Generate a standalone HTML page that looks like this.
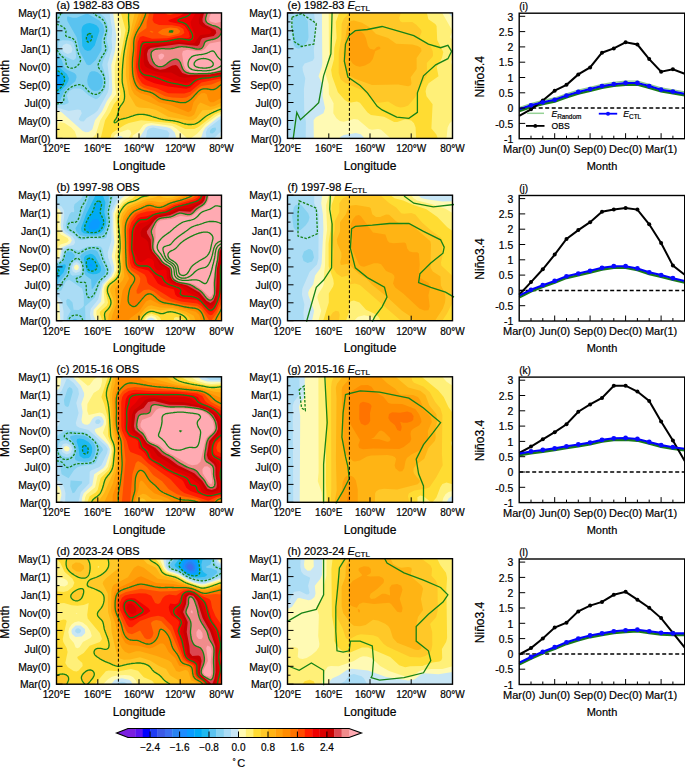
<!DOCTYPE html><html><head><meta charset="utf-8"><style>
html,body{margin:0;padding:0;background:#fff;width:685px;height:768px;overflow:hidden}
body>svg{position:absolute;left:0;top:0}
text{font-family:"Liberation Sans",sans-serif;fill:#000;stroke:#000;stroke-width:0.2px}
</style></head><body>
<svg width="685" height="768" viewBox="0 0 685 768">
<svg x="56.5" y="12.9" width="165" height="125.5" overflow="hidden"><g>
<rect width="165" height="125.5" fill="#1E8CFF"/>
<path fill="#0A9BFF" fill-rule="evenodd" d="M0 0.0 165 0.0 165 125.5 0 125.5Z"/>
<path fill="#00AAF5" fill-rule="evenodd" d="M0 0.0 165 0.0 165 125.5 0 125.5 0 74.8 3.6 71.3 4.6 67.3 3 63.4 0 61.2Z"/>
<path fill="#1EB9F0" fill-rule="evenodd" d="M0 0.0 165 0.0 165 125.5 0 125.5 0 77.9 5.5 73.3 7.7 69.3 8.2 66.3 6.6 62.2 0 57.3ZM33.2 20.6 31.2 21.6 30 24.1 30 27.1 31.2 29.0 33.2 28.8 35.2 25.9 35.2 22.1Z"/>
<path fill="#5AC3F0" fill-rule="evenodd" d="M0 0.0 165 0.0 165 125.5 0 125.5 0 82.2 9.4 72.3 11.8 68.3 12.4 65.3 10.4 61.2 0 52.1ZM33.2 10.2 30.2 10.5 27.2 12.0 25.7 14.1 25 17.1 25.8 33.1 28.2 36.8 31.2 38.1 34.2 37.3 38.2 32.6 42.9 18.1 42.2 15.1 40.2 12.6 37.2 11.0Z"/>
<path fill="#87D2F0" fill-rule="evenodd" d="M0 0.0 165 0.0 165 125.5 0 125.5 0 89.4 3.8 87.3 7.2 79.3 11.1 74.8 18.8 68.3 20.1 64.3 19.7 62.2 17.9 60.2 11.1 57.0 7.6 54.2 5.3 47.2 0 40.5ZM11.1 3.3 10.4 5.0 10.9 8.0 20.1 24.3 23.1 38.4 30.2 51.5 32.2 52.4 34.2 51.9 39.2 47.1 45 37.1 45.2 27.1 47.9 18.1 46.7 12.0 43.3 7.8 31.2 0.9 29.2 1.0 20.1 4.9 16.1 4.8ZM35.2 58.3 33.2 59.7 31.5 63.3 30.7 67.3 31.2 71.3 32.6 74.3 35.2 77.0 38.2 78.2 41.2 77.9 43.7 76.3 45.7 73.3 46.4 69.3 45.8 65.3 44.3 62.1 41.2 59.4 38.2 58.3Z"/>
<path fill="#AADCF5" fill-rule="evenodd" d="M43 0.0 165 0.0 165 125.5 0 125.5 0 92.3 8 91.8 11.6 90.4 12.2 89.4 10.4 82.3 12.6 78.3 17.1 75.6 23.1 75.5 26.2 77.0 32.2 82.5 39.2 86.3 41.2 85.6 43.3 83.7 48.5 76.3 49.5 71.3 49.4 64.3 45.6 52.2 46.8 47.2 51.8 37.1 51.9 34.1 50.1 27.1 51.9 16.1 50.6 10.0 48.3 4.6ZM159 114.7 155.9 115.2 154.1 116.5 153.3 118.5 153.9 120.3 155.9 120.6 158 119.1 159.7 116.5ZM3 28.4 6 27.4 12.1 27.5 15.1 28.3 17.1 30.0 19.2 38.2 19.6 44.2 18.8 46.2 17.1 47.1 15.1 46.7 7 42.6 4.3 40.2 1.9 34.1 2 30.4Z"/>
<path fill="#C8E6F5" fill-rule="evenodd" d="M53 0.0 165 0.0 165 105.2 151.1 115.5 149.3 119.5 150 125.5 111.6 125.5 113 120.5 110.7 117.6 96.6 114.6 92.7 115.5 90.7 117.5 89.3 125.5 0 125.5 0 94.6 12.1 98.2 21.1 96.7 24.1 97.2 25.3 100.4 22.2 106.4 24.1 108.4 27.2 108.7 30.2 105.2 38.1 100.4 41.2 97.5 51.3 79.7 52.3 75.3 52.6 65.3 51 51.2 55.7 35.1 55 26.1 55.7 17.1ZM6.6 32.1 10.1 30.7 14.1 32.0 16 36.1 15.1 39.6 11.1 41.0 7.2 39.2 5.3 35.1ZM165 117.9 165 125.5 157.3 125.5Z"/>
<path fill="#FFFAB4" fill-rule="evenodd" d="M56.6 0.0 165 0.0 165 102.9 161.8 104.4 149 114.5 146.6 118.5 144.4 125.5 120 125.5 118.2 119.5 114.4 115.5 109.7 114.0 95.6 112.3 91.6 113.0 89.3 114.5 82.5 125.5 66.9 125.5 65.4 123.5 63.4 123.0 61.4 123.6 59.6 125.5 0 125.5 0 97.1 5.1 99.4 26.2 118.1 29.2 119.3 32.2 119.2 35.8 116.5 38.5 107.4 45.3 98.8 50.3 88.4 55.1 81.3 55.8 77.3 54.8 52.2 58.5 38.2 59.9 23.1ZM165 122.3 165 125.5 162.2 125.5Z"/>
<path fill="#FFF078" fill-rule="evenodd" d="M60 0.0 165 0.0 165 100.8 160 103.1 149 111.4 140.9 120.6 134.8 125.1 131 125.5 119.7 115.5 115.7 113.1 94.6 110.2 89.5 110.8 86.8 112.4 82.5 118.4 76.3 122.5 76 125.5 72.2 125.5 74.8 120.5 73.8 117.5 71.4 116.6 60.4 120.7 58.1 122.5 56.6 125.5 31 125.5 36.2 124.5 39.2 121.6 43.8 107.4 49.5 98.4 53.3 90.2 59.6 81.3 58.3 70.3 58.2 53.2 64.6 21.1 64.3 17.1ZM0 101.6 1.4 105.4 0 107.6ZM2 110.3 4 109.4 8 110.2 14.7 114.5 18.4 118.5 20.7 125.5 0 125.5 0 116.5Z"/>
<path fill="#FFDC32" fill-rule="evenodd" d="M64.4 0.0 165 0.0 165 98.6 158.5 101.4 141.9 114.2 137.8 116.1 128.8 116.2 118.8 111.4 113.7 110.1 84.5 107.3 72.4 110.1 68.4 111.9 56.3 119.6 54.8 121.5 53.7 125.5 44.1 125.5 48.6 107.4 53.7 99.4 57.4 91.4 62.9 84.3 63.9 81.3 61.7 70.3 61.8 54.2 69.1 17.1Z"/>
<path fill="#FFC828" fill-rule="evenodd" d="M72.2 0.0 165 0.0 165 96.2 151.9 101.9 141.9 109.4 135.8 111.5 128.8 111.1 119.7 108.5 105.7 106.4 90.5 102.1 85.5 101.4 78.5 102.2 63.4 106.8 59.4 109.6 57.7 109.4 60.6 103.4 62.8 95.4 67.2 88.4 68 85.3 67.8 79.3 65.7 68.3 65.9 57.2 67.5 40.2 72.3 17.1Z"/>
<path fill="#FFB414" fill-rule="evenodd" d="M78.2 0.0 165 0.0 165 93.2 154.9 96.9 145.9 97.3 139.8 105.4 136.8 107.1 132.8 107.6 111.7 103.8 99.6 97.1 92.6 95.4 82.5 94.7 79.5 93.3 72.4 81.3 69.3 62.2 69.8 44.2 71.8 29.1Z"/>
<path fill="#FFA00A" fill-rule="evenodd" d="M82.5 0.0 165 0.0 165 89.6 158 93.0 153.9 93.8 143.9 89.7 141.4 92.4 137.8 101.5 134.8 103.6 131.8 103.8 113.7 98.7 107.7 95.4 83.5 85.7 77.7 81.3 75 76.3 72.6 66.3 72.2 45.2 74.4 25.1Z"/>
<path fill="#FF8C00" fill-rule="evenodd" d="M86 0.0 165 0.0 165 84.9 157 89.3 153.9 89.4 152 87.3 150.2 81.3 147.9 80.1 144.9 80.4 141.9 82.9 137 89.4 134.8 97.6 131.8 99.3 114.7 92.4 102.3 89.4 93.6 83.2 83.5 80.0 79.5 77.3 76.4 71.3 74.3 61.2 74.2 46.2 75.5 29.1 77.5 20.9Z"/>
<path fill="#FF7300" fill-rule="evenodd" d="M89.3 0.0 165 0.0 165 71.8 157 76.6 148.9 75.9 144.9 76.5 141.9 78.5 132.8 87.6 126.8 89.8 105.6 86.3 96 80.3 85.5 77.2 81.5 74.8 78.3 69.3 76.2 60.2 76 48.2 77.4 28.1 79.4 21.1 85.5 10.0ZM112.9 19.1 115.7 19.2 116.3 18.1 113.7 17.9Z"/>
<path fill="#FF4B00" fill-rule="evenodd" d="M92.8 0.0 165 0.0 165 67.7 154.9 71.6 144.9 73.2 141.6 75.3 133.8 82.7 129.8 84.5 125.8 85.1 115.7 84.7 108.7 83.4 98.6 78.3 87.5 75.0 83.5 72.7 80 67.3 77.9 58.2 77.7 49.2 79.2 28.1 80.5 23.6 82.5 20.3 90 15.1 90.2 9.0ZM101.8 19.1 101.8 20.1 105.6 22.1 112.7 23.0 121 21.1 122.8 20.1 123.8 18.1 120.7 15.4 113.7 14.5 106.3 16.1ZM92.9 18.1 95.6 19.8 97.2 19.1 94.6 17.8Z"/>
<path fill="#FF1E00" fill-rule="evenodd" d="M97.2 0.0 108.3 0.0 110.7 1.7 113.7 2.2 120.2 0.0 165 0.0 165 65.3 144.9 69.6 133.8 78.9 127.8 80.7 111.7 80.3 100.6 75.7 88.8 72.3 85.5 70.3 81.5 64.0 79.4 54.2 81.2 29.1 83.4 24.1 86.5 23.0 95.6 25.8 110.7 25.4 124.8 22.4 127.9 20.1 126.8 16.1 122.7 13.5 115.7 12.3 102.6 12.0 97.6 10.1 96 7.0Z"/>
<path fill="#F00000" fill-rule="evenodd" d="M165 0.0 165 63.5 142.9 67.2 139.4 69.3 133.8 74.6 129.8 75.8 111.7 73.7 97.8 70.3 89.5 66.8 84.5 62.6 81.9 57.2 81.3 51.2 83.5 32.1 85.5 28.1 107.7 27.7 122.7 25.0 131.8 25.2 133.4 24.1 132.3 19.1 128.3 13.1 124.8 11.3 113.7 9.0 111.8 8.0 112.3 7.0 123.4 3.0 128.2 0.0Z"/>
<path fill="#DC0000" fill-rule="evenodd" d="M165 0.0 165 62.0 141.9 65.1 131.8 69.7 128.8 70.0 118.7 67.9 107.7 63.9 88.5 59.2 85.5 57.2 84.1 54.2 83.8 49.2 85.5 36.1 87.5 32.0 90.5 30.8 109.7 29.4 121.7 27.0 131.8 28.4 135.3 28.1 137.4 26.1 138.2 21.1 134.7 13.1 134 9.0 139.1 0.0Z"/>
<path fill="#C80000" fill-rule="evenodd" d="M165 0.0 165 60.7 153.9 62.5 127.8 64.9 122.7 63.8 114.7 59.7 104.6 59.7 99.6 58.7 91.1 55.2 88.4 53.2 87.2 49.2 87.3 41.2 88 37.1 90.1 34.1 94.6 32.5 111.7 31.0 121.7 29.0 133.8 30.7 138 30.1 143.9 22.0 152.9 21.0 155.1 19.1 153.6 17.1 145.9 13.8 142.8 11.0 142.2 7.0 144.4 0.0Z"/>
<path fill="#DC4650" fill-rule="evenodd" d="M165 0.0 165 59.4 152.9 61.5 131.8 62.1 125.8 60.1 120.9 53.2 119.3 52.2 115.7 52.6 108.6 56.2 103.6 56.8 98 55.2 93.2 51.2 91.2 47.2 90.4 41.2 91.6 37.1 94.1 35.1 122.7 31.1 140.9 33.0 142.9 31.6 144.3 27.1 145.9 25.4 157.3 23.1 159.8 20.1 159.1 17.1 149.2 12.0 146.3 9.0 146 6.0 147.6 0.0Z"/>
<path fill="#F08C8C" fill-rule="evenodd" d="M150.7 0.0 165 0.0 165 18.0 162 14.6 152.9 11.3 149.9 9.0 149.1 6.0ZM165 19.4 165 58.2 151.9 60.6 133.8 60.6 127.8 58.0 123.6 49.2 120.7 46.5 115.7 47.1 107.7 52.7 103.6 53.8 99.4 52.2 95.9 47.2 94.7 40.2 97.6 37.0 102.6 35.9 114.7 35.8 124.8 33.8 143.9 36.0 146.3 34.1 148.9 28.8 160.3 25.1 163.7 22.1Z"/>
<path fill="#FFAAB2" fill-rule="evenodd" d="M154.7 0.0 165 0.0 165 8.9 159 10.1 153.9 8.6 152.8 7.0 152.7 5.0ZM165 28.4 165 56.8 153.9 59.4 141.9 59.8 133.8 59.0 129.1 56.2 127.3 52.2 125.6 41.2 126.4 38.2 130.8 36.9 140.9 38.4 144.9 38.1 148.3 36.1 152.9 30.6ZM104.6 40.7 106.9 41.2 107.9 43.2 105.8 46.2 103.6 46.8 102.3 45.2 101.9 42.2Z"/>
<path fill="none" stroke="#168216" stroke-width="1.3" stroke-dasharray="2.5,1.5" d="M0.0 77.9L1.0 77.4L1.2 77.3L2.0 76.8L2.6 76.3L3.0 76.0L3.7 75.3L4.0 75.0L4.7 74.3L5.0 73.9L5.5 73.3L6.0 72.5L6.2 72.3L6.8 71.3L7.0 70.7L7.3 70.3L7.7 69.3L7.9 68.3L8.0 67.6L8.1 67.3L8.2 66.3L8.1 65.3L8.0 65.2L7.8 64.3L7.3 63.3L7.0 62.9L6.6 62.2L6.0 61.6L5.7 61.2L5.0 60.7L4.5 60.2L4.0 59.8L3.3 59.2L3.0 59.1L2.0 58.4L1.8 58.2L1.0 57.8L0.0 57.3M32.2 20.9L31.9 21.1L31.2 21.6L30.9 22.1L30.3 23.1L30.2 23.5L30.0 24.1L29.9 25.1L29.9 26.1L30.0 27.1L30.2 27.8L30.4 28.1L31.2 29.0L31.8 29.1L32.2 29.2L32.4 29.1L33.2 28.8L34.0 28.1L34.2 27.9L34.7 27.1L35.2 26.1L35.2 25.9L35.4 25.1L35.5 24.1L35.5 23.1L35.2 22.1L35.2 22.0L34.5 21.1L34.2 20.9L33.2 20.6Z"/>
<path fill="none" stroke="#168216" stroke-width="1.3" stroke-dasharray="2.5,1.5" d="M4.4 0.0L4.1 1.0L4.0 1.3L3.8 2.0L3.3 3.0L3.0 3.5L2.7 4.0L2.0 5.0L2.0 5.0L1.0 6.0L1.0 6.0L0.0 6.9M0.0 11.2L1.0 11.5L2.0 11.9L2.3 12.0L3.0 12.3L4.0 12.7L4.7 13.1L5.0 13.2L6.0 13.8L6.4 14.1L7.0 14.5L7.7 15.1L8.0 15.4L8.6 16.1L9.1 16.8L9.2 17.1L9.5 18.1L9.4 19.1L9.3 20.1L9.1 21.1L9.1 22.1L9.1 22.1L9.1 22.1L9.5 23.1L10.1 23.6L11.1 24.1L11.1 24.1L12.1 24.3L13.1 24.5L14.1 24.8L15.0 25.1L15.1 25.1L16.1 25.6L16.9 26.1L17.1 26.3L17.9 27.1L18.1 27.3L18.6 28.1L19.0 29.1L19.1 29.3L19.4 30.1L19.6 31.1L19.8 32.1L20.0 33.1L20.1 33.8L20.2 34.1L20.3 35.1L20.5 36.1L20.7 37.1L21.0 38.2L21.1 38.7L21.3 39.2L21.7 40.2L22.1 41.2L22.1 41.3L22.6 42.2L23.1 43.2L23.1 43.4L23.5 44.2L23.8 45.2L24.0 46.2L24.1 47.2L23.9 48.2L23.6 49.2L23.2 50.2L23.1 50.2L22.5 51.2L22.1 51.6L21.6 52.2L21.1 52.6L20.4 53.2L20.1 53.5L19.1 54.2L19.1 54.2L18.1 54.7L17.1 55.1L16.5 55.2L16.1 55.3L15.1 55.3L14.1 55.3L13.9 55.2L13.1 55.0L12.1 54.6L11.4 54.2L11.1 54.0L10.3 53.2L10.1 52.7L9.9 52.2L9.7 51.2L9.6 50.2L9.6 49.2L9.5 48.2L9.2 47.2L9.1 47.0L8.5 46.2L8.0 45.7L7.6 45.2L7.0 44.8L6.3 44.2L6.0 44.0L5.1 43.2L5.0 43.2L4.0 42.2L4.0 42.2L3.1 41.2L3.0 41.1L2.3 40.2L2.0 39.7L1.7 39.2L1.2 38.2L1.0 37.7L0.7 37.1L0.3 36.1L0.0 35.2M0.0 91.0L1.0 90.9L2.0 90.8L3.0 90.6L4.0 90.4L4.1 90.4L5.0 90.0L6.0 89.4L6.1 89.4L6.9 88.4L7.0 87.9L7.2 87.3L7.4 86.3L7.4 85.3L7.5 84.3L7.6 83.3L7.8 82.3L8.0 81.6L8.1 81.3L8.6 80.3L9.1 79.6L9.2 79.3L10.0 78.3L10.1 78.2L10.9 77.3L11.1 77.1L11.9 76.3L12.1 76.1L13.1 75.3L13.1 75.3L14.1 74.6L14.6 74.3L15.1 74.0L16.1 73.5L16.6 73.3L17.1 73.1L18.1 72.7L19.1 72.4L19.7 72.3L20.1 72.2L21.1 72.0L22.1 71.8L23.1 71.8L24.1 71.9L25.2 72.1L25.5 72.3L26.2 72.6L27.2 73.2L27.2 73.3L28.2 74.1L28.3 74.3L29.2 75.2L29.3 75.3L30.1 76.3L30.2 76.4L31.0 77.3L31.2 77.5L32.0 78.3L32.2 78.5L33.2 79.3L33.2 79.3L34.2 80.0L34.8 80.3L35.2 80.5L36.2 81.0L37.2 81.3L37.4 81.3L38.2 81.5L39.2 81.5L40.2 81.4L40.4 81.3L41.2 81.0L42.3 80.5L42.5 80.3L43.3 79.8L43.9 79.3L44.3 79.0L44.9 78.3L45.3 77.9L45.7 77.3L46.3 76.5L46.4 76.3L46.9 75.3L47.3 74.4L47.3 74.3L47.6 73.3L47.8 72.3L48.0 71.3L48.1 70.3L48.1 69.3L48.1 68.3L48.1 67.3L48.0 66.3L47.8 65.3L47.6 64.3L47.3 63.3L47.3 63.1L47.0 62.2L46.5 61.2L46.3 60.8L46.0 60.2L45.3 59.2L45.3 59.1L44.6 58.2L44.3 57.8L43.8 57.2L43.3 56.4L43.1 56.2L42.4 55.2L42.3 54.9L41.9 54.2L41.6 53.2L41.6 52.2L41.8 51.2L42.1 50.2L42.3 49.9L42.6 49.2L43.0 48.2L43.3 47.7L43.5 47.2L44.1 46.2L44.3 45.8L44.6 45.2L45.2 44.2L45.3 44.1L45.8 43.2L46.3 42.5L46.5 42.2L47.1 41.2L47.3 40.9L47.8 40.2L48.3 39.3L48.4 39.2L48.8 38.2L49.2 37.1L49.3 36.6L49.4 36.1L49.4 35.1L49.3 34.6L49.2 34.1L48.9 33.1L48.6 32.1L48.3 31.2L48.3 31.1L48.0 30.1L47.8 29.1L47.7 28.1L47.7 27.1L47.8 26.1L48.0 25.1L48.3 24.1L48.3 24.1L48.6 23.1L48.9 22.1L49.3 21.1L49.3 21.0L49.6 20.1L49.8 19.1L50.0 18.1L50.0 17.1L50.0 16.1L49.9 15.1L49.7 14.1L49.4 13.1L49.3 12.6L49.1 12.0L48.7 11.0L48.3 10.0L48.3 10.0L47.8 9.0L47.3 8.2L47.2 8.0L46.4 7.0L46.3 6.9L45.4 6.0L45.3 5.9L44.3 5.1L44.1 5.0L43.3 4.5L42.3 4.0L42.3 4.0L41.2 3.5L40.5 3.0L40.2 2.9L39.2 2.2L39.0 2.0L38.2 1.4L37.8 1.0L37.2 0.3L37.0 0.0"/>
<path fill="none" stroke="#168216" stroke-width="1.3" d="M165.0 96.2L164.2 96.4L164.0 96.4L163.0 96.7L162.0 97.1L161.3 97.4L161.0 97.5L160.0 97.9L159.0 98.4L158.9 98.4L158.0 98.8L157.0 99.3L156.8 99.4L155.9 99.8L154.9 100.3L154.8 100.4L153.9 100.8L152.9 101.4L152.8 101.4L151.9 101.9L151.0 102.4L150.9 102.4L149.9 103.1L149.4 103.4L148.9 103.8L148.1 104.4L147.9 104.6L146.9 105.4L146.9 105.4L145.9 106.3L145.7 106.4L144.9 107.1L144.5 107.4L143.9 108.0L143.3 108.4L142.9 108.7L141.9 109.4L141.9 109.4L140.9 110.0L140.0 110.4L139.8 110.5L138.8 110.9L137.8 111.2L136.8 111.4L136.5 111.4L135.8 111.5L134.8 111.6L133.8 111.6L132.8 111.6L131.8 111.6L130.8 111.5L130.7 111.4L129.8 111.3L128.8 111.1L127.8 110.9L126.8 110.6L126.2 110.4L125.8 110.3L124.8 110.0L123.8 109.6L123.2 109.4L122.7 109.3L121.7 109.0L120.7 108.7L119.7 108.5L119.3 108.4L118.7 108.3L117.7 108.1L116.7 108.0L115.7 107.8L114.7 107.7L113.7 107.6L112.7 107.5L112.2 107.4L111.7 107.4L110.7 107.2L109.7 107.1L108.7 106.9L107.7 106.8L106.6 106.6L105.7 106.4L105.6 106.4L104.6 106.2L103.6 105.9L102.6 105.7L101.6 105.4L101.6 105.4L100.6 105.1L99.6 104.8L98.6 104.5L98.2 104.4L97.6 104.2L96.6 103.9L95.6 103.6L95.0 103.4L94.6 103.3L93.6 102.9L92.6 102.6L91.7 102.4L91.6 102.4L90.5 102.1L89.5 101.9L88.5 101.7L87.5 101.6L86.5 101.5L85.5 101.4L84.5 101.4L83.5 101.4L82.5 101.5L81.5 101.6L80.5 101.8L79.5 102.0L78.5 102.2L77.9 102.4L77.5 102.5L76.5 102.9L75.5 103.2L74.9 103.4L74.5 103.6L73.4 103.9L72.4 104.3L72.1 104.4L71.4 104.6L70.4 104.9L69.4 105.2L68.4 105.4L68.4 105.4L67.4 105.6L66.4 105.9L65.4 106.1L64.4 106.4L64.4 106.4L63.4 106.8L62.4 107.2L62.0 107.4L61.4 107.9L60.8 108.4L60.4 108.8L59.6 109.4L59.4 109.6L58.4 109.9L57.7 109.4L57.7 108.4L58.2 107.4L58.4 107.3L59.0 106.4L59.4 106.0L59.7 105.4L60.2 104.4L60.4 104.1L60.6 103.4L60.9 102.4L61.2 101.4L61.4 100.7L61.5 100.4L61.7 99.4L61.9 98.4L62.2 97.4L62.4 96.7L62.5 96.4L62.8 95.4L63.3 94.4L63.4 94.2L63.8 93.4L64.4 92.5L64.5 92.4L65.3 91.4L65.4 91.2L66.0 90.4L66.4 89.8L66.7 89.4L67.2 88.4L67.4 87.9L67.6 87.3L67.8 86.3L68.0 85.3L68.0 84.3L68.1 83.3L68.0 82.3L68.0 81.3L67.9 80.3L67.8 79.3L67.6 78.3L67.5 77.3L67.4 77.0L67.3 76.3L67.0 75.3L66.8 74.3L66.5 73.3L66.4 72.8L66.3 72.3L66.1 71.3L65.9 70.3L65.8 69.3L65.7 68.3L65.7 67.3L65.6 66.3L65.7 65.3L65.7 64.3L65.7 63.3L65.7 62.2L65.7 61.2L65.8 60.2L65.8 59.2L65.8 58.2L65.9 57.2L65.9 56.2L66.0 55.2L66.1 54.2L66.1 53.2L66.2 52.2L66.3 51.2L66.4 50.3L66.4 50.2L66.5 49.2L66.6 48.2L66.7 47.2L66.8 46.2L66.9 45.2L67.0 44.2L67.1 43.2L67.2 42.2L67.4 41.2L67.4 40.8L67.5 40.2L67.7 39.2L67.8 38.2L68.0 37.1L68.2 36.1L68.4 35.2L68.4 35.1L68.6 34.1L68.8 33.1L69.0 32.1L69.2 31.1L69.4 30.1L69.4 29.9L69.6 29.1L69.7 28.1L70.0 27.1L70.2 26.1L70.4 25.1L70.4 25.1L70.7 24.1L70.9 23.1L71.2 22.1L71.4 21.3L71.5 21.1L71.7 20.1L72.0 19.1L72.2 18.1L72.3 17.1L72.4 16.1L72.4 15.5L72.5 15.1L72.5 14.1L72.5 13.1L72.4 12.4L72.4 12.0L72.3 11.0L72.3 10.0L72.2 9.0L72.1 8.0L72.1 7.0L72.0 6.0L72.0 5.0L72.0 4.0L72.1 3.0L72.1 2.0L72.1 1.0L72.2 0.0"/>
<path fill="none" stroke="#168216" stroke-width="1.3" d="M165.0 71.8L164.0 72.2L163.9 72.3L163.0 72.9L162.5 73.3L162.0 73.8L161.3 74.3L161.0 74.6L160.1 75.3L160.0 75.4L159.0 76.0L158.2 76.3L158.0 76.4L157.0 76.6L155.9 76.7L154.9 76.7L153.9 76.6L152.9 76.4L152.4 76.3L151.9 76.2L150.9 76.1L149.9 76.0L148.9 75.9L147.9 75.9L146.9 76.0L145.9 76.2L145.6 76.3L144.9 76.5L143.9 77.0L143.4 77.3L142.9 77.7L142.1 78.3L141.9 78.5L141.0 79.3L140.9 79.5L140.1 80.3L139.8 80.6L139.2 81.3L138.8 81.7L138.3 82.3L137.8 82.9L137.4 83.3L136.8 84.0L136.5 84.3L135.8 85.0L135.5 85.3L134.8 86.0L134.4 86.3L133.8 86.8L133.1 87.3L132.8 87.6L131.8 88.2L131.6 88.4L130.8 88.8L129.8 89.2L129.4 89.4L128.8 89.6L127.8 89.8L126.8 89.8L125.8 89.8L124.8 89.8L123.8 89.7L122.7 89.5L122.0 89.4L121.7 89.3L120.7 89.1L119.7 88.9L118.7 88.7L117.7 88.5L116.9 88.4L116.7 88.3L115.7 88.1L114.7 88.0L113.7 87.8L112.7 87.7L111.7 87.5L110.7 87.4L110.6 87.3L109.7 87.2L108.7 87.0L107.7 86.8L106.6 86.6L105.9 86.3L105.6 86.3L104.6 85.9L103.6 85.4L103.5 85.3L102.6 84.8L101.9 84.3L101.6 84.1L100.6 83.4L100.5 83.3L99.6 82.6L99.2 82.3L98.6 81.9L97.8 81.3L97.6 81.2L96.6 80.6L96.0 80.3L95.6 80.1L94.6 79.7L93.6 79.3L93.5 79.3L92.6 79.0L91.6 78.8L90.5 78.5L89.6 78.3L89.5 78.3L88.5 78.1L87.5 77.8L86.5 77.6L85.8 77.3L85.5 77.2L84.5 76.8L83.5 76.3L83.5 76.3L82.5 75.7L82.0 75.3L81.5 74.8L81.0 74.3L80.5 73.6L80.2 73.3L79.6 72.3L79.5 72.0L79.1 71.3L78.7 70.3L78.5 69.8L78.3 69.3L77.9 68.3L77.6 67.3L77.5 66.8L77.3 66.3L77.1 65.3L76.8 64.3L76.6 63.3L76.5 62.3L76.5 62.2L76.3 61.2L76.2 60.2L76.1 59.2L76.1 58.2L76.0 57.2L76.0 56.2L76.0 55.2L75.9 54.2L75.9 53.2L75.9 52.2L75.9 51.2L75.9 50.2L75.9 49.2L76.0 48.2L76.0 47.2L76.1 46.2L76.1 45.2L76.2 44.2L76.4 43.2L76.5 42.3L76.5 42.2L76.6 41.2L76.7 40.2L76.9 39.2L77.0 38.2L77.1 37.1L77.1 36.1L77.2 35.1L77.2 34.1L77.2 33.1L77.2 32.1L77.2 31.1L77.2 30.1L77.3 29.1L77.4 28.1L77.5 27.2L77.5 27.1L77.7 26.1L77.9 25.1L78.2 24.1L78.5 23.3L78.6 23.1L78.9 22.1L79.4 21.1L79.5 20.8L79.8 20.1L80.3 19.1L80.5 18.8L80.9 18.1L81.4 17.1L81.5 17.0L82.0 16.1L82.5 15.3L82.7 15.1L83.3 14.1L83.5 13.7L83.9 13.1L84.5 12.0L84.5 12.0L85.0 11.0L85.5 10.0L85.5 10.0L86.0 9.0L86.4 8.0L86.5 7.8L86.9 7.0L87.3 6.0L87.5 5.4L87.7 5.0L88.1 4.0L88.5 3.0L88.5 2.8L88.8 2.0L89.1 1.0L89.3 0.0M113.7 17.9L113.2 18.1L112.9 19.1L113.7 19.3L114.7 19.3L115.7 19.2L116.0 19.1L116.3 18.1L115.7 17.9L114.7 17.8L113.7 17.9"/>
<path fill="none" stroke="#168216" stroke-width="1.3" d="M165.0 62.8L164.0 62.9L163.0 63.0L162.0 63.2L161.7 63.3L161.0 63.4L160.0 63.6L159.0 63.8L158.0 64.0L157.0 64.2L156.4 64.3L155.9 64.3L154.9 64.5L153.9 64.7L152.9 64.8L151.9 64.9L150.9 64.9L149.9 65.0L148.9 65.1L147.9 65.2L146.9 65.2L146.6 65.3L145.9 65.3L144.9 65.5L143.9 65.7L142.9 65.9L141.9 66.2L141.6 66.3L140.9 66.6L139.8 67.0L139.3 67.3L138.8 67.6L137.8 68.3L137.8 68.3L136.8 69.1L136.7 69.3L135.8 70.1L135.6 70.3L134.8 71.1L134.6 71.3L133.8 71.9L133.1 72.3L132.8 72.5L131.8 72.8L130.8 73.0L129.8 73.1L128.8 73.0L127.8 72.8L126.8 72.6L125.8 72.3L125.8 72.3L124.8 72.0L123.8 71.7L122.7 71.5L121.8 71.3L121.7 71.3L120.7 71.1L119.7 70.9L118.7 70.7L117.7 70.6L116.7 70.4L116.3 70.3L115.7 70.2L114.7 70.0L113.7 69.7L112.7 69.5L112.0 69.3L111.7 69.2L110.7 68.9L109.7 68.5L108.9 68.3L108.7 68.2L107.7 67.8L106.6 67.4L106.4 67.3L105.6 67.0L104.6 66.6L104.0 66.3L103.6 66.1L102.6 65.8L101.6 65.4L101.3 65.3L100.6 65.0L99.6 64.7L98.6 64.3L98.5 64.3L97.6 64.0L96.6 63.7L95.6 63.4L95.1 63.3L94.6 63.1L93.6 62.9L92.6 62.7L91.6 62.6L90.5 62.5L89.5 62.3L89.3 62.2L88.5 62.1L87.5 61.7L86.6 61.2L86.5 61.2L85.5 60.4L85.3 60.2L84.5 59.3L84.4 59.2L83.8 58.2L83.5 57.6L83.4 57.2L83.0 56.2L82.7 55.2L82.6 54.2L82.5 53.7L82.5 53.2L82.4 52.2L82.4 51.2L82.4 50.2L82.5 49.4L82.5 49.2L82.6 48.2L82.8 47.2L82.9 46.2L83.0 45.2L83.2 44.2L83.3 43.2L83.4 42.2L83.5 41.6L83.6 41.2L83.7 40.2L83.8 39.2L83.9 38.2L84.1 37.1L84.2 36.1L84.3 35.1L84.5 34.2L84.5 34.1L84.8 33.1L85.2 32.1L85.5 31.4L85.7 31.1L86.5 30.3L86.7 30.1L87.5 29.7L88.5 29.5L89.5 29.4L90.5 29.4L91.6 29.4L92.6 29.4L93.6 29.4L94.6 29.4L95.6 29.4L96.6 29.3L97.6 29.3L98.6 29.2L99.6 29.2L100.6 29.1L100.6 29.1L101.6 29.1L102.6 29.0L103.6 28.9L104.6 28.9L105.6 28.8L106.6 28.7L107.7 28.6L108.7 28.5L109.7 28.4L110.7 28.3L111.7 28.1L111.8 28.1L112.7 28.0L113.7 27.8L114.7 27.5L115.7 27.3L116.5 27.1L116.7 27.1L117.7 26.8L118.7 26.6L119.7 26.4L120.7 26.2L121.4 26.1L121.7 26.1L122.7 26.0L123.8 25.9L124.8 25.9L125.8 26.0L126.3 26.1L126.8 26.2L127.8 26.4L128.8 26.6L129.8 26.8L130.8 27.0L131.7 27.1L131.8 27.1L132.8 27.1L133.0 27.1L133.8 27.0L134.8 26.4L135.2 26.1L135.8 25.2L135.9 25.1L136.1 24.1L136.2 23.1L136.0 22.1L135.8 21.4L135.7 21.1L135.3 20.1L134.8 19.2L134.7 19.1L134.2 18.1L133.8 17.5L133.6 17.1L133.1 16.1L132.8 15.6L132.5 15.1L131.9 14.1L131.8 13.8L131.3 13.1L130.8 12.5L130.4 12.0L129.8 11.5L129.2 11.0L128.8 10.8L127.8 10.2L127.2 10.0L126.8 9.8L125.8 9.5L124.8 9.2L124.0 9.0L123.8 8.9L122.7 8.5L121.7 8.1L121.6 8.0L121.6 7.0L121.7 6.9L122.7 6.3L123.2 6.0L123.8 5.8L124.8 5.5L125.8 5.1L126.1 5.0L126.8 4.8L127.8 4.5L128.8 4.2L129.2 4.0L129.8 3.8L130.8 3.3L131.3 3.0L131.8 2.6L132.6 2.0L132.8 1.8L133.5 1.0L133.8 0.4L134.1 0.0"/>
<path fill="none" stroke="#168216" stroke-width="1.3" d="M165.0 18.0L164.7 17.1L164.0 16.2L163.9 16.1L163.0 15.3L162.7 15.1L162.0 14.6L161.0 14.1L160.9 14.1L160.0 13.7L159.0 13.3L158.2 13.1L158.0 13.0L157.0 12.7L155.9 12.4L154.9 12.1L154.8 12.0L153.9 11.7L152.9 11.3L152.4 11.0L151.9 10.8L150.9 10.1L150.8 10.0L149.9 9.1L149.9 9.0L149.4 8.0L149.1 7.0L149.1 6.0L149.2 5.0L149.5 4.0L149.8 3.0L149.9 2.5L150.1 2.0L150.4 1.0L150.7 0.0M165.0 58.2L164.6 58.2L164.0 58.3L163.0 58.6L162.0 58.8L161.0 59.0L160.2 59.2L160.0 59.3L159.0 59.5L158.0 59.8L157.0 60.0L155.9 60.1L155.2 60.2L154.9 60.3L153.9 60.4L152.9 60.5L151.9 60.6L150.9 60.7L149.9 60.7L148.9 60.7L147.9 60.8L146.9 60.8L145.9 60.8L144.9 60.8L143.9 60.8L142.9 60.8L141.9 60.8L140.9 60.9L139.8 60.9L138.8 60.9L137.8 60.9L136.8 60.8L135.8 60.8L134.8 60.7L133.8 60.6L132.8 60.4L132.2 60.2L131.8 60.1L130.8 59.8L129.8 59.4L129.5 59.2L128.8 58.8L128.0 58.2L127.8 58.0L127.1 57.2L126.8 56.8L126.4 56.2L125.9 55.2L125.8 55.0L125.4 54.2L125.1 53.2L124.8 52.2L124.8 52.2L124.4 51.2L124.0 50.2L123.8 49.5L123.6 49.2L123.0 48.2L122.7 47.9L121.9 47.2L121.7 47.0L120.7 46.5L119.7 46.3L118.7 46.3L117.7 46.4L116.7 46.7L115.7 47.1L115.5 47.2L114.7 47.6L113.7 48.2L113.7 48.2L112.7 48.9L112.4 49.2L111.7 49.7L111.1 50.2L110.7 50.6L109.9 51.2L109.7 51.4L108.7 52.1L108.5 52.2L107.7 52.7L106.7 53.2L106.6 53.2L105.6 53.5L104.6 53.7L103.6 53.8L102.6 53.7L101.6 53.4L101.0 53.2L100.6 53.0L99.6 52.4L99.4 52.2L98.6 51.5L98.3 51.2L97.6 50.4L97.5 50.2L96.8 49.2L96.6 48.7L96.3 48.2L95.9 47.2L95.6 46.3L95.5 46.2L95.2 45.2L94.9 44.2L94.7 43.2L94.6 42.3L94.5 42.2L94.5 41.2L94.6 40.8L94.7 40.2L95.0 39.2L95.6 38.4L95.8 38.2L96.6 37.5L97.2 37.1L97.6 37.0L98.6 36.6L99.6 36.3L100.5 36.1L100.6 36.1L101.6 36.0L102.6 35.9L103.6 35.9L104.6 35.8L105.6 35.8L106.6 35.8L107.7 35.8L108.7 35.9L109.7 35.9L110.7 35.9L111.7 35.9L112.7 35.9L113.7 35.9L114.7 35.8L115.7 35.6L116.7 35.4L117.7 35.2L117.8 35.1L118.7 34.9L119.7 34.6L120.7 34.4L121.7 34.1L121.8 34.1L122.7 34.0L123.8 33.9L124.8 33.8L125.8 33.8L126.8 33.9L127.8 33.9L128.8 34.0L129.8 34.1L130.0 34.1L130.8 34.2L131.8 34.4L132.8 34.5L133.8 34.7L134.8 34.9L135.8 35.1L135.9 35.1L136.8 35.4L137.8 35.6L138.8 35.9L139.8 36.1L140.3 36.1L140.9 36.2L141.9 36.3L142.9 36.2L143.4 36.1L143.9 36.0L144.9 35.6L145.5 35.1L145.9 34.7L146.3 34.1L146.9 33.1L146.9 33.1L147.3 32.1L147.6 31.1L147.9 30.4L148.0 30.1L148.6 29.1L148.9 28.8L149.8 28.1L149.9 28.1L150.9 27.7L151.9 27.4L152.9 27.2L153.5 27.1L153.9 27.0L154.9 26.8L155.9 26.6L157.0 26.4L157.9 26.1L158.0 26.1L159.0 25.7L160.0 25.3L160.3 25.1L161.0 24.7L161.8 24.1L162.0 23.9L162.9 23.1L163.0 23.0L163.7 22.1L164.0 21.6L164.4 21.1L164.8 20.1L165.0 19.4"/>
<path fill="none" stroke="#168216" stroke-width="1.3" d="M165.0 52.5L164.2 53.2L164.0 53.3L163.0 54.0L162.6 54.2L162.0 54.6L161.0 55.1L160.8 55.2L160.0 55.6L159.0 56.0L158.5 56.2L158.0 56.4L157.0 56.8L155.9 57.0L155.2 57.2L154.9 57.3L153.9 57.5L152.9 57.6L151.9 57.7L150.9 57.8L149.9 57.9L148.9 57.9L147.9 57.9L146.9 57.9L145.9 57.9L144.9 57.8L143.9 57.8L142.9 57.8L141.9 57.7L140.9 57.6L139.8 57.5L138.8 57.4L138.0 57.2L137.8 57.2L136.8 57.0L135.8 56.7L134.8 56.3L134.8 56.2L133.8 55.7L133.2 55.2L132.8 54.8L132.3 54.2L131.8 53.2L131.8 53.1L131.6 52.2L131.5 51.2L131.6 50.2L131.8 49.2L131.8 49.1L132.1 48.2L132.5 47.2L132.8 46.7L133.1 46.2L133.8 45.3L133.9 45.2L134.8 44.3L134.9 44.2L135.8 43.5L136.5 43.2L136.8 43.0L137.8 42.7L138.8 42.4L139.8 42.2L140.3 42.2L140.9 42.1L141.9 41.9L142.9 41.8L143.9 41.7L144.9 41.6L145.9 41.4L146.9 41.2L147.0 41.2L147.9 41.0L148.9 40.7L149.9 40.4L150.6 40.2L150.9 40.0L151.9 39.6L152.8 39.2L152.9 39.1L153.9 38.6L154.9 38.2L155.1 38.2L155.9 38.0L156.5 38.2L157.0 38.3L158.0 39.0L158.1 39.2L158.8 40.2L159.0 40.4L159.4 41.2L160.0 42.2L160.0 42.2L160.6 43.2L161.0 43.6L161.4 44.2L162.0 44.8L162.3 45.2L163.0 45.9L163.3 46.2L164.0 46.8L164.5 47.2L165.0 47.7"/>
<path fill="none" stroke="#168216" stroke-width="1.3" d="M142.9 46.2L143.9 45.9L144.9 45.8L145.9 45.7L146.9 45.6L147.9 45.7L148.9 45.7L149.9 45.9L150.9 46.1L151.1 46.2L151.9 46.5L152.9 46.9L153.5 47.2L153.9 47.4L154.9 48.2L155.0 48.2L155.9 49.2L156.0 49.2L156.6 50.2L156.8 51.2L156.6 52.2L155.9 53.1L155.9 53.2L154.9 53.8L154.2 54.2L153.9 54.3L152.9 54.6L151.9 54.8L150.9 55.0L149.9 55.1L148.9 55.2L147.9 55.2L146.9 55.2L145.9 55.1L144.9 55.0L143.9 54.9L142.9 54.8L141.9 54.6L140.9 54.3L140.5 54.2L139.8 53.9L138.8 53.4L138.6 53.2L137.8 52.3L137.8 52.2L137.6 51.2L137.7 50.2L137.8 50.0L138.3 49.2L138.8 48.5L139.1 48.2L139.8 47.6L140.5 47.2L140.9 47.0L141.9 46.5L142.8 46.2Z"/>
</g></svg>
<line x1="118.4" y1="12.9" x2="118.4" y2="138.4" stroke="#000" stroke-width="1" stroke-dasharray="3,2"/>
<rect x="56.5" y="12.9" width="165" height="125.5" fill="none" stroke="#000" stroke-width="1.4"/>
<line x1="56.5" y1="138.4" x2="62.5" y2="138.4" stroke="#000" stroke-width="1"/>
<line x1="56.5" y1="129.4" x2="59.5" y2="129.4" stroke="#000" stroke-width="1"/>
<line x1="56.5" y1="120.5" x2="62.5" y2="120.5" stroke="#000" stroke-width="1"/>
<line x1="56.5" y1="111.5" x2="59.5" y2="111.5" stroke="#000" stroke-width="1"/>
<line x1="56.5" y1="102.5" x2="62.5" y2="102.5" stroke="#000" stroke-width="1"/>
<line x1="56.5" y1="93.6" x2="59.5" y2="93.6" stroke="#000" stroke-width="1"/>
<line x1="56.5" y1="84.6" x2="62.5" y2="84.6" stroke="#000" stroke-width="1"/>
<line x1="56.5" y1="75.7" x2="59.5" y2="75.7" stroke="#000" stroke-width="1"/>
<line x1="56.5" y1="66.7" x2="62.5" y2="66.7" stroke="#000" stroke-width="1"/>
<line x1="56.5" y1="57.7" x2="59.5" y2="57.7" stroke="#000" stroke-width="1"/>
<line x1="56.5" y1="48.8" x2="62.5" y2="48.8" stroke="#000" stroke-width="1"/>
<line x1="56.5" y1="39.8" x2="59.5" y2="39.8" stroke="#000" stroke-width="1"/>
<line x1="56.5" y1="30.8" x2="62.5" y2="30.8" stroke="#000" stroke-width="1"/>
<line x1="56.5" y1="21.9" x2="59.5" y2="21.9" stroke="#000" stroke-width="1"/>
<line x1="56.5" y1="12.9" x2="62.5" y2="12.9" stroke="#000" stroke-width="1"/>
<line x1="97.8" y1="138.4" x2="97.8" y2="133.4" stroke="#000" stroke-width="1"/>
<line x1="139.0" y1="138.4" x2="139.0" y2="133.4" stroke="#000" stroke-width="1"/>
<line x1="180.2" y1="138.4" x2="180.2" y2="133.4" stroke="#000" stroke-width="1"/>
<svg x="56.5" y="195.2" width="165" height="125.5" overflow="hidden"><g>
<rect width="165" height="125.5" fill="#0A9BFF"/>
<path fill="#00AAF5" fill-rule="evenodd" d="M0 0.0 165 0.0 165 125.5 0 125.5ZM41.2 23.8 37.2 23.9 34.2 26.7 32 31.1 33 34.1 38.2 34.9 42.3 32.3 43.6 27.1ZM33.2 68.9 33.5 71.3 35.8 71.3 35.2 68.9Z"/>
<path fill="#1EB9F0" fill-rule="evenodd" d="M0 0.0 165 0.0 165 125.5 0 125.5 0 79.4 2.5 75.3 0 74.2ZM43.3 6.2 41.2 6.0 39.1 8.0 36.4 16.1 32.2 22.1 28.9 29.1 28.2 34.1 31.2 36.8 36.2 37.5 41.2 36.6 44.3 34.5 46.3 31.1 47.2 26.1 43.8 18.1 45 9.0ZM31.2 63.6 29.8 67.3 31.2 73.8 34.2 75.8 38.2 75.3 40.4 72.3 39.1 67.3 35.2 63.5 33.2 63.0Z"/>
<path fill="#5AC3F0" fill-rule="evenodd" d="M0 0.0 39 0.0 29.6 19.1 24.5 33.1 24.9 36.1 27.2 38.1 35.2 39.4 40.2 39.0 44.3 37.6 47.3 34.4 49.3 29.7 49.7 25.1 47.8 17.1 48.9 7.0 46.3 0.0 165 0.0 165 125.5 0 125.5 0 85.0 7 77.3 9.3 71.3 9.1 69.6 8 69.0 0 71.3ZM29.2 60.2 27.6 62.2 27.4 64.3 30.2 76.4 32.2 78.1 36.2 79.1 40.2 78.9 43.3 77.4 44.5 75.3 44.2 71.3 38.7 61.2 36.4 59.2 34.2 58.6Z"/>
<path fill="#87D2F0" fill-rule="evenodd" d="M0 0.0 33.1 0.0 23.3 26.1 18.9 33.1 19.8 36.1 23.1 39.9 29.2 41.2 43.3 40.6 46.3 39.5 48.4 37.1 51.7 28.1 50.6 17.1 52.3 7.0 52.3 0.0 165 0.0 165 125.5 22.5 125.5 19.1 123.5 17.1 123.8 15 125.5 0 125.5 0 90.6 10 78.3 12.7 68.3 17.9 62.2 18.5 60.2 15.1 56.5 11.1 56.1 9.4 58.2 8.2 63.3 6.5 66.3 0 69.7ZM35.2 54.4 29.2 56.1 24.8 59.2 23.5 61.2 26.7 69.3 28.2 78.5 29.2 80.3 34.6 84.3 35.2 93.5 36.2 93.6 41.5 85.3 48.1 79.3 49.3 75.3 41.2 56.6 39.2 55.0Z"/>
<path fill="#AADCF5" fill-rule="evenodd" d="M0 0.0 26.5 0.0 24.3 4.0 18 9.0 17.3 12.0 17.8 16.1 17.1 17.0 15.1 16.9 13.1 18.8 10.1 26.3 9.1 31.1 10.9 35.1 17.1 38.9 22.1 44.1 25.2 44.8 34.2 43.3 47.3 43.9 49.9 42.2 53.3 30.1 53 16.1 57 0.0 165 0.0 165 125.5 29 125.5 28.6 111.4 38.3 102.4 44 87.3 52.1 78.3 52.4 73.3 47.7 62.2 45.7 53.2 44.3 51.6 41.2 50.8 31.2 51.4 22.1 55.6 14.8 53.2 10.1 53.7 7.8 56.2 5.7 64.3 3 66.9 0 68.2ZM21.1 64.7 23.1 65.9 25.2 69.1 25.5 76.3 23.1 79.5 16.1 80.6 14.3 79.3 13.6 77.3 14 70.3 17.1 66.0ZM13.1 84.9 25.6 93.4 27.2 99.4 27.4 110.4 25.9 112.4 22.1 114.8 17.1 114.6 16 107.4 13.1 104.4 11.1 103.6 9.7 105.4 10.1 109.4 14.3 115.5 11.1 121.4 10 125.5 0 125.5 0 96.9 4.7 95.4 9.1 86.8 11.1 85.1Z"/>
<path fill="#C8E6F5" fill-rule="evenodd" d="M62.2 0.0 165 0.0 165 125.5 34.5 125.5 33.4 118.5 34.3 113.5 41.6 104.4 45.7 88.4 53.5 80.3 55.1 76.3 55.1 72.3 51.6 62.2 51.2 57.2 54.9 45.2 55.1 16.1ZM0 9.2 5 11.3 7.4 15.1 7.8 20.1 6.5 30.1 7 34.1 9.1 36.7 15.9 41.2 17.9 44.2 18.6 47.2 17.1 49.8 10.1 51.6 7.2 53.2 6 55.2 4.5 63.3 2.9 65.3 0 66.9ZM20.1 66.9 23.1 68.7 24.3 73.3 23 76.3 19.1 77.7 16.1 76.0 15.3 72.3 17.1 68.4ZM0 101.1 3 102.6 5.3 106.4 7.1 116.5 6.9 125.5 0 125.5Z"/>
<path fill="#FFFAB4" fill-rule="evenodd" d="M65.4 2.9 69.2 0.0 165 0.0 165 125.5 99 125.5 97.4 123.5 94.6 122.4 91.6 123.2 89.7 125.5 39.3 125.5 36.8 119.5 37.2 114.5 44.6 106.4 45.5 94.4 47 89.4 54.9 81.3 57.3 76.3 57.6 71.3 55.2 61.2 57.9 47.2 56.9 36.1 56.8 18.1 59.8 10.0ZM0 12.8 3 14.4 5 18.1 4.1 30.1 4.9 35.1 7 37.8 13.9 42.2 15.3 45.2 13.7 48.2 5 52.4 3.3 62.2 0 65.5ZM20.1 69.3 21.8 70.3 22.4 72.3 21.6 74.3 20.1 75.0 18.2 74.3 17.4 72.3 18.2 70.3ZM0 104.9 1.6 106.4 2.7 109.4 3.9 125.5 0 125.5Z"/>
<path fill="#FFF078" fill-rule="evenodd" d="M66.4 5.7 74.6 0.0 165 0.0 165 125.5 101.7 125.5 98.6 121.6 94.6 120.3 90.5 121.7 87.8 125.5 42.9 125.5 39.9 119.5 39.9 115.5 48.1 107.4 47.1 96.4 47.9 91.4 50.3 87.4 57 81.3 59.6 75.3 59.9 71.3 58.4 61.2 60.2 47.2 58.6 19.1 61.2 12.0ZM0 15.9 2 18.0 2.6 20.1 1.5 30.1 2.2 36.1 4.4 39.2 11.1 42.7 12.3 45.2 10.6 47.2 4 49.4 2.1 51.2 2.2 60.2 0 63.8Z"/>
<path fill="#FFDC32" fill-rule="evenodd" d="M67.4 7.9 76.3 3.0 79.3 0.0 165 0.0 165 125.5 126.9 125.5 123.8 122.5 119.7 121.7 117.7 122.5 117.1 125.5 105 125.5 103.5 122.5 101.2 120.5 94.6 118.3 89.5 120.4 86.1 125.5 45.9 125.5 43.3 118.5 43.4 116.5 50.3 110.5 51.6 107.4 49.1 97.4 49.3 92.4 51.3 88.6 59.2 81.3 61.6 75.3 60.8 62.2 62 48.2 60.2 21.1 62 15.1Z"/>
<path fill="#FFC828" fill-rule="evenodd" d="M69.4 9.3 85.5 1.7 92.8 0.0 165 0.0 165 125.5 130.5 125.5 129 122.5 126.8 120.5 118.7 117.3 112.7 116.6 104.6 118.4 94.6 116.2 91.6 117.0 88.5 119.2 84.4 125.5 48.7 125.5 48.1 118.5 53.3 111.5 54.5 107.4 51.2 97.4 51.3 92.4 53.1 89.4 60.9 82.3 63.3 76.3 62.8 62.2 63.6 49.2 61.9 23.1 64 16.1Z"/>
<path fill="#FFB414" fill-rule="evenodd" d="M71.3 11.0 88.5 4.2 99 2.0 102.5 0.0 106.6 2.4 110.7 2.9 116.7 2.1 121.3 0.0 165 0.0 165 125.5 134.1 125.5 133 122.5 130.1 119.5 120.5 115.5 113.7 114.1 103.6 115.1 94.6 113.6 91.6 114.5 87.5 117.7 84.4 121.5 82.5 125.5 51.6 125.5 52.2 119.5 56.3 111.6 57.2 107.4 56.6 103.4 53.7 96.4 53.6 93.4 55.3 90.4 63.1 83.3 65.2 78.3 65 49.2 63.7 25.1 65.7 18.1Z"/>
<path fill="#FFA00A" fill-rule="evenodd" d="M165 0.0 165 125.5 139.2 125.5 137.2 120.5 129.9 116.5 116.7 112.7 103.6 112.2 94.6 110.0 91.6 110.8 88.5 113.4 81.9 121.5 79.6 125.5 54.6 125.5 55.6 120.5 60.1 108.4 58.4 93.6 66 85.3 67.9 81.3 66.2 64.3 65.5 28.1 67 21.1 71.1 15.1 75 12.0 90.5 6.0 95.6 5.7 104.6 7.2 119.8 3.0 126.3 0.0Z"/>
<path fill="#FF8C00" fill-rule="evenodd" d="M165 0.0 165 119.1 161.7 125.5 144.4 125.5 142.7 119.5 139.3 116.5 117.7 111.1 103.6 109.4 93.6 104.4 89.5 106.4 82.5 116.5 73.4 123.3 72.2 125.5 58.5 125.5 63 113.5 66.1 95.4 72.7 83.3 69.4 75.3 68.3 70.3 67.1 32.1 68.4 24.1 72.9 17.1 76.6 14.1 90.5 8.2 94.6 7.9 101.3 10.0 104.6 10.0 131.6 0.0Z"/>
<path fill="#FF7300" fill-rule="evenodd" d="M76.5 17.0 91.6 10.3 101.6 12.2 105.6 11.8 113.7 8.0 130 3.0 136.3 0.0 165 0.0 165 113.7 158.9 125.5 147.9 125.5 145.6 118.5 141.9 114.3 106.6 107.3 102.7 105.4 96.6 100.1 93.6 98.7 89.5 99.8 78.5 111.2 75.5 110.9 72.6 108.4 71.6 104.4 72.6 96.4 73.9 92.4 77.5 86.3 78.2 83.3 76.7 80.3 71.8 75.3 70.1 71.3 68.8 33.1 70.5 25.1Z"/>
<path fill="#FF4B00" fill-rule="evenodd" d="M78.8 18.1 91.6 12.9 101.6 14.1 106.6 13.3 115.7 8.9 135.8 2.8 139.8 0.0 165 0.0 165 107.6 160.5 117.5 154.9 125.3 152.9 125.5 145.6 114.5 140.9 111.0 126.8 109.3 110.5 105.4 104.7 102.4 97.4 96.4 92.6 94.4 87.5 94.9 82.5 98.6 80.3 98.4 80 95.4 83.4 87.3 83.8 83.3 82.2 80.3 74.8 75.3 72.4 72.3 71.5 68.3 70.3 36.1 71.1 30.1 74.4 23.1Z"/>
<path fill="#FF1E00" fill-rule="evenodd" d="M80.5 19.9 83.9 18.1 90.5 16.4 107.7 14.7 117.2 10.0 137.8 4.0 140.9 2.2 142.3 0.0 165 0.0 165 102.0 160 114.4 155.9 119.5 153.9 120.1 151.9 119.1 144.9 110.8 140.9 108.3 124.3 106.4 114.9 103.4 92.4 89.4 90.9 87.3 89.9 82.3 88 79.3 75.3 72.3 73.6 68.3 72.3 55.2 72.3 35.1 74.8 27.1Z"/>
<path fill="#F00000" fill-rule="evenodd" d="M81.5 23.1 84.5 21.7 90.5 21.0 97.6 18.2 108.7 16.1 119.2 11.0 138.8 5.6 142.8 3.0 144.4 0.0 165 0.0 164.8 92.4 163.8 99.4 159 112.3 155.9 116.0 153.9 116.5 151.9 115.6 143.9 107.1 139.8 104.6 125.8 103.4 120.7 101.6 118.7 99.4 117.5 94.4 105.6 90.9 101.4 88.4 95.7 79.3 91.9 75.3 80.9 72.3 77.8 70.3 76.4 67.3 74.2 54.2 74.4 37.1 76.5 29.9Z"/>
<path fill="#DC0000" fill-rule="evenodd" d="M165 0.0 165 66.5 163 73.6 162.6 96.4 161.4 102.4 159 108.6 156.3 112.4 153.9 113.4 150.9 111.8 140.9 101.5 131.2 97.4 125.5 92.4 113.1 87.3 110.3 83.3 110 75.3 107.7 74.0 102.6 75.4 99.6 74.3 97.7 71.3 97.3 66.3 95.6 64.0 91.6 62.9 85.5 66.9 83.5 66.8 81.5 65.4 76.9 54.2 77.7 39.2 78.7 34.1 81.5 29.5 83.5 28.1 90.5 26.5 98.6 20.0 110.7 17.1 119.7 12.6 140.9 6.7 144.4 4.0 146.1 0.0Z"/>
<path fill="#C80000" fill-rule="evenodd" d="M165 0.0 165 54.9 161.7 73.3 161 97.4 158 107.1 155.9 109.7 153.9 110.5 149.9 108.2 140.9 98.4 129 91.4 118.7 88.2 114.7 85.7 112.8 82.3 112.7 76.2 111.7 73.5 103.6 69.5 99.7 63.3 94.7 58.2 92.9 54.2 91.6 46.8 89.5 44.4 84.7 41.2 83.9 37.1 86.1 33.1 92.6 28.9 97.5 23.1 100.6 21.0 112.7 18.2 121.7 13.9 132.8 12.7 144 7.0 146.5 4.0 147.7 0.0Z"/>
<path fill="#DC4650" fill-rule="evenodd" d="M165 0.0 165 53.0 163 56.2 162.6 63.3 160.5 73.3 159.4 99.4 157 105.5 153.9 107.7 149.9 105.5 143 97.4 130.8 90.2 119.7 87.2 115.7 84.4 114.2 81.3 113.2 73.3 105.6 68.3 95.9 56.2 94.8 53.2 94.2 44.2 90.6 38.2 90.3 36.1 98.2 25.1 101.6 22.3 113.7 19.8 122.7 15.7 133.8 16.5 139 12.0 145.9 7.8 147.9 5.0 149.2 0.0Z"/>
<path fill="#F08C8C" fill-rule="evenodd" d="M165 0.0 165 51.8 163 53.6 162 56.0 159.4 72.3 158 87.3 157.9 99.4 155.9 103.7 152.9 104.9 149.9 102.7 144.7 96.4 136.8 91.1 132.8 89.2 120.7 86.5 116.7 83.7 115.5 81.3 113.9 72.3 106.5 67.3 97.1 55.2 96.3 51.2 96.6 43.2 94.8 36.1 99 27.1 102.6 23.7 113.7 21.8 122.7 18.0 130.8 19.4 134.2 19.1 147.9 8.3 149.8 5.0 150.9 0.0Z"/>
<path fill="#FFAAB2" fill-rule="evenodd" d="M165 0.0 165 50.7 162 53.2 161 56.0 156.6 85.3 156.3 98.4 154.9 101.3 152.9 101.8 145.3 94.4 137.7 89.4 133.8 87.9 122.7 86.2 117.8 83.3 116.3 80.3 115 72.3 107 66.3 98.2 54.2 97.8 50.2 99.1 42.2 98.8 34.1 100.7 28.1 103.6 25.2 114.7 23.8 123.8 20.7 130.8 21.5 134.8 21.0 149.8 9.0 151.8 5.0 152.7 0.0Z"/>
<path fill="none" stroke="#168216" stroke-width="1.3" stroke-dasharray="2.5,1.5" d="M0.0 79.4L0.1 79.3L1.0 78.4L1.1 78.3L1.8 77.3L2.0 77.0L2.4 76.3L2.5 75.3L2.0 74.7L1.2 74.3L1.0 74.3L0.0 74.2M42.3 5.9L41.3 6.0L41.2 6.0L40.2 6.6L39.8 7.0L39.2 7.7L39.1 8.0L38.5 9.0L38.2 9.8L38.2 10.0L37.9 11.0L37.7 12.0L37.4 13.1L37.2 13.9L37.2 14.1L36.9 15.1L36.4 16.1L36.2 16.3L35.8 17.1L35.2 17.8L35.0 18.1L34.3 19.1L34.2 19.1L33.5 20.1L33.2 20.5L32.8 21.1L32.2 22.1L32.2 22.1L31.7 23.1L31.2 24.0L31.2 24.1L30.7 25.1L30.2 26.1L30.2 26.2L29.8 27.1L29.3 28.1L29.2 28.5L28.9 29.1L28.5 30.1L28.3 31.1L28.2 31.6L28.1 32.1L28.0 33.1L28.2 34.1L28.2 34.1L28.6 35.1L29.2 35.7L29.7 36.1L30.2 36.4L31.2 36.8L32.2 37.1L32.2 37.1L33.2 37.3L34.2 37.4L35.2 37.5L36.2 37.5L37.2 37.5L38.2 37.4L39.2 37.2L39.5 37.1L40.2 37.0L41.2 36.6L42.2 36.1L42.3 36.1L43.3 35.4L43.6 35.1L44.3 34.5L44.5 34.1L45.3 33.1L45.3 33.1L45.8 32.1L46.3 31.2L46.3 31.1L46.7 30.1L47.0 29.1L47.2 28.1L47.3 27.1L47.2 26.1L47.0 25.1L46.7 24.1L46.3 23.1L46.3 23.0L45.8 22.1L45.3 21.1L45.3 21.0L44.7 20.1L44.3 19.1L44.3 19.1L43.8 18.1L43.7 17.1L43.7 16.1L43.8 15.1L44.1 14.1L44.3 13.6L44.4 13.1L44.7 12.0L44.9 11.0L45.0 10.0L45.0 9.0L44.7 8.0L44.3 7.2L44.2 7.0L43.3 6.2L42.7 6.0L42.3 5.9M32.2 63.1L31.9 63.3L31.2 63.6L30.6 64.3L30.2 65.1L30.1 65.3L29.9 66.3L29.8 67.3L29.8 68.3L29.9 69.3L30.0 70.3L30.2 71.2L30.2 71.3L30.5 72.3L30.9 73.3L31.2 73.8L31.6 74.3L32.2 74.9L32.9 75.3L33.2 75.5L34.2 75.8L35.2 75.9L36.2 75.9L37.2 75.7L38.2 75.3L38.2 75.3L39.2 74.5L39.5 74.3L40.1 73.3L40.2 73.0L40.4 72.3L40.5 71.3L40.4 70.3L40.2 69.9L40.1 69.3L39.6 68.3L39.2 67.5L39.1 67.3L38.4 66.3L38.2 66.0L37.5 65.3L37.2 64.9L36.4 64.3L36.2 64.1L35.2 63.5L34.5 63.3L34.2 63.2L33.2 63.0Z"/>
<path fill="none" stroke="#168216" stroke-width="1.3" stroke-dasharray="2.5,1.5" d="M30.3 0.0L30.2 0.9L30.2 1.0L29.9 2.0L29.7 3.0L29.4 4.0L29.2 4.5L29.0 5.0L28.5 6.0L28.2 6.7L28.0 7.0L27.4 8.0L27.2 8.4L26.7 9.0L26.2 9.9L26.1 10.0L25.5 11.0L25.2 11.8L25.0 12.0L24.7 13.1L24.4 14.1L24.1 15.0L24.1 15.1L23.9 16.1L23.7 17.1L23.5 18.1L23.3 19.1L23.1 19.9L23.1 20.1L22.8 21.1L22.5 22.1L22.2 23.1L22.1 23.2L21.7 24.1L21.2 25.1L21.1 25.2L20.4 26.1L20.1 26.4L19.1 27.0L18.7 27.1L18.1 27.3L17.1 27.3L16.1 27.2L15.5 27.1L15.1 27.1L14.5 27.1L14.1 27.1L13.1 27.5L12.5 28.1L12.1 28.5L11.7 29.1L11.3 30.1L11.2 31.1L11.3 32.1L11.7 33.1L12.1 33.6L12.6 34.1L13.1 34.5L14.0 35.1L14.1 35.2L15.1 35.7L15.8 36.1L16.1 36.3L17.1 36.9L17.4 37.1L18.1 37.7L18.6 38.2L19.1 38.7L19.6 39.2L20.1 39.8L20.5 40.2L21.1 40.8L21.5 41.2L22.1 41.7L23.0 42.2L23.1 42.2L24.1 42.6L25.2 42.7L26.2 42.7L27.2 42.7L28.2 42.6L29.2 42.5L30.2 42.4L31.2 42.3L32.2 42.2L33.2 42.2L33.8 42.2L34.2 42.2L35.2 42.1L36.2 42.1L37.2 42.1L38.2 42.1L39.2 42.1L40.2 42.1L41.2 42.1L42.3 42.0L43.3 42.0L44.3 41.9L45.3 41.7L46.3 41.4L46.8 41.2L47.3 40.9L48.2 40.2L48.3 40.1L49.0 39.2L49.3 38.7L49.6 38.2L50.0 37.1L50.3 36.4L50.4 36.1L50.8 35.1L51.1 34.1L51.3 33.6L51.5 33.1L51.8 32.1L52.1 31.1L52.3 30.3L52.4 30.1L52.6 29.1L52.7 28.1L52.8 27.1L52.8 26.1L52.7 25.1L52.6 24.1L52.5 23.1L52.3 22.1L52.3 22.0L52.2 21.1L52.0 20.1L51.9 19.1L51.8 18.1L51.8 17.1L51.8 16.1L52.0 15.1L52.2 14.1L52.3 13.3L52.4 13.1L52.6 12.0L52.9 11.0L53.2 10.0L53.3 9.4L53.4 9.0L53.7 8.0L53.9 7.0L54.0 6.0L54.2 5.0L54.3 4.1L54.3 4.0L54.5 3.0L54.6 2.0L54.6 1.0L54.7 0.0M0.0 94.0L1.0 93.5L1.2 93.4L2.0 92.8L2.4 92.4L3.0 91.7L3.2 91.4L3.9 90.4L4.0 90.2L4.5 89.4L5.0 88.6L5.2 88.4L5.8 87.3L6.0 86.9L6.4 86.3L7.0 85.4L7.1 85.3L7.8 84.3L8.0 84.0L8.6 83.3L9.1 82.8L9.5 82.3L10.1 81.7L10.4 81.3L11.1 80.4L11.1 80.3L11.6 79.3L11.9 78.3L12.0 77.3L12.1 77.1L12.2 76.3L12.2 75.3L12.3 74.3L12.4 73.3L12.6 72.3L12.8 71.3L13.0 70.3L13.1 70.2L13.4 69.3L13.9 68.3L14.1 67.9L14.5 67.3L15.1 66.5L15.3 66.3L16.1 65.5L16.4 65.3L17.1 64.7L17.8 64.3L18.1 64.0L19.1 63.5L20.0 63.3L20.1 63.2L21.1 63.2L21.2 63.3L22.1 63.6L23.0 64.3L23.1 64.4L23.9 65.3L24.1 65.5L24.6 66.3L25.2 67.2L25.2 67.3L25.6 68.3L26.0 69.3L26.2 70.0L26.2 70.3L26.4 71.3L26.6 72.3L26.6 73.3L26.7 74.3L26.7 75.3L26.6 76.3L26.5 77.3L26.4 78.3L26.2 79.1L26.1 79.3L25.5 80.3L25.2 80.8L24.5 81.3L24.1 81.6L23.1 82.0L22.1 82.3L22.1 82.3L21.1 82.7L20.1 83.2L20.0 83.3L19.4 84.3L19.6 85.3L20.1 85.9L20.6 86.3L21.1 86.7L22.1 87.0L23.1 87.2L24.1 87.2L25.2 87.2L26.2 87.1L27.2 87.0L28.2 87.1L28.7 87.3L29.2 87.8L29.4 88.4L29.6 89.4L29.7 90.4L29.7 91.4L29.8 92.4L29.8 93.4L29.8 94.4L29.8 95.4L29.9 96.4L30.0 97.4L30.1 98.4L30.2 98.8L30.3 99.4L30.6 100.4L31.1 101.4L31.2 101.6L32.2 102.4L32.3 102.4L33.2 102.5L33.5 102.4L34.2 102.2L35.2 101.6L35.5 101.4L36.2 100.7L36.5 100.4L37.2 99.5L37.3 99.4L37.9 98.4L38.2 97.8L38.4 97.4L38.9 96.4L39.2 95.8L39.4 95.4L39.8 94.4L40.2 93.4L40.2 93.3L40.6 92.4L40.9 91.4L41.2 90.6L41.3 90.4L41.7 89.4L42.1 88.4L42.3 88.0L42.5 87.3L43.1 86.3L43.3 86.1L43.8 85.3L44.3 84.8L44.7 84.3L45.3 83.7L45.7 83.3L46.3 82.9L46.9 82.3L47.3 82.0L48.2 81.3L48.3 81.2L49.3 80.3L49.3 80.3L50.1 79.3L50.3 78.9L50.6 78.3L51.0 77.3L51.1 76.3L51.1 75.3L51.0 74.3L50.7 73.3L50.4 72.3L50.3 72.1L50.0 71.3L49.5 70.3L49.3 69.9L49.0 69.3L48.5 68.3L48.3 67.8L48.0 67.3L47.5 66.3L47.3 65.8L47.0 65.3L46.5 64.3L46.3 63.6L46.1 63.3L45.7 62.2L45.4 61.2L45.3 60.8L45.1 60.2L44.8 59.2L44.6 58.2L44.3 57.2L44.3 57.1L44.0 56.2L43.5 55.2L43.3 54.9L42.7 54.2L42.3 53.8L41.2 53.2L41.2 53.2L40.2 52.9L39.2 52.7L38.2 52.6L37.2 52.5L36.2 52.5L35.2 52.6L34.2 52.7L33.2 52.8L32.2 53.0L31.6 53.2L31.2 53.3L30.2 53.7L29.2 54.2L29.2 54.2L28.2 54.8L27.5 55.2L27.2 55.4L26.2 56.1L25.9 56.2L25.2 56.7L24.2 57.2L24.1 57.3L23.1 57.8L22.1 58.1L21.1 58.1L20.1 57.8L19.2 57.2L19.1 57.2L18.1 56.5L17.8 56.2L17.1 55.8L16.2 55.2L16.1 55.2L15.1 54.7L14.1 54.4L13.1 54.3L12.1 54.3L11.1 54.5L10.1 55.0L9.8 55.2L9.1 56.1L9.0 56.2L8.5 57.2L8.3 58.2L8.0 59.2L8.0 59.2L7.9 60.2L7.7 61.2L7.5 62.2L7.2 63.3L7.0 63.5L6.7 64.3L6.0 65.3L6.0 65.3L5.1 66.3L5.0 66.4L4.0 67.2L3.9 67.3L3.0 67.8L2.0 68.3L2.0 68.3L1.0 68.7L0.0 68.9M26.2 125.5L26.2 125.4L26.0 124.5L25.7 123.5L25.3 122.5L25.2 122.2L24.7 121.5L24.1 121.0L23.3 120.5L23.1 120.4L22.1 120.1L21.1 120.0L20.1 119.9L19.1 119.9L18.1 120.0L17.1 120.2L16.2 120.5L16.1 120.5L15.1 121.0L14.4 121.5L14.1 121.8L13.4 122.5L13.1 123.0L12.8 123.5L12.3 124.5L12.1 125.1L12.0 125.5"/>
<path fill="none" stroke="#168216" stroke-width="1.3" d="M113.6 0.0L113.7 0.0L113.7 0.0M48.7 125.5L48.6 124.5L48.5 123.5L48.3 122.5L48.3 122.3L48.2 121.5L48.0 120.5L48.0 119.5L48.1 118.5L48.3 117.7L48.4 117.5L49.0 116.5L49.3 116.2L50.0 115.5L50.3 115.2L51.0 114.5L51.3 114.2L51.9 113.5L52.3 113.0L52.7 112.4L53.3 111.5L53.3 111.4L53.8 110.4L54.2 109.4L54.3 108.7L54.4 108.4L54.5 107.4L54.4 106.4L54.3 105.9L54.3 105.4L54.0 104.4L53.6 103.4L53.3 102.7L53.2 102.4L52.8 101.4L52.3 100.5L52.3 100.4L51.9 99.4L51.5 98.4L51.3 97.8L51.2 97.4L51.0 96.4L50.9 95.4L50.9 94.4L51.0 93.4L51.3 92.4L51.3 92.2L51.7 91.4L52.2 90.4L52.3 90.2L53.1 89.4L53.3 89.1L54.2 88.4L54.3 88.2L55.3 87.5L55.5 87.3L56.3 86.7L56.9 86.3L57.3 86.0L58.1 85.3L58.4 85.1L59.2 84.3L59.4 84.2L60.1 83.3L60.4 83.0L60.9 82.3L61.4 81.6L61.5 81.3L62.1 80.3L62.4 79.6L62.5 79.3L62.9 78.3L63.1 77.3L63.3 76.3L63.4 75.9L63.5 75.3L63.6 74.3L63.6 73.3L63.6 72.3L63.6 71.3L63.5 70.3L63.4 69.3L63.4 68.7L63.3 68.3L63.2 67.3L63.1 66.3L63.0 65.3L62.9 64.3L62.8 63.3L62.8 62.2L62.8 61.2L62.9 60.2L63.0 59.2L63.1 58.2L63.2 57.2L63.3 56.2L63.4 55.8L63.4 55.2L63.5 54.2L63.6 53.2L63.6 52.2L63.6 51.2L63.6 50.2L63.6 49.2L63.6 48.2L63.5 47.2L63.5 46.2L63.4 45.2L63.4 44.2L63.4 44.1L63.3 43.2L63.3 42.2L63.2 41.2L63.1 40.2L63.0 39.2L62.9 38.2L62.8 37.1L62.7 36.1L62.6 35.1L62.5 34.1L62.4 33.1L62.4 33.0L62.3 32.1L62.2 31.1L62.1 30.1L62.0 29.1L61.9 28.1L61.9 27.1L61.9 26.1L61.9 25.1L61.9 24.1L61.9 23.1L62.0 22.1L62.2 21.1L62.4 20.1L62.4 20.0L62.6 19.1L63.0 18.1L63.4 17.2L63.5 17.1L64.0 16.1L64.4 15.4L64.6 15.1L65.2 14.1L65.4 13.8L66.0 13.1L66.4 12.5L66.7 12.0L67.4 11.2L67.6 11.0L68.4 10.2L68.5 10.0L69.4 9.3L69.7 9.0L70.4 8.6L71.3 8.0L71.4 8.0L72.4 7.5L73.4 7.1L73.7 7.0L74.5 6.8L75.5 6.4L76.5 6.1L76.8 6.0L77.5 5.8L78.5 5.4L79.4 5.0L79.5 5.0L80.5 4.5L81.4 4.0L81.5 3.9L82.5 3.3L83.0 3.0L83.5 2.7L84.5 2.1L84.8 2.0L85.5 1.7L86.5 1.4L87.5 1.1L88.3 1.0L88.5 1.0L89.5 0.8L90.5 0.6L91.6 0.4L92.6 0.1L92.8 0.0M130.5 125.5L130.2 124.5L129.8 123.7L129.7 123.5L129.0 122.5L128.8 122.3L128.0 121.5L127.8 121.3L126.8 120.5L126.7 120.5L125.8 120.0L124.8 119.5L124.8 119.4L123.8 119.0L122.7 118.6L122.3 118.5L121.7 118.3L120.7 117.9L119.7 117.6L119.2 117.5L118.7 117.3L117.7 117.1L116.7 116.9L115.7 116.7L114.7 116.6L113.7 116.5L112.7 116.6L111.7 116.8L110.7 117.0L109.7 117.3L109.3 117.5L108.7 117.7L107.7 118.1L106.6 118.3L105.6 118.4L104.6 118.4L103.6 118.3L102.6 118.0L101.6 117.7L100.9 117.5L100.6 117.4L99.6 117.1L98.6 116.8L97.6 116.5L97.3 116.5L96.6 116.3L95.6 116.2L94.6 116.2L93.6 116.3L93.1 116.5L92.6 116.6L91.6 117.0L90.8 117.5L90.5 117.6L89.5 118.3L89.3 118.5L88.5 119.2L88.2 119.5L87.5 120.2L87.2 120.5L86.5 121.4L86.4 121.5L85.8 122.5L85.5 122.9L85.2 123.5L84.8 124.5L84.5 125.3L84.4 125.5"/>
<path fill="none" stroke="#168216" stroke-width="1.3" d="M165.0 113.7L164.6 114.5L164.0 115.5L164.0 115.5L163.5 116.5L163.0 117.3L162.9 117.5L162.4 118.5L162.0 119.1L161.8 119.5L161.2 120.5L161.0 120.9L160.7 121.5L160.1 122.5L160.0 122.9L159.7 123.5L159.2 124.5L159.0 125.3L158.9 125.5M147.9 125.5L147.9 125.3L147.7 124.5L147.5 123.5L147.2 122.5L146.9 121.6L146.9 121.5L146.5 120.5L146.1 119.5L145.9 119.1L145.6 118.5L145.0 117.5L144.9 117.3L144.3 116.5L143.9 116.0L143.4 115.5L142.9 115.0L142.1 114.5L141.9 114.3L140.9 113.8L139.8 113.5L139.8 113.5L138.8 113.2L137.8 113.0L136.8 112.9L135.8 112.8L134.8 112.7L133.8 112.6L132.8 112.5L132.6 112.4L131.8 112.3L130.8 112.2L129.8 112.0L128.8 111.8L127.8 111.6L127.2 111.4L126.8 111.4L125.8 111.1L124.8 110.9L123.8 110.7L122.7 110.5L122.7 110.4L121.7 110.2L120.7 110.0L119.7 109.8L118.7 109.6L118.0 109.4L117.7 109.4L116.7 109.2L115.7 109.0L114.7 108.8L113.7 108.7L112.7 108.5L112.2 108.4L111.7 108.3L110.7 108.2L109.7 108.0L108.7 107.8L107.7 107.6L107.2 107.4L106.6 107.3L105.6 106.9L104.6 106.5L104.4 106.4L103.6 106.0L102.7 105.4L102.6 105.4L101.6 104.6L101.4 104.4L100.6 103.8L100.2 103.4L99.6 102.8L99.2 102.4L98.6 101.9L98.1 101.4L97.6 101.0L96.9 100.4L96.6 100.1L95.6 99.5L95.4 99.4L94.6 99.0L93.6 98.7L92.6 98.6L91.6 98.8L90.5 99.1L90.1 99.4L89.5 99.8L88.8 100.4L88.5 100.6L87.8 101.4L87.5 101.7L86.9 102.4L86.5 102.8L86.0 103.4L85.5 104.0L85.2 104.4L84.5 105.2L84.3 105.4L83.5 106.4L83.5 106.4L82.6 107.4L82.5 107.6L81.7 108.4L81.5 108.7L80.8 109.4L80.5 109.8L79.7 110.4L79.5 110.7L78.5 111.2L77.5 111.4L76.5 111.3L75.5 110.9L74.6 110.4L74.5 110.3L73.4 109.5L73.4 109.4L72.6 108.4L72.4 108.1L72.1 107.4L71.8 106.4L71.7 105.4L71.6 104.4L71.7 103.4L71.7 102.4L71.8 101.4L71.9 100.4L72.1 99.4L72.2 98.4L72.4 97.4L72.4 97.1L72.6 96.4L72.8 95.4L73.1 94.4L73.4 93.4L73.4 93.3L73.9 92.4L74.4 91.4L74.5 91.2L74.9 90.4L75.5 89.6L75.6 89.4L76.3 88.4L76.5 88.1L77.0 87.3L77.5 86.5L77.5 86.3L78.0 85.3L78.2 84.3L78.2 83.3L78.0 82.3L77.5 81.3L77.5 81.3L76.7 80.3L76.5 80.1L75.6 79.3L75.5 79.2L74.5 78.3L74.5 78.3L73.4 77.3L73.4 77.3L72.5 76.3L72.4 76.2L71.8 75.3L71.4 74.8L71.2 74.3L70.7 73.3L70.4 72.5L70.4 72.3L70.1 71.3L69.9 70.3L69.8 69.3L69.7 68.3L69.6 67.3L69.6 66.3L69.5 65.3L69.5 64.3L69.5 63.3L69.4 62.2L69.4 61.6L69.4 61.2L69.4 60.2L69.3 59.2L69.3 58.2L69.2 57.2L69.2 56.2L69.2 55.2L69.2 54.2L69.1 53.2L69.1 52.2L69.1 51.2L69.1 50.2L69.1 49.2L69.1 48.2L69.1 47.2L69.1 46.2L69.0 45.2L69.0 44.2L69.0 43.2L68.9 42.2L68.9 41.2L68.8 40.2L68.8 39.2L68.8 38.2L68.7 37.1L68.7 36.1L68.7 35.1L68.7 34.1L68.8 33.1L68.8 32.1L68.9 31.1L69.0 30.1L69.2 29.1L69.4 28.1L69.4 28.1L69.7 27.1L70.1 26.1L70.4 25.2L70.5 25.1L71.0 24.1L71.4 23.3L71.6 23.1L72.2 22.1L72.4 21.7L72.9 21.1L73.4 20.3L73.6 20.1L74.4 19.1L74.5 19.0L75.3 18.1L75.5 17.9L76.4 17.1L76.5 17.0L77.5 16.2L77.7 16.1L78.5 15.6L79.5 15.1L79.6 15.1L80.5 14.7L81.5 14.3L82.0 14.1L82.5 13.9L83.5 13.5L84.5 13.1L84.5 13.1L85.5 12.6L86.5 12.2L86.8 12.0L87.5 11.7L88.5 11.3L89.1 11.0L89.5 10.9L90.5 10.5L91.6 10.3L92.6 10.2L93.6 10.2L94.6 10.4L95.6 10.6L96.6 10.9L96.9 11.0L97.6 11.3L98.6 11.6L99.6 11.9L100.3 12.0L100.6 12.1L101.6 12.2L102.6 12.3L103.6 12.2L104.6 12.1L104.7 12.0L105.6 11.8L106.6 11.4L107.6 11.0L107.7 11.0L108.7 10.5L109.5 10.0L109.7 10.0L110.7 9.4L111.4 9.0L111.7 8.9L112.7 8.4L113.6 8.0L113.7 8.0L114.7 7.6L115.7 7.3L116.7 7.0L116.7 7.0L117.7 6.8L118.7 6.5L119.7 6.2L120.5 6.0L120.7 6.0L121.7 5.7L122.7 5.4L123.8 5.1L124.0 5.0L124.8 4.8L125.8 4.5L126.8 4.1L127.1 4.0L127.8 3.8L128.8 3.4L129.8 3.1L130.0 3.0L130.8 2.7L131.8 2.3L132.6 2.0L132.8 1.9L133.8 1.5L134.8 1.0L134.8 1.0L135.8 0.3L136.3 0.0"/>
<path fill="none" stroke="#168216" stroke-width="1.3" d="M165.0 68.9L164.8 69.3L164.5 70.3L164.2 71.3L164.0 72.0L163.9 72.3L163.8 73.3L163.7 74.3L163.7 75.3L163.7 76.3L163.7 77.3L163.8 78.3L163.8 79.3L163.9 80.3L163.9 81.3L163.9 82.3L163.9 83.3L163.9 84.3L163.9 85.3L163.9 86.3L163.9 87.3L163.8 88.4L163.8 89.4L163.8 90.4L163.7 91.4L163.7 92.4L163.7 93.4L163.6 94.4L163.5 95.4L163.4 96.4L163.3 97.4L163.1 98.4L163.0 99.1L162.9 99.4L162.7 100.4L162.5 101.4L162.2 102.4L162.0 103.0L161.9 103.4L161.5 104.4L161.2 105.4L161.0 105.9L160.8 106.4L160.4 107.4L160.0 108.3L159.9 108.4L159.5 109.4L159.0 110.4L159.0 110.5L158.4 111.4L158.0 112.2L157.8 112.4L157.0 113.5L157.0 113.5L155.9 114.4L155.8 114.5L154.9 114.9L153.9 115.0L152.9 114.7L152.6 114.5L151.9 114.1L151.2 113.5L150.9 113.2L150.1 112.4L149.9 112.3L149.2 111.4L148.9 111.2L148.3 110.4L147.9 110.0L147.4 109.4L146.9 108.9L146.5 108.4L145.9 107.7L145.6 107.4L144.9 106.6L144.7 106.4L143.9 105.6L143.7 105.4L142.9 104.7L142.5 104.4L141.9 103.9L141.1 103.4L140.9 103.3L139.8 102.7L139.1 102.4L138.8 102.3L137.8 101.9L136.8 101.7L135.8 101.5L135.4 101.4L134.8 101.3L133.8 101.2L132.8 101.1L131.8 101.1L130.8 101.0L129.8 101.0L128.8 100.9L127.8 100.8L126.8 100.6L125.8 100.4L125.8 100.4L124.8 99.8L124.2 99.4L123.8 98.5L123.7 98.4L123.7 98.3L123.9 97.4L124.2 96.4L124.4 95.4L124.0 94.4L123.8 94.1L123.1 93.4L122.7 93.1L121.7 92.5L121.4 92.4L120.7 92.1L119.7 91.8L118.7 91.4L118.6 91.4L117.7 91.1L116.7 90.8L115.7 90.5L115.4 90.4L114.7 90.1L113.7 89.8L112.7 89.4L112.7 89.3L111.7 88.9L110.7 88.4L110.7 88.3L109.7 87.6L109.3 87.3L108.7 86.8L108.2 86.3L107.7 85.5L107.5 85.3L106.9 84.3L106.6 83.6L106.5 83.3L106.0 82.3L105.6 81.6L105.3 81.3L104.6 81.0L103.6 80.8L102.6 80.5L102.3 80.3L101.6 80.0L100.6 79.4L100.5 79.3L99.6 78.7L99.1 78.3L98.6 77.9L98.0 77.3L97.6 76.9L97.0 76.3L96.6 75.9L96.1 75.3L95.6 74.7L95.2 74.3L94.6 73.5L94.4 73.3L93.6 72.4L93.5 72.3L92.6 71.5L92.0 71.3L91.6 71.1L90.5 70.8L89.5 70.8L88.5 70.8L87.5 70.8L86.5 70.8L85.5 70.8L84.5 70.8L83.5 70.6L82.5 70.4L82.0 70.3L81.5 70.1L80.5 69.5L80.2 69.3L79.5 68.6L79.3 68.3L78.7 67.3L78.5 66.7L78.4 66.3L78.1 65.3L77.9 64.3L77.7 63.3L77.5 62.4L77.4 62.2L77.2 61.2L76.9 60.2L76.6 59.2L76.5 58.9L76.3 58.2L76.0 57.2L75.8 56.2L75.6 55.2L75.5 54.6L75.4 54.2L75.3 53.2L75.3 52.2L75.2 51.2L75.3 50.2L75.3 49.2L75.4 48.2L75.4 47.2L75.5 46.9L75.5 46.2L75.6 45.2L75.6 44.2L75.7 43.2L75.7 42.2L75.7 41.2L75.8 40.2L75.8 39.2L75.9 38.2L76.0 37.1L76.1 36.1L76.3 35.1L76.5 34.5L76.6 34.1L76.9 33.1L77.3 32.1L77.5 31.8L77.8 31.1L78.3 30.1L78.5 29.8L78.9 29.1L79.5 28.3L79.6 28.1L80.4 27.1L80.5 27.0L81.4 26.1L81.5 26.0L82.5 25.3L82.8 25.1L83.5 24.8L84.5 24.5L85.5 24.5L86.5 24.5L87.5 24.5L88.5 24.4L89.5 24.3L90.1 24.1L90.5 23.9L91.6 23.4L92.0 23.1L92.6 22.7L93.3 22.1L93.6 21.9L94.5 21.1L94.6 21.1L95.6 20.4L96.0 20.1L96.6 19.8L97.6 19.3L98.3 19.1L98.6 19.0L99.6 18.7L100.6 18.4L101.6 18.2L102.3 18.1L102.6 18.0L103.6 17.8L104.6 17.7L105.6 17.5L106.6 17.3L107.7 17.1L107.9 17.1L108.7 16.9L109.7 16.6L110.7 16.2L111.1 16.1L111.7 15.8L112.7 15.3L113.1 15.1L113.7 14.7L114.7 14.1L114.8 14.1L115.7 13.5L116.6 13.1L116.7 13.0L117.7 12.5L118.7 12.1L118.8 12.0L119.7 11.7L120.7 11.4L121.7 11.1L122.0 11.0L122.7 10.9L123.8 10.6L124.8 10.4L125.8 10.2L126.4 10.0L126.8 10.0L127.8 9.7L128.8 9.5L129.8 9.2L130.2 9.0L130.8 8.9L131.8 8.6L132.8 8.3L133.6 8.0L133.8 8.0L134.8 7.7L135.8 7.4L136.8 7.1L137.2 7.0L137.8 6.8L138.8 6.5L139.8 6.2L140.2 6.0L140.9 5.7L141.9 5.1L142.0 5.0L142.9 4.4L143.2 4.0L143.9 3.2L144.0 3.0L144.6 2.0L144.9 1.3L145.0 1.0L145.2 0.0"/>
<path fill="none" stroke="#168216" stroke-width="1.3" d="M165.0 51.8L164.3 52.2L164.0 52.4L163.2 53.2L163.0 53.6L162.6 54.2L162.2 55.2L162.0 56.0L161.9 56.2L161.8 57.2L161.7 58.2L161.6 59.2L161.6 60.2L161.5 61.2L161.4 62.2L161.3 63.3L161.2 64.3L161.0 65.1L161.0 65.3L160.7 66.3L160.5 67.3L160.2 68.3L160.0 69.3L160.0 69.5L159.8 70.3L159.6 71.3L159.4 72.3L159.3 73.3L159.2 74.3L159.1 75.3L159.0 76.3L159.0 76.5L158.9 77.3L158.8 78.3L158.7 79.3L158.7 80.3L158.6 81.3L158.5 82.3L158.4 83.3L158.3 84.3L158.2 85.3L158.1 86.3L158.0 87.3L158.0 88.4L158.0 89.4L158.0 90.4L158.1 91.4L158.1 92.4L158.2 93.4L158.2 94.4L158.3 95.4L158.2 96.4L158.2 97.4L158.1 98.4L158.0 99.1L157.9 99.4L157.6 100.4L157.2 101.4L157.0 102.1L156.8 102.4L156.1 103.4L155.9 103.7L155.1 104.4L154.9 104.6L153.9 105.0L152.9 104.9L151.9 104.4L151.9 104.4L150.9 103.7L150.6 103.4L149.9 102.7L149.7 102.4L148.9 101.4L148.9 101.4L148.1 100.4L147.9 100.1L147.4 99.4L146.9 98.7L146.6 98.4L145.9 97.6L145.7 97.4L144.9 96.5L144.7 96.4L143.9 95.7L143.5 95.4L142.9 95.0L142.0 94.4L141.9 94.3L140.9 93.6L140.4 93.4L139.8 93.0L138.8 92.4L138.8 92.4L137.8 91.7L137.3 91.4L136.8 91.1L135.8 90.5L135.5 90.4L134.8 90.0L133.8 89.5L133.3 89.4L132.8 89.2L131.8 88.9L130.8 88.6L129.8 88.4L129.4 88.4L128.8 88.3L127.8 88.1L126.8 87.9L125.8 87.8L124.8 87.6L123.8 87.4L123.6 87.3L122.7 87.1L121.7 86.9L120.7 86.5L120.4 86.3L119.7 86.0L118.7 85.5L118.5 85.3L117.7 84.7L117.3 84.3L116.7 83.7L116.5 83.3L115.9 82.3L115.7 81.9L115.5 81.3L115.3 80.3L115.2 79.3L115.1 78.3L115.1 77.3L115.1 76.3L115.0 75.3L114.8 74.3L114.7 73.9L114.5 73.3L113.9 72.3L113.7 72.0L113.0 71.3L112.7 71.1L111.7 70.4L111.5 70.3L110.7 69.9L109.7 69.3L109.5 69.3L108.7 68.8L107.8 68.3L107.7 68.2L106.6 67.4L106.5 67.3L105.6 66.4L105.5 66.3L104.8 65.3L104.6 65.1L104.1 64.3L103.6 63.5L103.4 63.3L102.8 62.2L102.6 62.1L102.0 61.2L101.6 60.9L101.0 60.2L100.6 59.8L100.1 59.2L99.6 58.7L99.1 58.2L98.6 57.6L98.3 57.2L97.6 56.2L97.6 56.1L97.1 55.2L96.7 54.2L96.6 53.6L96.5 53.2L96.3 52.2L96.3 51.2L96.3 50.2L96.4 49.2L96.4 48.2L96.5 47.2L96.6 46.8L96.6 46.2L96.7 45.2L96.7 44.2L96.6 43.2L96.6 43.1L96.4 42.2L96.1 41.2L95.8 40.2L95.6 39.6L95.4 39.2L95.1 38.2L94.9 37.1L94.8 36.1L95.0 35.1L95.3 34.1L95.6 33.6L95.8 33.1L96.3 32.1L96.6 31.5L96.8 31.1L97.3 30.1L97.6 29.6L97.8 29.1L98.4 28.1L98.6 27.7L99.0 27.1L99.6 26.2L99.7 26.1L100.6 25.1L100.6 25.1L101.6 24.3L101.9 24.1L102.6 23.7L103.6 23.2L104.1 23.1L104.6 22.9L105.6 22.7L106.6 22.6L107.7 22.5L108.7 22.4L109.7 22.3L110.7 22.2L111.7 22.1L111.9 22.1L112.7 22.0L113.7 21.8L114.7 21.5L115.7 21.1L115.8 21.1L116.7 20.7L117.7 20.2L117.9 20.1L118.7 19.7L119.7 19.1L119.9 19.1L120.7 18.7L121.7 18.3L122.6 18.1L122.7 18.0L123.8 17.9L124.8 18.0L125.4 18.1L125.8 18.1L126.8 18.4L127.8 18.7L128.8 19.0L129.1 19.1L129.8 19.2L130.8 19.4L131.8 19.5L132.8 19.4L133.8 19.2L134.2 19.1L134.8 18.8L135.8 18.2L136.0 18.1L136.8 17.3L137.1 17.1L137.8 16.2L137.9 16.1L138.8 15.1L138.8 15.1L139.8 14.1L139.8 14.0L140.9 13.2L141.1 13.1L141.9 12.5L142.6 12.0L142.9 11.9L143.9 11.3L144.3 11.0L144.9 10.7L145.9 10.1L145.9 10.0L146.9 9.3L147.2 9.0L147.9 8.3L148.1 8.0L148.8 7.0L148.9 6.9L149.3 6.0L149.8 5.0L149.9 4.6L150.1 4.0L150.4 3.0L150.6 2.0L150.7 1.0L150.9 0.0"/>
<path fill="none" stroke="#168216" stroke-width="1.3" d="M165.0 48.6L164.0 49.0L163.5 49.2L163.0 49.5L162.1 50.2L162.0 50.3L161.1 51.2L161.0 51.4L160.4 52.2L160.0 53.1L159.9 53.2L159.5 54.2L159.3 55.2L159.1 56.2L159.0 56.7L158.9 57.2L158.7 58.2L158.6 59.2L158.5 60.2L158.3 61.2L158.2 62.2L158.0 63.3L158.0 63.3L157.7 64.3L157.5 65.3L157.3 66.3L157.0 67.3L157.0 67.5L156.8 68.3L156.5 69.3L156.2 70.3L156.0 71.3L155.9 71.5L155.8 72.3L155.5 73.3L155.3 74.3L155.0 75.3L154.9 75.6L154.7 76.3L154.4 77.3L154.1 78.3L153.9 79.0L153.8 79.3L153.4 80.3L153.0 81.3L152.9 81.6L152.6 82.3L152.1 83.3L151.9 84.0L151.7 84.3L151.3 85.3L150.9 86.3L150.9 86.3L150.3 87.3L149.9 87.8L148.9 88.4L148.9 88.4L148.9 88.4L147.9 88.3L146.9 87.9L146.0 87.3L145.9 87.3L144.9 86.7L144.4 86.3L143.9 86.0L142.9 85.5L142.4 85.3L141.9 85.1L140.9 84.9L139.8 84.7L138.8 84.7L137.8 84.6L136.8 84.7L135.8 84.7L134.8 84.8L133.8 84.9L132.8 85.0L131.8 85.1L130.8 85.1L129.8 85.2L128.8 85.2L127.8 85.2L126.8 85.2L125.8 85.1L124.8 84.9L123.8 84.7L122.7 84.4L122.6 84.3L121.7 84.0L120.7 83.4L120.7 83.3L119.7 82.5L119.5 82.3L118.8 81.3L118.7 81.2L118.3 80.3L118.0 79.3L117.9 78.3L117.8 77.3L117.7 76.5L117.7 76.3L117.6 75.3L117.5 74.3L117.3 73.3L116.9 72.3L116.7 71.8L116.4 71.3L115.7 70.4L115.6 70.3L114.7 69.5L114.4 69.3L113.7 68.8L112.9 68.3L112.7 68.2L111.7 67.6L111.2 67.3L110.7 66.9L109.7 66.3L109.7 66.2L108.7 65.3L108.6 65.3L107.7 64.3L107.7 64.2L107.0 63.3L106.6 62.6L106.4 62.2L105.8 61.2L105.6 60.9L105.2 60.2L104.6 59.3L104.6 59.2L103.9 58.2L103.6 57.9L103.1 57.2L102.6 56.6L102.3 56.2L101.7 55.2L101.6 55.1L101.2 54.2L100.8 53.2L100.7 52.2L100.7 51.2L100.9 50.2L101.1 49.2L101.5 48.2L101.6 47.9L102.0 47.2L102.6 46.2L102.6 46.1L103.3 45.2L103.6 44.8L104.1 44.2L104.6 43.6L105.0 43.2L105.6 42.5L106.0 42.2L106.6 41.6L107.2 41.2L107.7 40.7L108.4 40.2L108.7 40.0L109.7 39.3L109.9 39.2L110.7 38.6L111.3 38.2L111.7 37.9L112.7 37.2L112.8 37.1L113.7 36.5L114.1 36.1L114.7 35.6L115.3 35.1L115.7 34.7L116.3 34.1L116.7 33.8L117.4 33.1L117.7 32.9L118.6 32.1L118.7 32.1L119.7 31.3L119.9 31.1L120.7 30.5L121.3 30.1L121.7 29.8L122.7 29.1L122.7 29.1L123.8 28.4L124.2 28.1L124.8 27.8L125.8 27.2L126.0 27.1L126.8 26.8L127.8 26.5L128.8 26.2L129.1 26.1L129.8 25.9L130.8 25.7L131.8 25.5L132.8 25.3L133.8 25.1L133.8 25.1L134.8 24.8L135.8 24.5L136.8 24.1L136.9 24.1L137.8 23.7L138.8 23.1L138.8 23.1L139.8 22.3L140.1 22.1L140.9 21.4L141.1 21.1L141.9 20.3L142.0 20.1L142.9 19.1L142.9 19.1L143.9 18.1L143.9 18.1L144.9 17.3L145.2 17.1L145.9 16.7L146.9 16.2L147.2 16.1L147.9 15.8L148.9 15.5L149.9 15.1L150.2 15.1L150.9 14.8L151.9 14.5L152.9 14.2L153.2 14.1L153.9 13.7L154.9 13.2L155.1 13.1L155.9 12.5L156.6 12.0L157.0 11.8L158.0 11.2L158.2 11.0L159.0 10.7L160.0 10.6L161.0 10.7L162.0 10.9L162.8 11.0L163.0 11.1L164.0 11.3L165.0 11.4"/>
<path fill="none" stroke="#168216" stroke-width="1.3" d="M165.0 45.7L164.0 45.9L163.4 46.2L163.0 46.3L162.0 46.8L161.4 47.2L161.0 47.5L160.1 48.2L160.0 48.3L159.2 49.2L159.0 49.6L158.6 50.2L158.1 51.2L158.0 51.5L157.7 52.2L157.3 53.2L157.1 54.2L157.0 54.8L156.8 55.2L156.6 56.2L156.4 57.2L156.2 58.2L156.0 59.2L155.9 59.4L155.7 60.2L155.4 61.2L155.1 62.2L154.9 62.9L154.8 63.3L154.4 64.3L154.0 65.3L153.9 65.6L153.6 66.3L153.1 67.3L152.9 67.7L152.6 68.3L152.0 69.3L151.9 69.4L151.3 70.3L150.9 70.7L150.2 71.3L149.9 71.6L148.9 72.1L148.5 72.3L147.9 72.5L146.9 72.7L145.9 72.9L144.9 73.1L144.3 73.3L143.9 73.4L142.9 73.8L141.9 74.2L141.7 74.3L140.9 74.8L140.1 75.3L139.8 75.5L138.8 76.3L138.8 76.3L137.8 77.2L137.8 77.3L136.8 78.3L136.8 78.3L135.8 79.2L135.7 79.3L134.8 80.1L134.6 80.3L133.8 80.8L133.1 81.3L132.8 81.5L131.8 81.9L130.8 82.3L130.8 82.3L129.8 82.6L128.8 82.8L127.8 82.9L126.8 83.0L125.8 82.9L124.8 82.8L123.8 82.5L123.4 82.3L122.7 82.0L121.8 81.3L121.7 81.3L120.9 80.3L120.7 80.0L120.4 79.3L120.1 78.3L119.9 77.3L119.8 76.3L119.7 75.8L119.7 75.3L119.6 74.3L119.4 73.3L119.2 72.3L118.8 71.3L118.7 71.1L118.2 70.3L117.7 69.6L117.4 69.3L116.7 68.6L116.3 68.3L115.7 67.9L114.8 67.3L114.7 67.2L113.7 66.6L113.2 66.3L112.7 66.0L111.7 65.3L111.7 65.2L110.7 64.4L110.6 64.3L109.7 63.3L109.7 63.2L109.1 62.2L108.7 61.4L108.6 61.2L108.2 60.2L107.8 59.2L107.7 58.6L107.5 58.2L107.2 57.2L106.9 56.2L106.6 55.2L106.6 55.2L106.5 54.2L106.5 53.2L106.6 52.7L106.9 52.2L107.7 51.6L108.3 51.2L108.7 51.1L109.7 50.8L110.7 50.5L111.7 50.3L111.9 50.2L112.7 49.9L113.7 49.4L113.9 49.2L114.7 48.5L115.0 48.2L115.7 47.4L115.9 47.2L116.7 46.2L116.8 46.2L117.6 45.2L117.7 45.1L118.6 44.2L118.7 44.1L119.7 43.2L119.7 43.2L120.7 42.3L120.9 42.2L121.7 41.5L122.2 41.2L122.7 40.8L123.6 40.2L123.8 40.1L124.8 39.3L125.0 39.2L125.8 38.6L126.5 38.2L126.8 37.9L127.8 37.3L127.9 37.1L128.8 36.5L129.4 36.1L129.8 35.8L130.7 35.1L130.8 35.1L131.8 34.3L132.0 34.1L132.8 33.5L133.3 33.1L133.8 32.8L134.8 32.2L134.9 32.1L135.8 31.6L136.8 31.2L137.0 31.1L137.8 30.8L138.8 30.5L139.8 30.1L139.9 30.1L140.9 29.8L141.9 29.6L142.9 29.3L143.4 29.1L143.9 29.0L144.9 28.6L145.9 28.3L146.3 28.1L146.9 27.9L147.9 27.5L148.9 27.2L149.2 27.1L149.9 26.9L150.9 26.6L151.9 26.5L152.9 26.3L153.9 26.3L154.9 26.2L155.9 26.3L157.0 26.3L158.0 26.4L159.0 26.5L160.0 26.7L161.0 27.0L161.5 27.1L162.0 27.3L163.0 27.6L164.0 28.1L164.1 28.1L165.0 28.6"/>
<path fill="none" stroke="#168216" stroke-width="1.3" d="M145.9 37.1L146.9 37.0L147.9 36.9L148.9 36.9L149.9 36.9L150.9 37.0L151.4 37.1L151.9 37.3L152.9 37.7L153.6 38.2L153.9 38.4L154.8 39.2L154.9 39.3L155.6 40.2L155.9 40.8L156.2 41.2L156.4 42.2L156.5 43.2L156.3 44.2L156.1 45.2L155.9 45.6L155.8 46.2L155.5 47.2L155.3 48.2L155.0 49.2L154.9 49.7L154.8 50.2L154.6 51.2L154.4 52.2L154.2 53.2L154.0 54.2L153.9 54.3L153.7 55.2L153.3 56.2L152.9 57.2L152.9 57.2L152.4 58.2L151.9 59.1L151.8 59.2L151.0 60.2L150.9 60.4L150.1 61.2L149.9 61.4L148.9 62.2L148.8 62.2L147.9 62.8L147.1 63.3L146.9 63.3L145.9 63.9L145.1 64.3L144.9 64.4L143.9 65.0L143.4 65.3L142.9 65.6L141.9 66.3L141.9 66.3L140.9 66.9L140.3 67.3L139.8 67.6L138.8 68.3L138.8 68.3L137.8 69.0L137.4 69.3L136.8 69.8L136.2 70.3L135.8 70.7L135.3 71.3L134.8 71.8L134.5 72.3L133.9 73.3L133.8 73.4L133.3 74.3L132.8 75.3L132.8 75.3L132.3 76.3L131.8 77.0L131.6 77.3L130.8 78.3L130.8 78.3L129.8 79.2L129.6 79.3L128.8 79.7L127.8 80.1L126.8 80.3L125.8 80.2L124.8 80.0L123.8 79.4L123.7 79.3L122.9 78.3L122.7 78.0L122.5 77.3L122.2 76.3L122.0 75.3L121.9 74.3L121.8 73.3L121.7 73.1L121.6 72.3L121.4 71.3L121.0 70.3L120.7 69.7L120.5 69.3L119.7 68.3L119.7 68.3L118.7 67.3L118.7 67.3L117.7 66.6L117.3 66.3L116.7 65.9L115.7 65.3L115.6 65.3L114.7 64.7L114.0 64.3L113.7 64.0L112.8 63.3L112.7 63.1L112.1 62.2L111.7 61.4L111.6 61.2L111.4 60.2L111.4 59.2L111.7 58.3L111.7 58.2L112.4 57.2L112.7 57.0L113.7 56.2L113.7 56.2L114.7 55.7L115.7 55.2L115.7 55.2L116.7 54.8L117.7 54.2L117.7 54.2L118.7 53.5L119.2 53.2L119.7 52.7L120.2 52.2L120.7 51.7L121.2 51.2L121.7 50.5L122.0 50.2L122.7 49.4L122.9 49.2L123.8 48.3L123.9 48.2L124.8 47.4L125.0 47.2L125.8 46.6L126.3 46.2L126.8 45.8L127.7 45.2L127.8 45.1L128.8 44.5L129.3 44.2L129.8 43.9L130.8 43.3L131.0 43.2L131.8 42.7L132.8 42.2L132.8 42.2L133.8 41.6L134.8 41.2L134.8 41.1L135.8 40.6L136.8 40.2L136.8 40.2L137.8 39.7L138.8 39.3L139.1 39.2L139.8 38.9L140.9 38.5L141.8 38.2L141.9 38.1L142.9 37.8L143.9 37.6L144.9 37.3L145.8 37.1Z"/>
</g></svg>
<line x1="118.4" y1="195.2" x2="118.4" y2="320.7" stroke="#000" stroke-width="1" stroke-dasharray="3,2"/>
<rect x="56.5" y="195.2" width="165" height="125.5" fill="none" stroke="#000" stroke-width="1.4"/>
<line x1="56.5" y1="320.7" x2="62.5" y2="320.7" stroke="#000" stroke-width="1"/>
<line x1="56.5" y1="311.7" x2="59.5" y2="311.7" stroke="#000" stroke-width="1"/>
<line x1="56.5" y1="302.8" x2="62.5" y2="302.8" stroke="#000" stroke-width="1"/>
<line x1="56.5" y1="293.8" x2="59.5" y2="293.8" stroke="#000" stroke-width="1"/>
<line x1="56.5" y1="284.8" x2="62.5" y2="284.8" stroke="#000" stroke-width="1"/>
<line x1="56.5" y1="275.9" x2="59.5" y2="275.9" stroke="#000" stroke-width="1"/>
<line x1="56.5" y1="266.9" x2="62.5" y2="266.9" stroke="#000" stroke-width="1"/>
<line x1="56.5" y1="257.9" x2="59.5" y2="257.9" stroke="#000" stroke-width="1"/>
<line x1="56.5" y1="249.0" x2="62.5" y2="249.0" stroke="#000" stroke-width="1"/>
<line x1="56.5" y1="240.0" x2="59.5" y2="240.0" stroke="#000" stroke-width="1"/>
<line x1="56.5" y1="231.1" x2="62.5" y2="231.1" stroke="#000" stroke-width="1"/>
<line x1="56.5" y1="222.1" x2="59.5" y2="222.1" stroke="#000" stroke-width="1"/>
<line x1="56.5" y1="213.1" x2="62.5" y2="213.1" stroke="#000" stroke-width="1"/>
<line x1="56.5" y1="204.2" x2="59.5" y2="204.2" stroke="#000" stroke-width="1"/>
<line x1="56.5" y1="195.2" x2="62.5" y2="195.2" stroke="#000" stroke-width="1"/>
<line x1="97.8" y1="320.7" x2="97.8" y2="315.7" stroke="#000" stroke-width="1"/>
<line x1="139.0" y1="320.7" x2="139.0" y2="315.7" stroke="#000" stroke-width="1"/>
<line x1="180.2" y1="320.7" x2="180.2" y2="315.7" stroke="#000" stroke-width="1"/>
<svg x="56.5" y="376.8" width="165" height="125.5" overflow="hidden"><g>
<rect width="165" height="125.5" fill="#00AAF5"/>
<path fill="#1EB9F0" fill-rule="evenodd" d="M0 0.0 165 0.0 165 125.5 0 125.5ZM27.2 68.8 26 71.3 26.5 75.3 28.2 77.1 30.2 77.0 31.8 74.3 31.4 71.3 29.2 69.0Z"/>
<path fill="#5AC3F0" fill-rule="evenodd" d="M0 0.0 165 0.0 165 125.5 0 125.5ZM20.7 62.2 20 64.3 21.9 70.3 23.1 79.3 27.2 81.8 32.2 81.1 34.2 79.2 35.6 75.3 35.7 71.3 34.6 68.3 32 65.3 27.2 62.4 23.1 61.7Z"/>
<path fill="#87D2F0" fill-rule="evenodd" d="M0 0.0 165 0.0 165 125.5 0 125.5ZM14 59.2 13.5 61.2 18.1 67.3 19.7 71.3 19.7 75.3 18.3 81.3 19 83.3 22.1 84.5 28.2 85.1 32.2 84.7 35.2 83.3 37.9 79.3 39.2 73.3 38.8 69.3 36.6 65.3 31.2 60.5 27.2 58.6 19.1 58.2Z"/>
<path fill="#AADCF5" fill-rule="evenodd" d="M0 0.0 154.7 0.0 165 1.3 165 125.5 0 125.5 0 87.1 2.4 88.4 3.9 90.4 5.1 97.4 12.1 101.4 17.4 93.4 20.8 90.4 25.2 88.9 36.2 87.7 39.2 86.3 42.8 78.3 46.5 73.3 45.9 71.3 38.9 63.3 29.2 55.7 10.1 53.1 0 59.2ZM13.1 10.1 11.1 12.0 7.4 23.1 8 27.9 9.1 29.4 11.1 30.2 12.3 29.1 16.2 15.1 15.7 12.0ZM25.7 104.4 14.1 103.8 13.7 109.4 16.1 116.5 18.1 115.8 21.4 110.4 25.5 106.4ZM4 64.5 7 63.5 10.1 63.8 13.1 65.2 16.1 68.0 17.8 73.3 16.9 76.3 15.1 78.7 12.1 80.1 9.1 80.3 6 79.1 4 77.2 2.4 74.3 1.7 70.3 2.2 67.3Z"/>
<path fill="#C8E6F5" fill-rule="evenodd" d="M0 0.0 147.4 0.0 153.9 3.1 165 3.3 165 125.5 21.9 125.5 24.3 115.5 32.9 106.4 33.2 94.9 34.9 93.4 42.5 90.4 44.9 88.4 50.6 76.3 51.3 72.3 49.3 68.9 32.2 53.2 23.1 51.0 20.1 49.2 19.3 46.2 22.1 36.1 19.8 26.1 22.5 17.1 21.7 12.0 17.1 6.1 12.1 2.3 10.1 2.2 5 14.1 0 19.0ZM38.8 44.2 38.8 46.2 40.2 47.2 42.3 47.1 44.2 45.2 43.5 43.2 42.3 42.5 40.2 42.8ZM0 41.3 3 43.0 3.8 45.2 2.3 48.2 0 50.5ZM6.4 67.3 10.1 66.4 14.1 68.6 15.7 72.3 13.9 76.3 10.1 77.6 5.8 75.3 4.4 71.3ZM0 103.1 4.4 105.4 7.6 110.4 9 116.5 8.6 125.5 0 125.5Z"/>
<path fill="#FFFAB4" fill-rule="evenodd" d="M4.8 0.0 3.9 9.0 2.3 12.0 0 13.9 0 0.0ZM16.2 0.0 141.3 0.0 145.4 3.0 150.9 4.8 165 4.9 165 125.5 25.1 125.5 25.7 120.5 27.2 116.5 35.8 108.4 37.7 97.4 46.7 91.4 49.1 88.4 53.1 76.3 53.4 72.3 51.3 67.6 40.2 57.2 38.2 54.2 38.7 52.2 44.3 50.1 46.6 48.2 47.5 44.2 45.3 40.2 42.3 39.1 38.2 40.0 35.7 42.2 33.2 46.6 31.2 47.9 28.2 47.8 25.8 46.2 25 43.2 26.1 35.1 24.8 27.1 27.6 19.1 27.6 16.1 24.3 9.0ZM8 69.8 10.1 69.1 12.4 70.3 13.2 72.3 12.1 74.3 10.1 74.8 8 73.8 7.2 71.3ZM0 107.6 3 110.3 4.7 114.5 4.9 118.5 3.4 125.5 0 125.5Z"/>
<path fill="#FFF078" fill-rule="evenodd" d="M0 0.0 1 5.0 0 8.9ZM20.6 0.0 41.2 0.0 37.2 2.6 33.2 8.1 31.2 9.0ZM45.3 0.0 134.1 0.0 140.5 4.0 148.9 6.5 154.9 7.2 165 6.5 165 125.5 27.9 125.5 28.7 120.5 30.1 117.5 38.6 110.4 41.2 98.6 48.6 93.4 51.3 90.1 55 75.3 54.3 69.0 46.3 56.2 49.6 47.2 49.5 43.2 48.3 39.1 46.3 36.8 43.3 35.8 32.2 38.2 30.7 34.1 30.9 27.1 37.1 16.1 42.3 12.9 44.3 10.0 45.5 5.0Z"/>
<path fill="#FFDC32" fill-rule="evenodd" d="M51.5 0.0 123.8 0.0 131.8 4.0 147.7 8.0 154.9 9.0 165 8.1 165 125.5 30.9 125.5 33.2 119.5 39.2 115.6 41.2 113.3 44.1 101.4 52.3 93.2 54.9 86.3 56.5 71.3 51.6 59.2 51.1 40.2 47.7 27.1 44.9 20.1Z"/>
<path fill="#FFC828" fill-rule="evenodd" d="M54.3 0.0 116.8 0.0 122.3 4.0 133.4 7.0 153.9 10.6 165 9.9 165 125.5 35.1 125.5 36.9 122.5 42 118.5 44.3 115.5 48.3 103.4 54.6 94.4 56.7 88.4 58 71.3 54.3 59.2 52.4 33.1 49.9 18.1 50.6 12.0Z"/>
<path fill="#FFB414" fill-rule="evenodd" d="M56.6 0.0 109.3 0.0 115 4.0 124.8 7.3 154.9 12.5 165 12.3 165 125.5 90.2 125.5 88.1 122.5 85.5 121.5 82.5 122.9 81.1 125.5 41.2 125.5 47.6 116.5 57 95.4 58.6 89.4 59.4 70.3 56 56.2 53 18.1Z"/>
<path fill="#FFA00A" fill-rule="evenodd" d="M58.9 0.0 92.8 0.0 97.2 2.0 119.2 8.0 144.9 11.8 158 15.0 165 15.6 165 124.5 163.4 125.5 109.7 125.5 104.6 123.0 95.6 122.3 89.5 117.8 86.5 117.0 83.5 118.1 81.5 120.0 79.1 125.5 47.8 125.5 56.5 106.4 60.8 89.4 60.9 69.3 56.8 49.2 55.6 21.1 56 15.1 58.7 6.0Z"/>
<path fill="#FF8C00" fill-rule="evenodd" d="M61.9 0.0 82.5 0.0 85.8 3.0 92.6 5.5 144.9 13.1 165 21.1 165 122.9 161.1 125.5 117.4 125.5 110.9 121.5 97.8 116.5 92.1 111.4 86.5 104.7 84.5 103.6 83 105.4 81.8 113.5 77.4 125.5 56.1 125.5 56.2 118.5 60.4 106.4 63 89.4 62.6 66.3 59.4 54.8 58.2 47.2 57.7 23.1 58.5 16.1 62.4 7.0Z"/>
<path fill="#FF7300" fill-rule="evenodd" d="M67.4 8.8 71.4 6.5 76.5 6.3 98.6 9.8 142.9 14.1 151.2 17.1 159.4 24.1 165 26.9 165 121.6 161 123.2 158.9 125.5 141.2 125.5 135.8 123.8 121.7 122.2 104.6 114.5 93.6 104.2 87.5 95.2 84.5 93.5 81.5 95.1 79.5 99.4 78.4 113.5 75.7 125.5 61.9 125.5 61.8 117.5 64.9 97.4 65.6 85.3 64.6 65.3 61 54.2 60 48.2 59.8 23.1 61.4 15.9Z"/>
<path fill="#FF4B00" fill-rule="evenodd" d="M66.4 14.1 71.4 11.1 78.5 10.2 141.9 15.3 147.9 17.5 154.6 25.1 165 30.6 165 67.8 164.3 70.3 165 71.7 165 120.3 160 122.0 156.5 125.5 146.8 125.5 140.9 122.3 126.5 119.5 120.6 117.5 112.3 112.4 105.6 104.4 96.6 98.2 90.5 90.4 84.5 85.6 81.5 84.3 79.3 86.3 75.9 97.4 73.6 125.5 65.4 125.5 69 83.3 67 64.3 62.2 50.2 61.9 28.1 62.9 19.1Z"/>
<path fill="#FF1E00" fill-rule="evenodd" d="M67.5 17.1 72.4 14.0 78.5 13.0 95.6 14.5 120.7 14.8 140.9 16.8 145.9 19.1 148.6 24.1 150.8 26.1 165 34.0 165 62.8 161.2 66.3 159.8 71.3 161 74.7 165 76.6 165 118.9 160 120.2 151.9 123.9 127.8 116.1 123.8 113.5 113.9 102.4 91.6 86.5 84.5 79.2 74 75.3 72.4 72.5 70.3 64.3 65.6 54.2 64.8 50.2 64.7 25.1 65.7 20.1Z"/>
<path fill="#F00000" fill-rule="evenodd" d="M71.4 18.6 75.5 16.5 80.5 16.0 121.7 16.7 136.8 18.4 141.4 20.1 143.5 24.1 145.6 26.1 157 31.5 165 38.2 165 59.6 158.9 65.3 157.3 69.3 156.9 73.3 157.4 76.3 158.8 78.3 165 80.7 165 117.5 153.9 120.2 150.9 120.2 133.8 114.1 129.8 111.0 126.7 104.4 124.7 102.4 108.7 93.5 91.7 82.3 88.1 76.3 82.3 71.3 81.5 64.1 79.5 62.4 72.4 60.0 68.8 54.2 68.1 50.2 68.2 32.1 69.3 22.1Z"/>
<path fill="#DC0000" fill-rule="evenodd" d="M82.5 21.4 86.5 19.8 93.6 19.1 128.3 20.1 133.8 21.8 142 27.1 153.9 31.7 160.9 37.1 165 44.8 165 56.3 156.4 65.3 154.9 70.0 154.5 76.3 155.9 80.1 161.7 84.3 163.2 87.3 162.6 98.4 165 107.6 165 115.2 153.9 117.7 146.9 115.9 144.7 113.5 142.3 107.4 132 99.4 114.7 92.5 96.6 81.7 94.7 79.3 93 74.3 87.1 69.3 83.5 62.2 73.6 56.2 71.7 51.2 72.5 34.1 74.5 30.2 79 26.1Z"/>
<path fill="#C80000" fill-rule="evenodd" d="M77.5 33.1 83.5 28.7 88.5 23.1 92.6 21.6 97.6 21.4 103.6 22.2 113.7 25.2 125.8 25.2 132.8 26.5 148.9 31.0 157.5 36.1 161.5 42.2 163.5 48.2 163.9 52.2 162 56.2 154.3 65.3 152.3 77.3 153.7 81.3 158.6 85.3 160.6 88.4 160.8 99.4 162.9 110.4 161.5 113.5 155.9 115.4 149.9 114.2 147.9 112.3 144.2 105.4 134.8 97.4 117.7 90.0 109.7 84.1 101.2 79.3 96.6 72.8 88.7 67.3 84.3 60.2 77.5 55.8 75.5 53.5 74.7 50.2 75.4 38.2Z"/>
<path fill="#DC4650" fill-rule="evenodd" d="M91.6 25.2 97.6 24.1 112.7 28.0 127.8 28.2 141.9 30.4 150.9 33.4 157 38.2 160.6 45.2 161.6 52.2 159.7 56.2 152.7 64.3 150.3 78.3 151.5 82.3 157.4 87.3 158.9 90.4 159 98.4 160.5 107.4 160.1 110.4 159 112.0 154.9 113.3 150.9 111.9 145.9 104.3 137.8 96.4 121.4 88.4 112.7 81.9 105.6 78.0 98.9 71.3 90.5 66.5 85.5 59.0 78.5 53.2 77.4 49.2 78.9 37.1 81.5 34.2 87.1 31.1Z"/>
<path fill="#F08C8C" fill-rule="evenodd" d="M82.5 38.9 84.5 37.5 92.4 36.1 93.8 34.1 95.1 29.1 98.6 27.9 112.7 30.1 126.8 30.1 141.9 31.8 148.9 34.0 153.9 37.4 158 43.2 159.8 51.2 158.3 55.2 152.4 61.2 150.7 64.3 148.1 80.3 149.5 84.3 154.9 88.1 156.6 90.4 158.5 106.4 157 110.2 154.9 110.9 151.9 109.8 146.9 102.4 139 93.4 130.8 90.3 123.8 86.5 107.7 76.1 101.5 70.3 91.6 65.1 86.6 57.2 80.6 51.2 80.5 45.8Z"/>
<path fill="#FFAAB2" fill-rule="evenodd" d="M85.5 43.2 94.6 39.8 99.6 33.1 102.6 31.5 125.8 31.7 138.8 32.8 145.9 34.3 152 38.2 156.5 44.2 157.8 51.2 156.7 54.2 150.7 60.2 149 63.3 143.9 85.0 140.9 87.6 135.8 88.4 131.8 87.3 109.7 74.6 102.6 68.3 93.4 64.3 91.6 62.2 88.5 55.6 84.1 50.2 83.9 47.2ZM147.9 89.8 150.9 89.5 153.9 91.6 155.9 104.4 154.9 107.5 152.6 106.4 146.1 96.4 145.9 92.4Z"/>
<path fill="none" stroke="#168216" stroke-width="1.3" stroke-dasharray="2.5,1.5" d="M27.2 68.8L26.6 69.3L26.2 70.1L26.1 70.3L26.0 71.3L26.0 72.3L26.0 73.3L26.2 74.2L26.2 74.3L26.5 75.3L27.1 76.3L27.2 76.4L28.2 77.1L29.2 77.3L30.2 77.0L30.9 76.3L31.2 76.0L31.5 75.3L31.8 74.3L31.9 73.3L31.7 72.3L31.4 71.3L31.2 70.8L30.8 70.3L30.2 69.6L29.6 69.3L29.2 69.0L28.2 68.7Z"/>
<path fill="none" stroke="#168216" stroke-width="1.3" stroke-dasharray="2.5,1.5" d="M0.0 84.2L1.0 84.2L2.0 84.3L2.2 84.3L3.0 84.4L4.0 84.7L5.0 85.2L5.2 85.3L6.0 86.0L6.4 86.3L7.0 87.1L7.2 87.3L8.0 88.4L8.0 88.4L8.9 89.4L9.1 89.5L10.0 90.4L10.1 90.4L11.1 90.7L12.1 90.7L13.1 90.4L13.1 90.4L14.1 89.9L15.0 89.4L15.1 89.3L16.1 88.7L16.8 88.4L17.1 88.2L18.1 87.8L19.1 87.4L19.5 87.3L20.1 87.2L21.1 87.0L22.1 86.9L23.1 86.9L24.1 86.8L25.2 86.8L26.2 86.8L27.2 86.7L28.2 86.7L29.2 86.6L30.2 86.6L31.2 86.5L32.2 86.4L32.4 86.3L33.2 86.2L34.2 86.0L35.2 85.7L35.9 85.3L36.2 85.2L37.2 84.5L37.4 84.3L38.2 83.3L38.2 83.3L38.8 82.3L39.2 81.3L39.2 81.1L39.5 80.3L39.8 79.3L40.1 78.3L40.2 78.0L40.5 77.3L40.8 76.3L41.1 75.3L41.2 74.5L41.3 74.3L41.5 73.3L41.6 72.3L41.5 71.3L41.3 70.3L41.2 70.3L40.9 69.3L40.5 68.3L40.2 67.8L40.0 67.3L39.4 66.3L39.2 66.1L38.7 65.3L38.2 64.7L37.8 64.3L37.2 63.6L36.8 63.3L36.2 62.7L35.7 62.2L35.2 61.8L34.5 61.2L34.2 61.0L33.3 60.2L33.2 60.1L32.2 59.3L32.1 59.2L31.2 58.6L30.6 58.2L30.2 58.0L29.2 57.5L28.5 57.2L28.2 57.1L27.2 56.9L26.2 56.7L25.2 56.6L24.1 56.6L23.1 56.6L22.1 56.5L21.1 56.5L20.1 56.5L19.1 56.5L18.1 56.4L17.1 56.3L16.1 56.3L15.7 56.2L15.1 56.2L14.1 56.1L13.1 56.1L12.1 56.2L11.7 56.2L11.1 56.3L10.1 56.7L9.2 57.2L9.1 57.4L8.2 58.2L8.0 58.7L7.8 59.2L7.9 60.2L8.0 60.3L9.0 61.2L9.1 61.3L10.1 61.8L10.6 62.2L11.1 62.4L12.1 63.0L12.3 63.3L13.1 63.7L13.8 64.3L14.1 64.5L15.0 65.3L15.1 65.3L16.0 66.3L16.1 66.4L16.8 67.3L17.1 67.7L17.5 68.3L18.0 69.3L18.1 69.6L18.4 70.3L18.6 71.3L18.8 72.3L18.8 73.3L18.7 74.3L18.5 75.3L18.2 76.3L18.1 76.7L17.9 77.3L17.3 78.3L17.1 78.7L16.6 79.3L16.1 80.0L15.7 80.3L15.1 80.9L14.3 81.3L14.1 81.5L13.1 82.0L12.1 82.3L11.8 82.3L11.1 82.5L10.1 82.7L9.1 82.7L8.0 82.6L7.0 82.4L6.9 82.3L6.0 82.0L5.2 81.3L5.0 81.2L4.2 80.3L4.0 80.1L3.4 79.3L3.0 78.8L2.7 78.3L2.2 77.3L2.0 77.0L1.7 76.3L1.3 75.3L1.0 74.6L0.9 74.3L0.6 73.3L0.3 72.3L0.1 71.3L0.0 70.4"/>
<path fill="none" stroke="#168216" stroke-width="1.3" d="M116.8 0.0L117.6 1.0L117.7 1.1L118.7 1.9L118.8 2.0L119.7 2.6L120.3 3.0L120.7 3.2L121.7 3.7L122.3 4.0L122.7 4.2L123.8 4.6L124.8 4.9L125.1 5.0L125.8 5.2L126.8 5.5L127.8 5.8L128.8 6.0L128.8 6.0L129.8 6.2L130.8 6.5L131.8 6.7L132.8 6.9L133.4 7.0L133.8 7.1L134.8 7.3L135.8 7.5L136.8 7.7L137.8 7.9L138.8 8.0L138.8 8.0L139.8 8.2L140.9 8.4L141.9 8.5L142.9 8.7L143.9 8.9L144.8 9.0L144.9 9.1L145.9 9.2L146.9 9.4L147.9 9.6L148.9 9.8L149.9 10.0L150.1 10.0L150.9 10.2L151.9 10.3L152.9 10.5L153.9 10.6L154.9 10.7L155.9 10.7L157.0 10.7L158.0 10.7L159.0 10.6L160.0 10.5L161.0 10.4L162.0 10.3L163.0 10.1L163.9 10.0L164.0 10.0L165.0 9.9M35.1 125.5L35.2 125.1L35.5 124.5L36.0 123.5L36.2 123.2L36.9 122.5L37.2 122.1L38.0 121.5L38.2 121.3L39.2 120.6L39.4 120.5L40.2 119.9L40.9 119.5L41.2 119.2L42.0 118.5L42.3 118.2L42.9 117.5L43.3 117.1L43.7 116.5L44.3 115.5L44.3 115.5L44.8 114.5L45.2 113.5L45.3 113.4L45.6 112.4L46.0 111.4L46.3 110.5L46.3 110.4L46.6 109.4L46.9 108.4L47.2 107.4L47.3 106.9L47.4 106.4L47.7 105.4L48.0 104.4L48.3 103.6L48.3 103.4L48.8 102.4L49.3 101.6L49.4 101.4L50.1 100.4L50.3 100.2L50.9 99.4L51.3 98.9L51.7 98.4L52.3 97.7L52.6 97.4L53.3 96.4L53.3 96.4L54.0 95.4L54.3 94.9L54.6 94.4L55.1 93.4L55.3 92.9L55.6 92.4L55.9 91.4L56.2 90.4L56.3 89.9L56.5 89.4L56.7 88.4L56.8 87.3L56.9 86.3L57.0 85.3L57.1 84.3L57.2 83.3L57.3 82.3L57.3 81.4L57.4 81.3L57.5 80.3L57.6 79.3L57.7 78.3L57.8 77.3L57.9 76.3L58.0 75.3L58.1 74.3L58.1 73.3L58.1 72.3L58.0 71.3L57.9 70.3L57.7 69.3L57.5 68.3L57.3 67.8L57.2 67.3L56.9 66.3L56.4 65.3L56.3 65.0L56.0 64.3L55.5 63.3L55.3 62.8L55.1 62.2L54.8 61.2L54.5 60.2L54.3 59.5L54.3 59.2L54.1 58.2L54.0 57.2L54.0 56.2L53.9 55.2L53.9 54.2L53.8 53.2L53.8 52.2L53.7 51.2L53.6 50.2L53.5 49.2L53.5 48.2L53.4 47.2L53.3 46.2L53.3 46.1L53.3 45.2L53.2 44.2L53.2 43.2L53.1 42.2L53.0 41.2L53.0 40.2L52.9 39.2L52.9 38.2L52.8 37.1L52.7 36.1L52.6 35.1L52.5 34.1L52.4 33.1L52.3 32.1L52.3 32.1L52.2 31.1L52.1 30.1L51.9 29.1L51.8 28.1L51.6 27.1L51.4 26.1L51.3 25.6L51.2 25.1L51.0 24.1L50.7 23.1L50.5 22.1L50.3 21.2L50.3 21.1L50.1 20.1L49.9 19.1L49.9 18.1L49.9 17.1L49.9 16.1L50.0 15.1L50.2 14.1L50.3 13.6L50.4 13.1L50.6 12.0L50.9 11.0L51.2 10.0L51.3 9.7L51.5 9.0L51.9 8.0L52.3 7.0L52.3 6.9L52.7 6.0L53.0 5.0L53.3 4.2L53.4 4.0L53.7 3.0L53.9 2.0L54.1 1.0L54.3 0.0"/>
<path fill="none" stroke="#168216" stroke-width="1.3" d="M165.0 121.6L164.0 121.8L163.0 122.2L162.2 122.5L162.0 122.6L161.0 123.2L160.6 123.5L160.0 124.1L159.6 124.5L159.0 125.4L158.9 125.5M61.9 125.5L61.8 124.5L61.8 123.5L61.7 122.5L61.7 121.5L61.7 120.5L61.7 119.5L61.7 118.5L61.8 117.5L61.9 116.5L62.0 115.5L62.2 114.5L62.4 113.6L62.4 113.5L62.6 112.4L62.8 111.4L63.0 110.4L63.2 109.4L63.4 108.6L63.4 108.4L63.6 107.4L63.7 106.4L63.9 105.4L64.0 104.4L64.1 103.4L64.3 102.4L64.4 101.4L64.4 101.3L64.5 100.4L64.6 99.4L64.7 98.4L64.9 97.4L65.0 96.4L65.1 95.4L65.2 94.4L65.3 93.4L65.4 92.4L65.4 92.0L65.4 91.4L65.5 90.4L65.5 89.4L65.6 88.4L65.6 87.3L65.6 86.3L65.6 85.3L65.5 84.3L65.5 83.3L65.4 82.3L65.4 81.8L65.4 81.3L65.3 80.3L65.3 79.3L65.2 78.3L65.1 77.3L65.1 76.3L65.0 75.3L65.0 74.3L65.0 73.3L64.9 72.3L64.9 71.3L64.9 70.3L64.9 69.3L64.9 68.3L64.8 67.3L64.7 66.3L64.6 65.3L64.5 64.3L64.4 63.9L64.2 63.3L64.0 62.2L63.6 61.2L63.4 60.6L63.2 60.2L62.8 59.2L62.4 58.2L62.4 58.2L62.0 57.2L61.6 56.2L61.4 55.4L61.3 55.2L61.0 54.2L60.8 53.2L60.6 52.2L60.4 51.2L60.4 50.9L60.3 50.2L60.1 49.2L60.0 48.2L60.0 47.2L59.9 46.2L59.9 45.2L59.8 44.2L59.8 43.2L59.8 42.2L59.8 41.2L59.8 40.2L59.8 39.2L59.9 38.2L59.9 37.1L59.9 36.1L59.9 35.1L59.9 34.1L59.9 33.1L59.9 32.1L59.8 31.1L59.8 30.1L59.8 29.1L59.8 28.1L59.8 27.1L59.7 26.1L59.7 25.1L59.8 24.1L59.8 23.1L59.8 22.1L59.9 21.1L60.1 20.1L60.2 19.1L60.4 18.6L60.5 18.1L60.9 17.1L61.3 16.1L61.4 15.9L61.8 15.1L62.4 14.2L62.5 14.1L63.3 13.1L63.4 12.9L64.1 12.0L64.4 11.7L65.1 11.0L65.4 10.7L66.1 10.0L66.4 9.7L67.2 9.0L67.4 8.8L68.4 8.0L68.4 8.0L69.4 7.3L70.1 7.0L70.4 6.9L71.4 6.5L72.4 6.3L73.4 6.2L74.5 6.2L75.5 6.2L76.5 6.3L77.5 6.4L78.5 6.5L79.5 6.6L80.5 6.8L81.5 7.0L81.8 7.0L82.5 7.1L83.5 7.3L84.5 7.5L85.5 7.7L86.5 7.9L87.3 8.0L87.5 8.1L88.5 8.2L89.5 8.4L90.5 8.6L91.6 8.8L92.6 8.9L93.3 9.0L93.6 9.1L94.6 9.2L95.6 9.4L96.6 9.5L97.6 9.6L98.6 9.8L99.6 9.9L100.6 10.0L101.1 10.0L101.6 10.1L102.6 10.2L103.6 10.2L104.6 10.3L105.6 10.4L106.6 10.4L107.7 10.5L108.7 10.5L109.7 10.6L110.7 10.7L111.7 10.8L112.7 10.8L113.7 10.9L114.7 11.0L114.9 11.0L115.7 11.1L116.7 11.2L117.7 11.3L118.7 11.5L119.7 11.6L120.7 11.7L121.7 11.8L122.7 11.9L123.8 12.0L123.9 12.0L124.8 12.1L125.8 12.3L126.8 12.4L127.8 12.5L128.8 12.6L129.8 12.7L130.8 12.8L131.8 12.9L132.8 13.0L133.0 13.1L133.8 13.1L134.8 13.2L135.8 13.3L136.8 13.4L137.8 13.5L138.8 13.5L139.8 13.6L140.9 13.8L141.9 13.9L142.9 14.0L142.9 14.1L143.9 14.2L144.9 14.5L145.9 14.7L146.9 15.1L146.9 15.1L147.9 15.4L148.9 15.9L149.4 16.1L149.9 16.4L150.9 16.9L151.2 17.1L151.9 17.6L152.7 18.1L152.9 18.3L153.9 19.1L153.9 19.2L154.9 20.1L154.9 20.1L155.9 21.1L155.9 21.1L156.9 22.1L157.0 22.1L158.0 23.0L158.1 23.1L159.0 23.8L159.4 24.1L160.0 24.5L161.0 25.1L161.0 25.1L162.0 25.6L162.9 26.1L163.0 26.1L164.0 26.5L165.0 26.9M141.2 125.5L140.9 125.3L139.8 124.9L138.8 124.5L138.8 124.5L137.8 124.2L136.8 124.0L135.8 123.8L134.8 123.7L133.8 123.5L133.3 123.5L132.8 123.5L131.8 123.4L130.8 123.3L129.8 123.3L128.8 123.3L127.8 123.2L126.8 123.2L125.8 123.1L124.8 122.9L123.8 122.7L122.8 122.5L122.7 122.5L121.7 122.2L120.7 121.8L119.9 121.5L119.7 121.4L118.7 121.0L117.7 120.6L117.5 120.5L116.7 120.1L115.7 119.7L115.2 119.5L114.7 119.3L113.7 118.8L112.9 118.5L112.7 118.4L111.7 118.0L110.7 117.6L110.4 117.5L109.7 117.1L108.7 116.7L108.1 116.5L107.7 116.2L106.6 115.7L106.2 115.5L105.6 115.1L104.6 114.5L104.6 114.5L103.6 113.7L103.3 113.5L102.6 112.8L102.3 112.4L101.6 111.7L101.4 111.4L100.6 110.6L100.4 110.4L99.6 109.5L99.5 109.4L98.6 108.6L98.5 108.4L97.6 107.7L97.3 107.4L96.6 106.9L96.1 106.4L95.6 106.0L94.9 105.4L94.6 105.2L93.8 104.4L93.6 104.2L92.9 103.4L92.6 103.0L92.1 102.4L91.6 101.6L91.4 101.4L90.8 100.4L90.5 99.9L90.2 99.4L89.7 98.4L89.5 98.1L89.1 97.4L88.5 96.5L88.5 96.4L87.7 95.4L87.5 95.2L86.6 94.4L86.5 94.3L85.5 93.7L84.5 93.5L83.5 93.6L82.5 94.1L82.2 94.4L81.5 95.1L81.3 95.4L80.7 96.4L80.5 96.7L80.2 97.4L79.8 98.4L79.5 99.4L79.5 99.4L79.2 100.4L79.0 101.4L78.9 102.4L78.8 103.4L78.7 104.4L78.6 105.4L78.6 106.4L78.5 107.4L78.5 108.4L78.5 109.4L78.5 110.4L78.5 111.4L78.5 112.1L78.5 112.4L78.4 113.5L78.2 114.5L78.0 115.5L77.7 116.5L77.5 117.4L77.4 117.5L77.1 118.5L76.8 119.5L76.5 120.5L76.5 120.8L76.3 121.5L76.1 122.5L75.9 123.5L75.8 124.5L75.7 125.5"/>
<path fill="none" stroke="#168216" stroke-width="1.3" d="M165.0 58.0L164.7 58.2L164.0 58.7L163.4 59.2L163.0 59.5L162.2 60.2L162.0 60.4L161.0 61.2L161.0 61.3L160.0 62.2L159.9 62.2L159.0 63.3L159.0 63.3L158.2 64.3L158.0 64.7L157.6 65.3L157.1 66.3L157.0 66.6L156.7 67.3L156.4 68.3L156.1 69.3L155.9 70.3L155.9 70.3L155.8 71.3L155.7 72.3L155.6 73.3L155.6 74.3L155.6 75.3L155.8 76.3L155.9 77.1L156.0 77.3L156.5 78.3L157.0 79.0L157.3 79.3L158.0 79.9L158.5 80.3L159.0 80.6L160.0 81.1L160.3 81.3L161.0 81.7L162.0 82.2L162.3 82.3L163.0 82.7L163.9 83.3L164.0 83.5L164.8 84.3L165.0 84.7M165.0 89.6L164.9 90.4L164.6 91.4L164.4 92.4L164.2 93.4L164.0 94.3L164.0 94.4L163.8 95.4L163.7 96.4L163.7 97.4L163.7 98.4L163.7 99.4L163.9 100.4L164.0 101.0L164.1 101.4L164.4 102.4L164.7 103.4L165.0 104.3M165.0 116.5L164.0 116.7L163.0 116.9L162.0 117.1L161.0 117.4L160.6 117.5L160.0 117.6L159.0 117.9L158.0 118.1L157.0 118.4L156.4 118.5L155.9 118.6L154.9 118.8L153.9 118.9L152.9 118.9L151.9 118.9L150.9 118.8L149.9 118.6L149.5 118.5L148.9 118.3L147.9 118.0L146.9 117.7L146.4 117.5L145.9 117.2L144.9 116.8L144.2 116.5L143.9 116.2L142.9 115.6L142.7 115.5L141.9 114.6L141.6 114.5L140.9 113.5L140.9 113.3L140.4 112.4L140.2 111.4L139.9 110.4L139.8 110.3L139.2 109.4L138.8 109.1L137.8 108.7L136.8 108.5L135.8 108.4L135.8 108.4L134.8 108.2L134.0 107.4L133.8 107.3L133.3 106.4L132.9 105.4L132.8 105.3L132.4 104.4L131.9 103.4L131.8 103.3L131.1 102.4L130.8 102.1L130.1 101.4L129.8 101.2L128.8 100.6L128.5 100.4L127.8 100.1L126.8 99.7L126.0 99.4L125.8 99.3L124.8 99.0L123.8 98.6L123.2 98.4L122.7 98.2L121.7 97.8L120.8 97.4L120.7 97.4L119.7 96.9L118.7 96.5L118.6 96.4L117.7 96.0L116.7 95.5L116.4 95.4L115.7 95.1L114.7 94.6L114.2 94.4L113.7 94.1L112.7 93.6L112.2 93.4L111.7 93.1L110.7 92.5L110.5 92.4L109.7 91.9L108.9 91.4L108.7 91.2L107.7 90.5L107.5 90.4L106.6 89.7L106.2 89.4L105.6 89.0L104.7 88.4L104.6 88.3L103.6 87.6L103.1 87.3L102.6 87.1L101.6 86.5L101.3 86.3L100.6 86.0L99.6 85.5L99.2 85.3L98.6 85.0L97.6 84.5L97.2 84.3L96.6 84.0L95.6 83.4L95.5 83.3L94.6 82.6L94.2 82.3L93.6 81.7L93.3 81.3L92.6 80.3L92.6 80.2L92.2 79.3L91.8 78.3L91.6 77.4L91.5 77.3L91.1 76.3L90.6 75.3L90.5 75.2L89.9 74.3L89.5 74.0L88.8 73.3L88.5 73.1L87.5 72.3L87.5 72.3L86.5 71.5L86.3 71.3L85.5 70.3L85.5 70.3L85.0 69.3L84.6 68.3L84.5 67.9L84.3 67.3L84.1 66.3L83.8 65.3L83.5 64.6L83.4 64.3L82.8 63.3L82.5 62.8L82.0 62.2L81.5 61.8L80.6 61.2L80.5 61.2L79.5 60.8L78.5 60.4L77.9 60.2L77.5 60.1L76.5 59.8L75.5 59.5L74.9 59.2L74.5 59.0L73.4 58.4L73.3 58.2L72.4 57.5L72.2 57.2L71.5 56.2L71.4 56.1L71.0 55.2L70.5 54.2L70.4 53.8L70.2 53.2L70.1 52.2L70.0 51.2L70.0 50.2L70.0 49.2L70.1 48.2L70.2 47.2L70.3 46.2L70.4 45.2L70.4 44.2L70.4 43.2L70.4 42.2L70.3 41.2L70.3 40.2L70.2 39.2L70.1 38.2L70.1 37.1L70.1 36.1L70.2 35.1L70.3 34.1L70.4 33.1L70.4 33.0L70.6 32.1L70.8 31.1L71.1 30.1L71.4 29.1L71.4 29.1L71.8 28.1L72.1 27.1L72.4 26.1L72.4 25.7L72.5 25.1L72.7 24.1L72.8 23.1L73.1 22.1L73.4 21.3L73.6 21.1L74.4 20.1L74.5 20.0L75.5 19.3L75.8 19.1L76.5 18.8L77.5 18.5L78.5 18.3L79.5 18.1L79.8 18.1L80.5 18.0L81.5 18.0L82.5 17.9L83.5 17.9L84.5 17.9L85.5 17.9L86.5 17.9L87.5 17.9L88.5 17.9L89.5 17.9L90.5 17.9L91.6 17.9L92.6 17.9L93.6 17.9L94.6 17.9L95.6 17.9L96.6 17.9L97.6 17.9L98.6 17.9L99.6 17.9L100.6 17.9L101.6 17.9L102.6 17.9L103.6 17.9L104.6 17.9L105.6 17.9L106.6 18.0L107.7 18.0L108.7 18.0L109.7 18.0L110.7 18.0L111.7 18.0L112.7 18.0L113.7 17.9L114.7 17.9L115.7 17.9L116.7 17.9L117.7 17.9L118.7 17.8L119.7 17.8L120.7 17.8L121.7 17.9L122.7 17.9L123.7 17.9L124.8 18.0L125.6 18.1L125.8 18.1L126.8 18.2L127.8 18.3L128.8 18.5L129.8 18.6L130.8 18.8L131.8 18.9L132.6 19.1L132.8 19.1L133.8 19.4L134.8 19.6L135.8 19.9L136.5 20.1L136.8 20.2L137.8 20.8L138.3 21.1L138.8 21.7L139.2 22.1L139.8 23.1L139.8 23.1L140.5 24.1L140.9 24.5L141.4 25.1L141.9 25.4L142.8 26.1L142.9 26.1L143.9 26.6L144.9 27.1L144.9 27.1L145.9 27.5L146.9 27.9L147.4 28.1L147.9 28.3L148.9 28.6L149.9 29.0L150.1 29.1L150.9 29.4L151.9 29.9L152.5 30.1L152.9 30.3L153.9 30.8L154.5 31.1L154.9 31.3L155.9 31.9L156.3 32.1L157.0 32.5L157.8 33.1L158.0 33.2L159.0 34.0L159.2 34.1L160.0 34.8L160.4 35.1L161.0 35.7L161.4 36.1L162.0 36.8L162.3 37.1L163.0 38.0L163.1 38.2L163.8 39.2L164.0 39.5L164.4 40.2L165.0 41.2L165.0 41.2"/>
<path fill="none" stroke="#168216" stroke-width="1.3" d="M97.6 27.9L98.6 27.9L99.6 27.9L100.6 28.0L101.4 28.1L101.6 28.1L102.6 28.3L103.6 28.5L104.6 28.7L105.6 28.9L106.6 29.1L106.6 29.1L107.7 29.3L108.7 29.5L109.7 29.7L110.7 29.8L111.7 30.0L112.7 30.1L113.2 30.1L113.7 30.2L114.7 30.2L115.7 30.2L116.7 30.2L117.7 30.2L118.7 30.1L119.1 30.1L119.7 30.1L120.7 30.1L121.7 30.0L122.7 30.0L123.8 30.0L124.8 30.0L125.8 30.0L126.8 30.1L127.7 30.1L127.8 30.1L128.8 30.2L129.8 30.3L130.8 30.4L131.8 30.5L132.8 30.6L133.8 30.7L134.8 30.8L135.8 31.0L136.8 31.1L137.2 31.1L137.8 31.2L138.8 31.3L139.8 31.5L140.9 31.6L141.9 31.8L142.9 32.0L143.5 32.1L143.9 32.2L144.9 32.5L145.9 32.8L146.9 33.1L146.9 33.1L147.9 33.5L148.9 34.0L149.2 34.1L149.9 34.5L150.9 35.1L151.0 35.1L151.9 35.8L152.5 36.1L152.9 36.5L153.6 37.1L153.9 37.4L154.7 38.2L154.9 38.4L155.6 39.2L155.9 39.6L156.3 40.2L157.0 41.1L157.0 41.2L157.5 42.2L158.0 43.0L158.0 43.2L158.5 44.2L158.8 45.2L159.0 45.6L159.1 46.2L159.4 47.2L159.6 48.2L159.7 49.2L159.8 50.2L159.8 51.2L159.6 52.2L159.3 53.2L159.0 54.1L158.9 54.2L158.3 55.2L158.0 55.6L157.5 56.2L157.0 56.8L156.5 57.2L155.9 57.8L155.5 58.2L154.9 58.7L154.4 59.2L153.9 59.7L153.3 60.2L152.9 60.7L152.4 61.2L151.9 62.0L151.7 62.2L151.2 63.3L150.9 63.8L150.7 64.3L150.4 65.3L150.1 66.3L149.9 67.3L149.9 67.3L149.7 68.3L149.6 69.3L149.4 70.3L149.3 71.3L149.1 72.3L148.9 73.3L148.9 73.4L148.7 74.3L148.6 75.3L148.4 76.3L148.3 77.3L148.2 78.3L148.1 79.3L148.1 80.3L148.2 81.3L148.4 82.3L148.8 83.3L148.9 83.5L149.5 84.3L149.9 84.8L150.6 85.3L150.9 85.5L151.9 86.2L152.3 86.3L152.9 86.7L153.9 87.3L154.0 87.3L154.9 88.1L155.3 88.4L155.9 89.1L156.1 89.4L156.6 90.4L156.9 91.4L157.0 91.9L157.0 92.4L157.1 93.4L157.1 94.4L157.1 95.4L157.0 96.4L157.0 97.4L157.1 98.4L157.2 99.4L157.4 100.4L157.6 101.4L157.9 102.4L158.0 102.8L158.1 103.4L158.3 104.4L158.4 105.4L158.5 106.4L158.4 107.4L158.2 108.4L158.0 109.0L157.7 109.4L157.0 110.2L156.6 110.4L155.9 110.8L154.9 110.9L153.9 110.9L152.9 110.5L152.9 110.4L151.9 109.8L151.6 109.4L150.9 108.7L150.7 108.4L150.1 107.4L149.9 107.1L149.5 106.4L149.0 105.4L148.9 105.3L148.4 104.4L147.9 103.7L147.7 103.4L146.9 102.4L146.9 102.4L146.1 101.4L145.9 101.2L145.1 100.4L144.9 100.1L144.2 99.4L143.9 99.0L143.3 98.4L142.9 97.8L142.6 97.4L141.9 96.4L141.9 96.4L141.1 95.4L140.9 95.0L140.3 94.4L139.8 94.0L139.0 93.4L138.8 93.3L137.8 92.8L136.8 92.4L136.8 92.4L135.8 92.0L134.8 91.7L133.8 91.4L133.7 91.4L132.8 91.1L131.8 90.7L131.0 90.4L130.8 90.3L129.8 89.8L128.8 89.4L128.8 89.3L127.8 88.8L127.0 88.4L126.8 88.2L125.8 87.6L125.2 87.3L124.8 87.1L123.8 86.5L123.5 86.3L122.7 85.9L121.9 85.3L121.7 85.2L120.7 84.5L120.5 84.3L119.7 83.8L119.2 83.3L118.7 83.0L117.9 82.3L117.7 82.2L116.7 81.4L116.7 81.3L115.7 80.6L115.2 80.3L114.7 80.0L113.7 79.4L113.5 79.3L112.7 78.9L111.7 78.4L111.6 78.3L110.7 77.9L109.7 77.3L109.6 77.3L108.7 76.7L108.0 76.3L107.7 76.1L106.6 75.3L106.6 75.3L105.6 74.4L105.5 74.3L104.6 73.3L104.6 73.3L103.7 72.3L103.6 72.2L102.7 71.3L102.6 71.2L101.6 70.4L101.5 70.3L100.6 69.7L99.8 69.3L99.6 69.2L98.6 68.7L97.6 68.3L97.6 68.3L96.6 67.9L95.6 67.5L95.1 67.3L94.6 67.0L93.6 66.5L93.1 66.3L92.6 65.9L91.8 65.3L91.6 65.1L90.8 64.3L90.5 63.9L90.1 63.3L89.5 62.3L89.5 62.2L89.0 61.2L88.5 60.3L88.5 60.2L88.0 59.2L87.5 58.5L87.3 58.2L86.6 57.2L86.5 57.2L85.6 56.2L85.5 56.2L84.5 55.3L84.3 55.2L83.5 54.6L83.0 54.2L82.5 53.8L81.9 53.2L81.5 52.7L81.1 52.2L80.6 51.2L80.5 50.7L80.4 50.2L80.3 49.2L80.2 48.2L80.3 47.2L80.4 46.2L80.5 45.8L80.6 45.2L80.7 44.2L80.9 43.2L81.1 42.2L81.4 41.2L81.5 40.7L81.7 40.2L82.3 39.2L82.5 38.9L83.3 38.2L83.5 38.0L84.5 37.5L85.5 37.3L86.5 37.2L87.2 37.1L87.5 37.1L88.5 37.1L89.5 37.0L90.5 36.9L91.6 36.6L92.4 36.1L92.6 36.1L93.4 35.1L93.6 34.7L93.8 34.1L94.0 33.1L94.2 32.1L94.3 31.1L94.6 30.2L94.6 30.1L95.1 29.1L95.6 28.7L96.6 28.1L96.7 28.1Z"/>
<path fill="none" stroke="#168216" stroke-width="1.3" d="M114.7 36.1L115.7 36.0L116.7 35.9L117.7 35.7L118.7 35.6L119.7 35.5L120.7 35.4L121.7 35.4L122.7 35.3L123.8 35.3L124.8 35.3L125.8 35.4L126.8 35.4L127.8 35.5L128.8 35.6L129.8 35.8L130.8 35.9L131.8 36.0L132.8 36.1L133.2 36.1L133.8 36.2L134.8 36.3L135.8 36.4L136.8 36.5L137.8 36.7L138.8 36.8L139.8 37.0L140.7 37.1L140.9 37.2L141.9 37.6L142.8 38.2L142.9 38.2L143.7 39.2L143.9 39.7L144.0 40.2L143.9 40.7L143.7 41.2L143.0 42.2L142.9 42.3L142.1 43.2L141.9 43.4L141.3 44.2L140.9 45.2L140.9 45.3L140.7 46.2L140.8 47.2L140.9 47.4L141.1 48.2L141.4 49.2L141.8 50.2L141.9 50.2L142.4 51.2L142.9 52.0L143.0 52.2L143.6 53.2L143.9 54.1L143.9 54.2L144.1 55.2L144.1 56.2L144.0 57.2L143.9 58.2L143.9 58.2L143.7 59.2L143.6 60.2L143.4 61.2L143.2 62.2L143.0 63.3L142.9 64.3L142.9 64.3L142.6 65.3L142.4 66.3L142.0 67.3L141.9 67.8L141.6 68.3L141.0 69.3L140.9 69.5L140.0 70.3L139.8 70.4L138.8 70.8L137.8 70.9L136.8 70.8L135.8 70.7L134.8 70.6L133.8 70.5L132.8 70.6L131.8 70.8L130.8 71.0L129.8 71.3L129.8 71.3L128.8 71.6L127.8 72.0L127.0 72.3L126.8 72.4L125.8 72.7L124.8 73.0L123.8 73.2L123.2 73.3L122.7 73.3L121.7 73.4L120.7 73.3L120.4 73.3L119.7 73.2L118.7 73.1L117.7 72.9L116.7 72.6L115.7 72.3L115.7 72.3L114.7 71.8L113.7 71.3L113.6 71.3L112.7 70.6L112.4 70.3L111.7 69.6L111.4 69.3L110.7 68.4L110.6 68.3L109.9 67.3L109.7 66.9L109.2 66.3L108.7 65.5L108.4 65.3L107.7 64.3L107.6 64.3L106.6 63.3L106.6 63.3L105.6 62.4L105.5 62.2L104.6 61.5L104.2 61.2L103.6 60.7L102.9 60.2L102.6 59.8L102.1 59.2L102.0 58.2L102.2 57.2L102.6 56.3L102.6 56.2L103.0 55.2L103.4 54.2L103.6 53.4L103.7 53.2L103.9 52.2L104.2 51.2L104.5 50.2L104.6 49.7L104.8 49.2L105.0 48.2L105.2 47.2L105.4 46.2L105.5 45.2L105.6 44.2L105.5 43.2L105.5 42.2L105.6 41.2L105.6 40.7L105.7 40.2L106.2 39.2L106.6 38.5L107.0 38.2L107.7 37.7L108.7 37.2L108.8 37.1L109.7 36.9L110.7 36.7L111.7 36.6L112.7 36.4L113.7 36.3L114.5 36.1Z"/>
<path fill="none" stroke="#168216" stroke-width="1.3" d="M123.8 54.0L124.5 54.2L123.8 54.7L123.4 54.2Z"/>
</g></svg>
<line x1="118.4" y1="376.8" x2="118.4" y2="502.3" stroke="#000" stroke-width="1" stroke-dasharray="3,2"/>
<rect x="56.5" y="376.8" width="165" height="125.5" fill="none" stroke="#000" stroke-width="1.4"/>
<line x1="56.5" y1="502.3" x2="62.5" y2="502.3" stroke="#000" stroke-width="1"/>
<line x1="56.5" y1="493.3" x2="59.5" y2="493.3" stroke="#000" stroke-width="1"/>
<line x1="56.5" y1="484.4" x2="62.5" y2="484.4" stroke="#000" stroke-width="1"/>
<line x1="56.5" y1="475.4" x2="59.5" y2="475.4" stroke="#000" stroke-width="1"/>
<line x1="56.5" y1="466.4" x2="62.5" y2="466.4" stroke="#000" stroke-width="1"/>
<line x1="56.5" y1="457.5" x2="59.5" y2="457.5" stroke="#000" stroke-width="1"/>
<line x1="56.5" y1="448.5" x2="62.5" y2="448.5" stroke="#000" stroke-width="1"/>
<line x1="56.5" y1="439.6" x2="59.5" y2="439.6" stroke="#000" stroke-width="1"/>
<line x1="56.5" y1="430.6" x2="62.5" y2="430.6" stroke="#000" stroke-width="1"/>
<line x1="56.5" y1="421.6" x2="59.5" y2="421.6" stroke="#000" stroke-width="1"/>
<line x1="56.5" y1="412.7" x2="62.5" y2="412.7" stroke="#000" stroke-width="1"/>
<line x1="56.5" y1="403.7" x2="59.5" y2="403.7" stroke="#000" stroke-width="1"/>
<line x1="56.5" y1="394.7" x2="62.5" y2="394.7" stroke="#000" stroke-width="1"/>
<line x1="56.5" y1="385.8" x2="59.5" y2="385.8" stroke="#000" stroke-width="1"/>
<line x1="56.5" y1="376.8" x2="62.5" y2="376.8" stroke="#000" stroke-width="1"/>
<line x1="97.8" y1="502.3" x2="97.8" y2="497.3" stroke="#000" stroke-width="1"/>
<line x1="139.0" y1="502.3" x2="139.0" y2="497.3" stroke="#000" stroke-width="1"/>
<line x1="180.2" y1="502.3" x2="180.2" y2="497.3" stroke="#000" stroke-width="1"/>
<svg x="56.5" y="558.7" width="165" height="125.5" overflow="hidden"><g>
<rect width="165" height="125.5" fill="#3C6EF0"/>
<path fill="#2882F0" fill-rule="evenodd" d="M0 0.0 165 0.0 165 125.5 0 125.5ZM131.4 6.0 130.5 8.0 131.4 10.0 133.8 11.3 135.8 10.7 136.7 9.0 135.8 6.3 133.8 5.1Z"/>
<path fill="#1E8CFF" fill-rule="evenodd" d="M0 0.0 165 0.0 165 125.5 0 125.5ZM131.8 3.3 129 6.0 128.6 8.0 129.4 10.0 132.8 12.6 136.8 12.4 138.4 10.0 137.8 6.0 134.8 3.1Z"/>
<path fill="#0A9BFF" fill-rule="evenodd" d="M0 0.0 165 0.0 165 125.5 0 125.5ZM131.8 1.0 127.5 5.0 127.2 9.0 131.8 13.5 134.8 14.4 137.2 14.1 139.8 11.0 139.1 5.0 135.8 1.2 133.8 0.6Z"/>
<path fill="#00AAF5" fill-rule="evenodd" d="M0 0.0 129.1 0.0 125.4 5.0 125.5 9.0 129.8 13.5 135.8 15.7 139.8 14.6 141.3 12.0 141.1 6.0 138.2 0.0 165 0.0 165 125.5 0 125.5Z"/>
<path fill="#1EB9F0" fill-rule="evenodd" d="M0 0.0 126 0.0 122.7 6.0 123.6 9.0 130.4 15.1 137.8 17.1 141.9 16.1 143.2 14.1 142.7 6.0 141.3 0.0 165 0.0 165 125.5 0 125.5Z"/>
<path fill="#5AC3F0" fill-rule="evenodd" d="M0 0.0 122.9 0.0 118 6.0 118.8 8.0 131.8 16.9 136.8 18.5 141.9 18.9 148.5 18.1 150.9 16.1 146.9 13.3 145.5 11.0 144.8 6.0 145.9 1.3 151.3 0.0 165 0.0 165 125.5 0 125.5Z"/>
<path fill="#87D2F0" fill-rule="evenodd" d="M0 0.0 118.3 0.0 113.9 5.0 113.7 7.0 115.1 9.0 121.7 11.7 133.8 18.8 145.9 21.2 154.6 19.1 160.9 14.1 160.6 12.0 154.9 9.5 149.9 9.0 149.5 8.0 153.9 5.7 155.7 0.0 165 0.0 165 125.5 0 125.5Z"/>
<path fill="#AADCF5" fill-rule="evenodd" d="M0 0.0 113.4 0.0 111.3 6.0 113.3 10.0 122.7 13.6 130.8 18.6 136.8 21.1 143.9 22.8 148.9 22.6 154.4 21.1 165 16.3 165 125.5 0 125.5ZM157.7 0.0 165 0.0 165 8.7 159.4 6.0Z"/>
<path fill="#C8E6F5" fill-rule="evenodd" d="M0 0.0 109.8 0.0 109.6 7.0 112.2 11.0 121.7 14.4 131.8 20.3 137.8 22.8 143.9 24.3 148.9 24.1 165 18.5 165 125.5 71.3 125.5 68.4 123.5 65.4 123.0 62.4 123.5 59.7 125.5 0 125.5ZM18.7 71.3 18.8 73.3 21.1 74.8 23.4 74.3 24.7 72.3 24.1 70.8 22.1 69.6 20.1 69.9ZM159.4 0.0 165 0.0 165 6.4 161 4.1Z"/>
<path fill="#FFFAB4" fill-rule="evenodd" d="M0 0.0 106.6 0.0 108.3 8.0 111.3 12.0 121.7 15.6 131.8 21.5 137.8 24.0 143.9 25.6 147.9 25.6 165 20.1 165 125.5 76.1 125.5 74.5 122.6 72.4 121.0 65.4 119.5 58.4 121.1 54.5 125.5 0 125.5ZM15.5 70.3 14.9 72.3 15.5 75.3 19.1 78.2 25.2 77.8 28.7 74.3 28.4 70.3 24.1 66.7 19.1 66.8ZM161 0.0 165 0.0 165 4.5 162.6 3.0Z"/>
<path fill="#FFF078" fill-rule="evenodd" d="M0 0.0 103.1 0.0 107.5 10.0 110.3 13.1 121.7 16.9 130.8 22.2 137.8 25.1 143.9 26.8 147.9 26.9 165 21.4 165 125.5 80.8 125.5 79.3 121.5 76.7 118.5 73.4 116.8 68.4 116.2 60.4 116.7 55.3 118.0 51.5 120.5 46.5 125.5 0 125.5 0 26.9 8 27.9 11 26.1 11.5 24.1 10.7 22.1 8 20.1 0 17.7 0.9 13.1 0 9.0ZM19.1 54.2 20.1 55.1 21 54.2ZM22.1 62.6 18.1 63.6 15.1 65.8 12.8 69.3 11.8 73.3 13.1 79.2 17.4 84.3 19.1 88.7 21.1 89.6 23.1 88.5 26.4 83.3 33.8 79.3 35.3 77.3 33.8 72.3 30.6 67.3 26.2 63.9ZM162.7 0.0 165 0.0 165 2.6Z"/>
<path fill="#FFDC32" fill-rule="evenodd" d="M0 0.0 98.7 0.0 102.6 4.2 106.6 11.6 109.2 14.1 120.7 17.8 130 23.1 143.9 28.0 147.9 28.1 165 22.8 165 125.5 98.4 125.5 95.6 122.1 87.3 118.5 81.5 112.0 74.5 110.2 62.4 112.6 52.3 111.9 49.3 112.5 38.2 125.5 0 125.5 0 62.8 7 60.7 9.1 61.1 10.2 62.2 6.2 80.3 6.8 83.3 10.2 89.4 11.1 93.4 8.8 104.4 11.2 108.4 17.1 112.3 20.1 112.7 22.1 111.9 26.2 107.4 25.8 104.4 21.4 100.4 20.7 98.4 27.2 94.4 33.2 87.1 43.4 83.3 45.5 80.3 43.3 74.2 31.2 59.8 30.7 56.2 32.2 44.3 27.2 46.4 21.1 47.1 15.1 46.5 7.6 44.2 0 44.8 0 32.5 7 33.3 11.1 32.2 16.3 28.1 17.9 24.1 16 20.1 8 13.0 3.7 4.0ZM41.2 8.8 42.3 9.1 42.9 8.0 42.3 7.3 41.2 7.8Z"/>
<path fill="#FFC828" fill-rule="evenodd" d="M10.3 0.0 30.9 0.0 33 4.0 33.6 9.0 33 14.1 31.2 17.7 28.2 19.4 24.1 19.2 20.1 17.7 14.1 13.7 11.5 11.0 10 8.0 9.6 4.0ZM51.6 0.0 92.8 0.0 101.6 6.8 105.4 13.1 107.7 15.2 119.7 18.9 129.8 24.3 143.9 29.1 149.9 29.0 165 24.1 165 125.5 113.4 125.5 108.7 122.3 103 116.5 97.6 113.0 92.6 107.4 89.5 105.7 80.5 104.3 60.4 107.4 46.3 101.7 38.6 96.4 37.5 93.4 39.3 90.4 42.3 89.6 50.3 90.4 51.8 89.4 52.5 87.3 51.7 81.3 48.1 71.3 46.3 63.3 41 56.2 41.6 53.2 46.3 46.5 47.6 39.2 46.8 36.1 45.2 34.1 40.2 31.1 31.1 27.1 30.8 25.1 33.5 21.1 43.3 16.9 49.6 12.0 52.1 7.0ZM26.2 30.1 27.2 32.0 26.9 35.1 24.1 40.5 20.1 42.2 15.5 40.2 14.3 37.1 16.1 34.1 21.1 30.8ZM35.2 111.6 37.7 114.5 37.3 117.5 31.2 125.3 28.5 125.5 25.1 120.5 25.6 116.5 30.2 112.1 33.2 111.2ZM0 116.6 6 115.3 10.2 116.5 11.9 118.5 12.1 120.5 10.3 125.5 0 125.5Z"/>
<path fill="#FFB414" fill-rule="evenodd" d="M61.9 0.0 85.9 0.0 90.8 5.0 99.5 9.0 103.3 15.1 105.6 16.9 117.7 19.9 128.5 25.1 143.9 30.2 149.9 30.3 165 25.4 165 125.5 123.8 125.5 121.8 121.5 113.4 116.5 109.6 110.4 102.6 107.3 93.6 101.7 83.5 98.6 73.4 100.9 67.4 101.0 63.4 99.7 60.7 97.4 55.1 73.3 54.5 63.3 51.5 53.2 51.4 35.1 46.2 25.1 46.6 23.1 49 20.1 61.3 10.0 62.6 6.0ZM15.7 6.0 19.1 3.8 23.2 4.0 27.2 6.7 27.7 10.0 24.3 13.1 20.1 12.9 16 10.0 15.2 8.0Z"/>
<path fill="#FFA00A" fill-rule="evenodd" d="M57.3 26.1 71.4 18.6 77.5 9.1 81.5 6.9 87.2 9.0 101.4 20.1 115.7 21.7 144.9 31.6 150.9 31.4 165 26.9 165 125.5 143.4 125.5 134.5 121.5 132.1 113.5 130.8 111.8 128.6 111.4 122.7 113.3 119.7 112.4 114.7 103.6 111.7 101.6 99.6 97.0 83.5 92.6 79.5 92.6 72.4 94.7 68.4 93.1 65.4 89.6 63 84.3 59 65.3 54.6 53.2 54.9 32.1 55.9 28.1Z"/>
<path fill="#FF8C00" fill-rule="evenodd" d="M59.7 31.1 63.4 28.5 75.1 23.1 81.5 18.5 84.5 17.6 99.6 24.4 116.7 25.2 134.8 28.9 145.9 33.0 150.9 32.8 165 28.7 165 125.5 145.1 125.5 137.8 121.1 135.6 118.5 133 109.4 130.8 108.2 122.7 107.0 118.7 99.3 112.1 93.4 108.7 86.9 106.6 84.8 103.6 84.8 96.6 88.7 92.6 89.7 81.5 87.0 72.4 86.3 68.9 84.3 65.2 78.3 61.8 64.3 56.9 52.2 57 38.2 57.9 34.1Z"/>
<path fill="#FF7300" fill-rule="evenodd" d="M61.4 34.1 67.4 30.5 79.5 26.3 84.5 25.4 102.6 28.8 132.8 29.4 147.9 34.6 165 31.1 165 125.5 146.4 125.5 138.8 120.0 136.6 116.5 134.9 108.4 124.8 103.2 120.7 95.5 116.3 89.4 111.7 77.0 108.7 72.9 105.6 70.8 103.4 71.3 99.3 81.3 93.6 85.2 89.5 85.1 81.5 81.9 73.4 81.2 70.4 79.4 67.4 74.8 63.9 63.3 59.1 52.2 58.9 41.2Z"/>
<path fill="#FF4B00" fill-rule="evenodd" d="M63.4 36.4 69.4 33.2 84.5 30.1 103.6 32.9 119.7 32.3 126.8 30.5 131.8 30.2 136.8 31.3 147.9 36.3 159 35.4 165 35.9 165 125.5 147.5 125.5 145.9 123.4 139.8 119.3 137.9 116.5 136.2 107.4 126.4 101.4 113.7 72.1 104.6 62.2 99.6 61.3 96.5 62.2 94.4 64.3 97 74.3 95.8 78.3 93.6 80.4 90.5 80.6 88.2 79.3 83.5 71.8 75.5 75.6 71.4 74.3 69.3 71.3 61.1 51.2 61 42.2Z"/>
<path fill="#FF1E00" fill-rule="evenodd" d="M65.4 39.0 68.4 36.9 73.4 35.6 82.5 34.5 89.5 34.9 94.8 37.1 98.6 44.2 101.6 45.3 103.6 44.3 106.2 39.2 108.7 37.0 112.7 35.9 119.7 36.7 126.7 32.1 131.8 31.2 137.8 32.6 145.9 37.5 152.9 40.3 154.3 42.2 155.6 49.2 159 57.6 165 66.2 165 119.3 163.1 125.5 148.6 125.5 146.1 122.5 140.5 118.5 138.9 115.5 138.3 108.4 137.4 106.4 129.8 102.0 126.8 98.4 115.7 67.3 106.8 58.2 101.6 57.0 94.6 58.3 83.5 62.2 75.5 68.6 72.4 68.4 70.4 65.7 63.5 51.2 63.2 44.2Z"/>
<path fill="#F00000" fill-rule="evenodd" d="M128.8 32.9 132.8 32.2 136.8 33.2 148.8 42.2 150.5 45.2 154.9 60.0 162.7 72.3 165 80.7 165 89.6 163.1 98.4 165 107.6 165 112.5 161.6 125.5 149.7 125.5 147.9 122.9 140.4 116.5 139.6 107.4 138.7 105.4 130.2 100.4 127.7 96.4 124.3 82.3 120.7 72.3 122.8 63.3 121.4 61.2 114.7 56.2 112.9 52.2 112.2 48.2 113.7 44.7 118.7 45.5 121.7 44.3 125 36.1ZM66.4 44.2 68.4 41.2 70.4 40.0 74.5 39.4 78.5 39.9 91.8 49.2 93.9 52.2 90 55.2 76.5 61.6 73.4 61.9 70.4 59.0 67.2 53.2 65.9 48.2Z"/>
<path fill="#DC0000" fill-rule="evenodd" d="M130.8 33.6 134.8 33.5 138.5 35.1 146.1 43.2 148.1 47.2 151.9 60.3 159.6 73.3 162.8 88.4 161.6 99.4 162.7 111.4 160.2 125.5 150.9 125.5 148.8 122.5 142.9 118.0 141 114.5 141.2 107.4 140.3 104.4 131.8 99.7 129.2 95.4 127.1 83.3 123.8 73.3 126.2 63.3 124.9 60.2 120.5 55.2 119.9 53.2 120.4 51.2 125 45.2 127.2 36.1ZM71.4 45.3 74.5 44.7 78 47.2 80.4 51.2 79 54.2 75.5 55.5 72.4 54.1 70.2 49.2Z"/>
<path fill="#C80000" fill-rule="evenodd" d="M131.8 34.6 134.8 34.6 137.9 36.1 143.5 43.2 149.7 61.2 156.4 72.3 160 84.3 160.9 89.4 160.1 99.4 160.8 111.4 158.6 125.5 152.3 125.5 150.3 122.5 143.8 117.5 142 113.5 142.8 105.4 141.9 102.4 139.8 100.9 133.8 99.0 131.1 95.4 129.5 83.3 126.8 73.3 128.8 63.3 123.7 53.2 127.4 45.2 128.6 37.1Z"/>
<path fill="#DC4650" fill-rule="evenodd" d="M132.8 36.0 137 37.1 140.7 42.2 146.1 59.2 153.5 72.3 158.8 87.3 159 113.5 157.8 120.5 155.6 125.5 143.7 115.5 143.3 112.4 145.1 102.4 143.9 97.8 141.9 96.8 135.8 97.2 133.4 94.4 132.9 87.3 130.2 73.3 131.2 63.3 126.6 53.2 129.5 45.2 130.2 38.2Z"/>
<path fill="#F08C8C" fill-rule="evenodd" d="M133.8 38.1 135.8 38.8 137.8 41.7 143.2 60.2 150.2 72.3 152.7 80.3 157 88.4 157.3 113.5 156.4 118.5 154.9 120.9 150.9 119.7 145.3 115.5 144.9 111.4 147.9 101.4 146.9 94.4 143.9 89.2 137.8 86.2 135 80.3 134 74.3 134.2 63.3 129.5 53.2 132 45.2 132.2 40.2Z"/>
<path fill="#FFAAB2" fill-rule="evenodd" d="M134.8 51.5 135.8 51.8 136.3 53.2 135.8 55.1 134 53.2ZM141.9 70.2 143.9 71.2 145.9 74.4 146.3 78.3 144.9 80.6 141.9 80.0 140 77.3 139.9 73.3ZM150.9 86.7 153.9 88.3 155.2 92.4 154.2 103.4 155.2 114.5 154.1 117.5 152.9 118.1 148.4 116.5 146.6 113.5 146.9 111.3 151.4 102.4 149.7 89.4Z"/>
<path fill="none" stroke="#168216" stroke-width="1.3" stroke-dasharray="2.5,1.5" d="M126.0 0.0L125.8 0.5L125.4 1.0L124.8 2.0L124.8 2.0L124.1 3.0L123.8 3.6L123.5 4.0L123.0 5.0L122.7 5.8L122.7 6.0L122.7 7.0L122.7 7.3L123.0 8.0L123.6 9.0L123.8 9.2L124.4 10.0L124.8 10.4L125.3 11.0L125.8 11.5L126.3 12.0L126.8 12.4L127.5 13.1L127.8 13.3L128.8 14.0L128.8 14.1L129.8 14.7L130.4 15.1L130.8 15.3L131.8 15.8L132.5 16.1L132.8 16.2L133.8 16.5L134.8 16.8L135.8 17.0L136.7 17.1L136.8 17.1L137.8 17.1L138.8 17.1L138.9 17.1L139.8 16.9L140.9 16.6L141.9 16.1L142.0 16.1L142.8 15.1L142.9 15.0L143.2 14.1L143.3 13.1L143.3 12.0L143.2 11.0L143.1 10.0L143.0 9.0L142.9 8.0L142.9 7.6L142.8 7.0L142.7 6.0L142.6 5.0L142.4 4.0L142.2 3.0L141.9 2.0L141.9 1.8L141.6 1.0L141.3 0.0"/>
<path fill="none" stroke="#168216" stroke-width="1.3" stroke-dasharray="2.5,1.5" d="M115.7 0.0L115.7 0.0L114.9 1.0L114.7 1.2L114.0 2.0L113.7 2.4L113.3 3.0L112.8 4.0L112.7 4.4L112.5 5.0L112.4 6.0L112.5 7.0L112.7 7.6L112.8 8.0L113.5 9.0L113.7 9.2L114.7 9.9L114.9 10.0L115.7 10.4L116.7 10.7L117.7 11.0L117.7 11.1L118.7 11.3L119.7 11.6L120.7 12.0L120.8 12.0L121.7 12.4L122.7 12.9L123.0 13.1L123.8 13.5L124.6 14.1L124.8 14.2L125.8 14.9L126.1 15.1L126.8 15.5L127.5 16.1L127.8 16.2L128.8 16.8L129.2 17.1L129.8 17.4L130.8 18.0L130.9 18.1L131.8 18.5L132.8 19.0L133.0 19.1L133.8 19.4L134.8 19.8L135.6 20.1L135.8 20.2L136.8 20.5L137.8 20.8L138.8 21.1L139.0 21.1L139.8 21.3L140.9 21.5L141.9 21.7L142.9 21.9L143.9 22.0L144.9 22.1L145.1 22.1L145.9 22.1L146.1 22.1L146.9 22.1L147.9 21.9L148.9 21.8L149.9 21.6L150.9 21.4L151.9 21.1L151.9 21.1L152.9 20.7L153.9 20.4L154.7 20.1L154.9 20.0L155.9 19.5L156.9 19.1L157.0 19.0L158.0 18.5L158.7 18.1L159.0 17.9L160.0 17.3L160.3 17.1L161.0 16.6L162.0 16.1L162.0 16.1L163.0 15.5L163.9 15.1L164.0 15.0L165.0 14.5M165.0 10.5L164.0 10.2L163.5 10.0L163.0 9.9L162.0 9.6L161.0 9.2L160.7 9.0L160.0 8.7L159.0 8.1L158.9 8.0L158.0 7.2L157.8 7.0L157.2 6.0L157.0 5.0L157.0 5.0L156.8 4.0L156.8 3.0L156.8 2.0L156.8 1.0L156.8 0.0"/>
<path fill="none" stroke="#168216" stroke-width="1.3" d="M30.9 0.0L31.2 0.3L31.6 1.0L32.2 2.0L32.2 2.1L32.6 3.0L33.0 4.0L33.2 5.0L33.2 5.0L33.4 6.0L33.5 7.0L33.6 8.0L33.6 9.0L33.6 10.0L33.5 11.0L33.4 12.0L33.2 13.1L33.2 13.2L33.0 14.1L32.7 15.1L32.3 16.1L32.2 16.3L31.7 17.1L31.2 17.7L30.8 18.1L30.2 18.6L29.2 19.1L29.2 19.1L28.2 19.4L27.2 19.5L26.2 19.5L25.2 19.4L24.1 19.2L23.7 19.1L23.1 18.9L22.1 18.6L21.1 18.2L21.0 18.1L20.1 17.7L19.1 17.1L19.0 17.1L18.1 16.6L17.3 16.1L17.1 15.9L16.1 15.2L15.8 15.1L15.1 14.5L14.5 14.1L14.1 13.7L13.3 13.1L13.1 12.8L12.3 12.0L12.1 11.8L11.5 11.0L11.1 10.4L10.8 10.0L10.3 9.0L10.1 8.2L10.0 8.0L9.8 7.0L9.6 6.0L9.6 5.0L9.6 4.0L9.7 3.0L9.9 2.0L10.1 1.0L10.1 1.0L10.3 0.0M92.8 0.0L93.5 1.0L93.6 1.0L94.6 2.0L94.6 2.0L95.6 2.7L96.1 3.0L96.6 3.3L97.6 3.9L97.9 4.0L98.6 4.4L99.5 5.0L99.6 5.1L100.6 5.8L100.8 6.0L101.6 6.8L101.8 7.0L102.6 8.0L102.6 8.1L103.1 9.0L103.6 9.9L103.7 10.0L104.2 11.0L104.6 11.9L104.7 12.0L105.4 13.1L105.6 13.4L106.2 14.1L106.6 14.4L107.5 15.1L107.7 15.2L108.7 15.7L109.5 16.1L109.7 16.1L110.7 16.5L111.7 16.7L112.7 17.0L113.1 17.1L113.7 17.2L114.7 17.4L115.7 17.7L116.7 17.9L117.3 18.1L117.7 18.2L118.7 18.5L119.7 18.9L120.1 19.1L120.7 19.3L121.7 19.8L122.2 20.1L122.7 20.4L123.8 21.0L123.9 21.1L124.8 21.6L125.6 22.1L125.8 22.2L126.8 22.8L127.3 23.1L127.8 23.3L128.8 23.8L129.3 24.1L129.8 24.3L130.8 24.7L131.8 25.1L131.8 25.1L132.8 25.5L133.8 25.8L134.7 26.1L134.8 26.2L135.8 26.5L136.8 26.8L137.6 27.1L137.8 27.2L138.8 27.5L139.8 27.9L140.6 28.1L140.9 28.2L141.9 28.5L142.9 28.8L143.9 29.1L144.0 29.1L144.9 29.3L145.9 29.4L146.9 29.4L147.9 29.3L148.9 29.2L149.3 29.1L149.9 29.0L150.9 28.7L151.9 28.5L152.9 28.1L153.0 28.1L153.9 27.8L154.9 27.4L155.8 27.1L155.9 27.1L157.0 26.7L158.0 26.3L158.5 26.1L159.0 25.9L160.0 25.6L161.0 25.2L161.2 25.1L162.0 24.8L163.0 24.5L164.0 24.3L164.8 24.1L165.0 24.1M0.0 98.3L0.0 98.4L0.0 98.5M0.0 116.6L0.2 116.5L1.0 116.3L2.0 116.0L3.0 115.7L4.0 115.5L4.1 115.5L5.0 115.4L6.0 115.3L7.0 115.4L7.6 115.5L8.0 115.6L9.1 115.9L10.1 116.4L10.2 116.5L11.1 117.3L11.3 117.5L11.9 118.5L12.1 119.3L12.1 119.5L12.1 120.5L12.1 120.9L12.0 121.5L11.6 122.5L11.2 123.5L11.1 123.9L10.7 124.5L10.3 125.5M0.0 125.5ZM28.5 125.5L28.2 125.3L27.4 124.5L27.2 124.2L26.6 123.5L26.2 122.8L26.0 122.5L25.5 121.5L25.2 120.6L25.1 120.5L24.9 119.5L24.9 118.5L25.2 117.5L25.2 117.5L25.6 116.5L26.2 115.7L26.3 115.5L27.2 114.5L27.2 114.5L28.2 113.6L28.3 113.5L29.2 112.8L29.7 112.4L30.2 112.1L31.2 111.6L31.9 111.4L32.2 111.4L33.2 111.2L34.2 111.3L34.6 111.4L35.2 111.6L36.2 112.2L36.5 112.4L37.2 113.4L37.3 113.5L37.7 114.5L37.8 115.5L37.7 116.5L37.3 117.5L37.2 117.7L36.8 118.5L36.2 119.4L36.2 119.5L35.4 120.5L35.2 120.8L34.6 121.5L34.2 122.0L33.8 122.5L33.2 123.2L32.9 123.5L32.2 124.3L32.0 124.5L31.2 125.3L30.8 125.5M113.4 125.5L112.7 124.9L112.1 124.5L111.7 124.3L110.7 123.6L110.4 123.5L109.7 123.0L109.0 122.5L108.7 122.3L107.8 121.5L107.7 121.4L106.8 120.5L106.6 120.3L105.9 119.5L105.6 119.1L105.1 118.5L104.6 118.0L104.1 117.5L103.6 117.0L103.0 116.5L102.6 116.2L101.6 115.5L101.6 115.5L100.6 114.9L99.8 114.5L99.6 114.3L98.6 113.7L98.2 113.5L97.6 113.0L97.0 112.4L96.6 112.1L96.0 111.4L95.6 110.9L95.3 110.4L94.6 109.5L94.5 109.4L93.7 108.4L93.6 108.3L92.6 107.4L92.6 107.4L91.6 106.7L91.1 106.4L90.5 106.1L89.5 105.7L88.9 105.4L88.5 105.3L87.5 105.0L86.5 104.8L85.5 104.6L84.6 104.4L84.5 104.4L83.5 104.3L82.5 104.3L81.5 104.3L80.5 104.3L79.5 104.4L79.1 104.4L78.5 104.5L77.5 104.6L76.5 104.7L75.5 104.8L74.5 105.0L73.4 105.1L72.4 105.3L71.5 105.4L71.4 105.4L70.4 105.6L69.4 105.9L68.4 106.1L67.4 106.4L67.4 106.4L66.4 106.7L65.4 107.0L64.4 107.2L63.5 107.4L63.4 107.4L62.4 107.6L61.4 107.6L60.4 107.4L60.3 107.4L59.4 107.2L58.4 106.9L57.3 106.5L57.1 106.4L56.3 106.1L55.3 105.6L54.9 105.4L54.3 105.2L53.3 104.7L52.6 104.4L52.3 104.3L51.3 103.9L50.3 103.5L50.1 103.4L49.3 103.1L48.3 102.7L47.7 102.4L47.3 102.2L46.3 101.7L45.7 101.4L45.3 101.2L44.3 100.6L43.9 100.4L43.3 100.0L42.4 99.4L42.3 99.3L41.2 98.6L40.9 98.4L40.2 97.9L39.6 97.4L39.2 97.0L38.6 96.4L38.2 95.9L37.9 95.4L37.6 94.4L37.5 93.4L37.7 92.4L38.2 91.4L38.2 91.3L39.2 90.4L39.3 90.4L40.2 90.0L41.2 89.7L42.3 89.6L43.3 89.6L44.3 89.7L45.3 89.9L46.3 90.2L47.2 90.4L47.3 90.4L48.3 90.6L49.3 90.6L50.3 90.4L50.4 90.4L51.3 89.9L51.8 89.4L52.3 88.4L52.3 88.3L52.5 87.3L52.6 86.3L52.5 85.3L52.4 84.3L52.3 83.9L52.2 83.3L52.0 82.3L51.7 81.3L51.5 80.3L51.3 79.9L51.1 79.3L50.8 78.3L50.4 77.3L50.3 77.0L50.0 76.3L49.6 75.3L49.3 74.4L49.2 74.3L48.8 73.3L48.5 72.3L48.3 71.8L48.1 71.3L47.8 70.3L47.6 69.3L47.4 68.3L47.3 67.5L47.2 67.3L47.1 66.3L46.9 65.3L46.6 64.3L46.3 63.3L46.3 63.2L45.7 62.2L45.3 61.6L45.0 61.2L44.3 60.5L43.9 60.2L43.3 59.6L42.9 59.2L42.3 58.6L42.0 58.2L41.3 57.2L41.2 57.0L41.0 56.2L40.9 55.2L41.1 54.2L41.2 53.9L41.6 53.2L42.3 52.2L42.3 52.2L43.1 51.2L43.3 51.1L44.0 50.2L44.3 49.9L44.8 49.2L45.3 48.5L45.4 48.2L46.0 47.2L46.3 46.5L46.4 46.2L46.8 45.2L47.1 44.2L47.3 43.3L47.3 43.2L47.5 42.2L47.6 41.2L47.6 40.2L47.6 39.2L47.5 38.2L47.3 37.4L47.2 37.1L46.8 36.1L46.3 35.4L46.1 35.1L45.3 34.2L45.2 34.1L44.3 33.4L43.9 33.1L43.3 32.7L42.3 32.2L42.2 32.1L41.2 31.6L40.2 31.1L40.2 31.1L39.2 30.7L38.2 30.3L37.9 30.1L37.2 29.8L36.2 29.5L35.2 29.1L35.2 29.1L34.2 28.7L33.2 28.3L32.6 28.1L32.2 27.9L31.2 27.2L31.1 27.1L30.7 26.1L30.8 25.1L31.1 24.1L31.2 23.8L31.5 23.1L32.2 22.2L32.3 22.1L33.2 21.3L33.5 21.1L34.2 20.7L35.2 20.2L35.5 20.1L36.2 19.8L37.2 19.5L38.2 19.1L38.3 19.1L39.2 18.8L40.2 18.4L40.9 18.1L41.2 17.9L42.3 17.5L43.0 17.1L43.3 16.9L44.3 16.4L44.7 16.1L45.3 15.7L46.2 15.1L46.3 15.0L47.3 14.2L47.5 14.1L48.3 13.4L48.6 13.1L49.3 12.3L49.6 12.0L50.3 11.1L50.4 11.0L51.0 10.0L51.3 9.5L51.5 9.0L51.9 8.0L52.1 7.0L52.2 6.0L52.3 5.0L52.2 4.0L52.1 3.0L51.9 2.0L51.7 1.0L51.6 0.0M23.1 30.1L24.1 29.9L25.2 29.9L26.2 30.1L26.2 30.1L27.0 31.1L27.2 32.0L27.2 32.1L27.2 33.1L27.2 33.2L27.1 34.1L26.9 35.1L26.6 36.1L26.3 37.1L26.2 37.4L25.8 38.2L25.3 39.2L25.2 39.3L24.5 40.2L24.1 40.5L23.3 41.2L23.1 41.3L22.1 41.8L21.1 42.1L20.7 42.2L20.1 42.2L19.6 42.2L19.1 42.1L18.1 41.8L17.1 41.4L16.7 41.2L16.1 40.7L15.5 40.2L15.1 39.6L14.7 39.2L14.3 38.2L14.3 37.1L14.6 36.1L15.1 35.3L15.2 35.1L16.1 34.2L16.1 34.1L17.1 33.3L17.3 33.1L18.1 32.6L18.7 32.1L19.1 31.9L20.1 31.3L20.4 31.1L21.1 30.8L22.1 30.4L23.0 30.1Z"/>
<path fill="none" stroke="#168216" stroke-width="1.3" d="M146.4 125.5L145.9 124.8L145.6 124.5L144.9 123.8L144.5 123.5L143.9 123.1L142.9 122.5L142.9 122.5L141.9 121.9L141.0 121.5L140.9 121.4L139.8 120.8L139.4 120.5L138.8 120.0L138.2 119.5L137.8 119.0L137.5 118.5L136.9 117.5L136.8 117.2L136.6 116.5L136.4 115.5L136.2 114.5L136.1 113.5L136.0 112.4L135.9 111.4L135.8 110.8L135.7 110.4L135.4 109.4L134.9 108.4L134.8 108.3L133.9 107.4L133.8 107.4L132.8 106.8L131.8 106.4L131.8 106.4L130.8 106.1L129.8 105.8L128.8 105.5L128.5 105.4L127.8 105.2L126.8 104.7L126.2 104.4L125.8 104.1L125.0 103.4L124.8 103.2L124.2 102.4L123.8 101.6L123.7 101.4L123.2 100.4L122.8 99.4L122.7 99.4L122.3 98.4L121.8 97.4L121.7 97.2L121.2 96.4L120.7 95.5L120.6 95.4L119.9 94.4L119.7 94.1L119.1 93.4L118.7 92.8L118.3 92.4L117.7 91.6L117.5 91.4L116.8 90.4L116.7 90.1L116.3 89.4L115.8 88.4L115.7 88.1L115.4 87.3L115.1 86.3L114.8 85.3L114.7 84.8L114.6 84.3L114.3 83.3L114.0 82.3L113.7 81.4L113.7 81.3L113.3 80.3L112.9 79.3L112.7 78.9L112.4 78.3L111.9 77.3L111.7 77.0L111.3 76.3L110.7 75.4L110.6 75.3L109.9 74.3L109.7 74.0L109.0 73.3L108.7 72.9L107.9 72.3L107.7 72.0L106.6 71.3L106.6 71.3L105.6 70.8L104.6 70.5L103.6 70.9L103.4 71.3L103.0 72.3L102.6 73.3L102.6 73.3L102.4 74.3L102.1 75.3L101.9 76.3L101.6 77.0L101.5 77.3L101.1 78.3L100.6 79.3L100.6 79.4L100.1 80.3L99.6 81.0L99.3 81.3L98.6 82.1L98.4 82.3L97.6 83.1L97.3 83.3L96.6 83.8L95.7 84.3L95.6 84.4L94.6 84.9L93.6 85.2L92.7 85.3L92.6 85.4L91.6 85.4L91.1 85.3L90.5 85.3L89.5 85.1L88.5 84.8L87.5 84.5L87.2 84.3L86.5 84.0L85.5 83.6L85.0 83.3L84.5 83.1L83.5 82.6L82.7 82.3L82.5 82.2L81.5 81.9L80.5 81.7L79.5 81.7L78.5 81.6L77.5 81.6L76.5 81.6L75.5 81.5L74.5 81.4L74.1 81.3L73.4 81.2L72.4 80.8L71.6 80.3L71.4 80.2L70.4 79.4L70.3 79.3L69.4 78.3L69.4 78.3L68.7 77.3L68.4 76.8L68.1 76.3L67.6 75.3L67.4 74.8L67.2 74.3L66.8 73.3L66.5 72.3L66.4 72.0L66.2 71.3L65.9 70.3L65.7 69.3L65.4 68.3L65.4 68.2L65.2 67.3L64.9 66.3L64.6 65.3L64.4 64.6L64.3 64.3L63.9 63.3L63.5 62.2L63.4 61.9L63.1 61.2L62.6 60.2L62.4 59.8L62.1 59.2L61.5 58.2L61.4 57.9L61.0 57.2L60.5 56.2L60.4 55.8L60.1 55.2L59.7 54.2L59.4 53.2L59.4 53.1L59.1 52.2L58.9 51.2L58.8 50.2L58.7 49.2L58.6 48.2L58.6 47.2L58.6 46.2L58.6 45.2L58.6 44.2L58.7 43.2L58.7 42.2L58.9 41.2L59.0 40.2L59.2 39.2L59.4 38.4L59.4 38.2L59.7 37.1L60.1 36.1L60.4 35.6L60.6 35.1L61.3 34.1L61.4 34.1L62.3 33.1L62.4 33.1L63.4 32.4L63.8 32.1L64.4 31.8L65.4 31.3L65.8 31.1L66.4 30.9L67.4 30.5L68.4 30.1L68.4 30.1L69.4 29.8L70.4 29.5L71.4 29.1L71.4 29.1L72.4 28.8L73.4 28.4L74.3 28.1L74.5 28.1L75.5 27.7L76.5 27.3L77.2 27.1L77.5 27.0L78.5 26.7L79.5 26.3L80.3 26.1L80.5 26.0L81.5 25.8L82.5 25.6L83.5 25.5L84.5 25.4L85.5 25.5L86.5 25.6L87.5 25.7L88.5 25.9L89.5 26.1L89.5 26.1L90.5 26.3L91.6 26.6L92.6 26.8L93.6 27.1L93.7 27.1L94.6 27.3L95.6 27.5L96.6 27.8L97.6 28.0L98.3 28.1L98.6 28.2L99.6 28.4L100.6 28.5L101.6 28.7L102.6 28.8L103.6 28.8L104.6 28.9L105.6 28.9L106.6 28.9L107.7 28.9L108.7 28.8L109.7 28.8L110.7 28.8L111.7 28.7L112.7 28.7L113.7 28.7L114.7 28.7L115.7 28.8L116.7 28.8L117.7 28.9L118.7 29.0L119.7 29.0L120.7 29.0L121.7 29.0L122.7 29.0L123.8 29.0L124.8 29.0L125.8 29.0L126.8 29.0L127.8 29.0L128.8 29.0L129.8 29.0L130.7 29.1L130.8 29.1L131.8 29.2L132.8 29.4L133.8 29.6L134.8 29.8L135.8 30.1L136.0 30.1L136.8 30.4L137.8 30.8L138.7 31.1L138.8 31.2L139.8 31.7L140.8 32.1L140.9 32.1L141.9 32.6L142.9 33.1L142.9 33.1L143.9 33.6L144.9 34.0L145.4 34.1L145.9 34.3L146.9 34.5L147.9 34.6L148.9 34.6L149.9 34.6L150.9 34.4L151.9 34.2L152.3 34.1L152.9 34.0L153.9 33.7L154.9 33.5L155.9 33.2L156.2 33.1L157.0 32.9L158.0 32.7L159.0 32.5L160.0 32.2L160.2 32.1L161.0 32.0L162.0 31.7L163.0 31.5L164.0 31.3L164.8 31.1L165.0 31.1"/>
<path fill="none" stroke="#168216" stroke-width="1.3" d="M150.3 125.5L149.9 124.8L149.8 124.5L149.1 123.5L148.9 123.3L148.1 122.5L147.9 122.3L146.9 121.5L146.9 121.5L145.9 120.7L145.5 120.5L144.9 120.1L144.0 119.5L143.9 119.4L142.9 118.6L142.7 118.5L141.9 117.7L141.7 117.5L141.0 116.5L140.9 116.1L140.6 115.5L140.4 114.5L140.3 113.5L140.3 112.4L140.3 111.4L140.4 110.4L140.4 109.4L140.4 108.4L140.4 107.4L140.2 106.4L139.8 105.6L139.8 105.4L139.0 104.4L138.8 104.2L137.8 103.5L137.8 103.4L136.8 102.9L135.8 102.5L135.6 102.4L134.8 102.1L133.8 101.7L133.2 101.4L132.8 101.2L131.8 100.6L131.5 100.4L130.8 99.8L130.3 99.4L129.8 98.7L129.6 98.4L129.0 97.4L128.8 96.8L128.6 96.4L128.3 95.4L128.0 94.4L127.8 93.4L127.8 93.2L127.6 92.4L127.4 91.4L127.3 90.4L127.1 89.4L126.9 88.4L126.8 87.6L126.7 87.3L126.5 86.3L126.3 85.3L126.1 84.3L125.8 83.3L125.8 83.0L125.6 82.3L125.3 81.3L124.9 80.3L124.8 79.9L124.5 79.3L124.1 78.3L123.7 77.5L123.7 77.3L123.2 76.3L122.9 75.3L122.7 75.0L122.5 74.3L122.3 73.3L122.2 72.3L122.2 71.3L122.4 70.3L122.7 69.4L122.8 69.3L123.2 68.3L123.8 67.3L123.8 67.3L124.2 66.3L124.6 65.3L124.8 64.4L124.8 64.3L124.8 63.4L124.8 63.3L124.5 62.2L123.9 61.2L123.8 61.0L123.0 60.2L122.7 59.9L121.9 59.2L121.7 59.1L120.7 58.3L120.7 58.2L119.7 57.4L119.5 57.2L118.7 56.4L118.5 56.2L117.8 55.2L117.7 54.9L117.4 54.2L117.2 53.2L117.2 52.2L117.4 51.2L117.7 50.5L117.9 50.2L118.7 49.2L118.8 49.2L119.7 48.4L120.0 48.2L120.7 47.7L121.5 47.2L121.7 47.0L122.7 46.2L122.7 46.1L123.5 45.2L123.8 44.8L124.0 44.2L124.4 43.2L124.6 42.2L124.8 41.4L124.8 41.2L124.9 40.2L125.1 39.2L125.3 38.2L125.6 37.1L125.8 36.9L126.1 36.1L126.8 35.2L126.8 35.1L127.8 34.3L127.9 34.1L128.8 33.6L129.8 33.2L130.0 33.1L130.8 32.9L131.8 32.8L132.8 32.7L133.8 32.8L134.8 33.0L135.3 33.1L135.8 33.3L136.8 33.7L137.8 34.1L137.8 34.2L138.8 34.8L139.4 35.1L139.8 35.5L140.7 36.1L140.9 36.3L141.8 37.1L141.9 37.2L142.9 38.1L142.9 38.2L143.9 39.1L143.9 39.2L144.9 40.1L144.9 40.2L145.9 41.1L146.0 41.2L146.9 42.1L146.9 42.2L147.7 43.2L147.9 43.5L148.4 44.2L148.8 45.2L148.9 45.3L149.2 46.2L149.6 47.2L149.8 48.2L149.9 48.4L150.1 49.2L150.3 50.2L150.6 51.2L150.8 52.2L150.9 52.6L151.1 53.2L151.3 54.2L151.6 55.2L151.9 56.2L151.9 56.3L152.2 57.2L152.6 58.2L152.9 59.2L152.9 59.2L153.4 60.2L153.8 61.2L153.9 61.4L154.4 62.2L154.9 63.1L155.0 63.3L155.7 64.3L155.9 64.6L156.5 65.3L157.0 65.9L157.3 66.3L158.0 67.2L158.0 67.3L158.7 68.3L159.0 68.6L159.4 69.3L159.9 70.3L160.0 70.3L160.4 71.3L160.9 72.3L161.0 72.7L161.2 73.3L161.5 74.3L161.7 75.3L162.0 76.3L162.0 76.3L162.2 77.3L162.4 78.3L162.7 79.3L162.9 80.3L163.0 80.8L163.1 81.3L163.4 82.3L163.6 83.3L163.8 84.3L163.9 85.3L163.9 86.3L163.9 87.3L163.9 88.4L163.8 89.4L163.6 90.4L163.4 91.4L163.2 92.4L163.0 93.2L163.0 93.4L162.8 94.4L162.6 95.4L162.5 96.4L162.3 97.4L162.3 98.4L162.3 99.4L162.4 100.4L162.5 101.4L162.6 102.4L162.8 103.4L163.0 104.3L163.0 104.4L163.2 105.4L163.5 106.4L163.7 107.4L163.8 108.4L163.9 109.4L163.9 110.4L163.8 111.4L163.7 112.4L163.5 113.5L163.3 114.5L163.0 115.5L163.0 115.6L162.8 116.5L162.5 117.5L162.3 118.5L162.0 119.5L162.0 119.6L161.8 120.5L161.6 121.5L161.4 122.5L161.2 123.5L161.0 124.5L161.0 125.0L160.9 125.5M71.4 42.0L72.4 41.7L73.4 41.6L74.5 41.7L75.5 41.8L76.5 42.1L76.5 42.2L77.5 42.6L78.4 43.2L78.5 43.2L79.5 44.1L79.6 44.2L80.5 45.1L80.6 45.2L81.5 46.1L81.6 46.2L82.5 47.1L82.6 47.2L83.5 48.1L83.6 48.2L84.5 49.0L84.7 49.2L85.5 50.0L85.7 50.2L86.4 51.2L86.5 51.8L86.6 52.2L86.5 52.4L86.2 53.2L85.5 53.8L85.1 54.2L84.5 54.6L83.5 55.2L83.5 55.2L82.5 55.7L81.7 56.2L81.5 56.3L80.5 56.9L79.8 57.2L79.5 57.4L78.5 57.9L77.8 58.2L77.5 58.4L76.5 58.7L75.5 59.0L74.5 59.0L73.4 58.7L72.8 58.2L72.4 58.0L71.7 57.2L71.4 57.0L70.9 56.2L70.4 55.6L70.2 55.2L69.6 54.2L69.4 54.0L69.0 53.2L68.6 52.2L68.4 51.7L68.2 51.2L68.0 50.2L67.8 49.2L67.7 48.2L67.7 47.2L67.8 46.2L68.1 45.2L68.4 44.5L68.6 44.2L69.4 43.2L69.4 43.2L70.4 42.4L71.0 42.2Z"/>
<path fill="none" stroke="#168216" stroke-width="1.3" d="M133.8 38.1L134.0 38.2L134.8 38.2L135.8 38.8L136.2 39.2L136.8 39.9L137.0 40.2L137.6 41.2L137.8 41.7L138.0 42.2L138.4 43.2L138.7 44.2L138.8 44.5L139.1 45.2L139.4 46.2L139.8 47.2L139.8 47.5L140.1 48.2L140.4 49.2L140.6 50.2L140.9 51.1L140.9 51.2L141.1 52.2L141.3 53.2L141.5 54.2L141.7 55.2L141.9 55.9L141.9 56.2L142.2 57.2L142.5 58.2L142.8 59.2L142.9 59.3L143.2 60.2L143.6 61.2L143.9 61.7L144.1 62.2L144.6 63.3L144.9 63.7L145.2 64.3L145.8 65.3L145.9 65.4L146.4 66.3L146.9 67.0L147.1 67.3L147.7 68.3L147.9 68.5L148.4 69.3L148.9 70.1L149.0 70.3L149.6 71.3L149.9 71.8L150.2 72.3L150.6 73.3L150.9 74.2L150.9 74.3L151.2 75.3L151.5 76.3L151.8 77.3L151.9 77.9L152.0 78.3L152.3 79.3L152.7 80.3L152.9 80.7L153.2 81.3L153.8 82.3L153.9 82.5L154.5 83.3L154.9 84.0L155.1 84.3L155.7 85.3L155.9 85.7L156.2 86.3L156.7 87.3L157.0 88.1L157.0 88.4L157.3 89.4L157.4 90.4L157.5 91.4L157.5 92.4L157.5 93.4L157.4 94.4L157.3 95.4L157.3 96.4L157.2 97.4L157.1 98.4L157.1 99.4L157.0 100.4L157.0 101.4L157.0 102.4L157.0 103.4L157.0 104.4L157.1 105.4L157.1 106.4L157.2 107.4L157.2 108.4L157.3 109.4L157.3 110.4L157.3 111.4L157.3 112.4L157.3 113.5L157.2 114.5L157.1 115.5L157.0 116.4L156.9 116.5L156.7 117.5L156.4 118.5L156.0 119.5L155.9 119.6L155.3 120.5L154.9 120.9L153.9 121.1L152.9 120.8L152.3 120.5L151.9 120.3L150.9 119.7L150.5 119.5L149.9 119.2L148.9 118.6L148.7 118.5L147.9 117.9L147.2 117.5L146.9 117.2L146.0 116.5L145.9 116.3L145.3 115.5L144.9 114.6L144.8 114.5L144.7 113.5L144.7 112.4L144.9 111.4L144.9 111.3L145.2 110.4L145.5 109.4L145.9 108.6L146.0 108.4L146.4 107.4L146.8 106.4L146.9 106.1L147.1 105.4L147.4 104.4L147.6 103.4L147.8 102.4L147.9 101.4L147.9 100.5L147.9 100.4L147.9 100.3L147.9 99.4L147.8 98.4L147.6 97.4L147.4 96.4L147.2 95.4L146.9 94.4L146.9 94.4L146.5 93.4L146.1 92.4L145.9 91.9L145.6 91.4L145.0 90.4L144.9 90.2L144.0 89.4L143.9 89.2L142.9 88.6L142.3 88.4L141.9 88.2L140.9 87.9L139.8 87.5L139.5 87.3L138.8 87.0L138.0 86.3L137.8 86.2L137.1 85.3L136.8 85.0L136.5 84.3L136.0 83.3L135.8 83.0L135.6 82.3L135.2 81.3L135.0 80.3L134.8 79.8L134.7 79.3L134.5 78.3L134.4 77.3L134.2 76.3L134.1 75.3L134.0 74.3L134.0 73.3L134.0 72.3L134.1 71.3L134.2 70.3L134.3 69.3L134.4 68.3L134.5 67.3L134.5 66.3L134.5 65.3L134.4 64.3L134.2 63.3L133.9 62.2L133.8 62.0L133.5 61.2L133.0 60.2L132.8 60.0L132.4 59.2L131.8 58.3L131.7 58.2L131.1 57.2L130.8 56.7L130.5 56.2L130.0 55.2L129.8 54.7L129.6 54.2L129.5 53.2L129.6 52.2L129.8 51.4L129.8 51.2L130.2 50.2L130.6 49.2L130.8 48.8L131.1 48.2L131.5 47.2L131.7 46.2L131.8 45.9L132.0 45.2L132.1 44.2L132.0 43.2L132.0 42.2L132.0 41.2L132.2 40.2L132.5 39.2L132.8 38.8L133.8 38.2Z"/>
</g></svg>
<line x1="118.4" y1="558.7" x2="118.4" y2="684.2" stroke="#000" stroke-width="1" stroke-dasharray="3,2"/>
<rect x="56.5" y="558.7" width="165" height="125.5" fill="none" stroke="#000" stroke-width="1.4"/>
<line x1="56.5" y1="684.2" x2="62.5" y2="684.2" stroke="#000" stroke-width="1"/>
<line x1="56.5" y1="675.2" x2="59.5" y2="675.2" stroke="#000" stroke-width="1"/>
<line x1="56.5" y1="666.3" x2="62.5" y2="666.3" stroke="#000" stroke-width="1"/>
<line x1="56.5" y1="657.3" x2="59.5" y2="657.3" stroke="#000" stroke-width="1"/>
<line x1="56.5" y1="648.3" x2="62.5" y2="648.3" stroke="#000" stroke-width="1"/>
<line x1="56.5" y1="639.4" x2="59.5" y2="639.4" stroke="#000" stroke-width="1"/>
<line x1="56.5" y1="630.4" x2="62.5" y2="630.4" stroke="#000" stroke-width="1"/>
<line x1="56.5" y1="621.5" x2="59.5" y2="621.5" stroke="#000" stroke-width="1"/>
<line x1="56.5" y1="612.5" x2="62.5" y2="612.5" stroke="#000" stroke-width="1"/>
<line x1="56.5" y1="603.5" x2="59.5" y2="603.5" stroke="#000" stroke-width="1"/>
<line x1="56.5" y1="594.6" x2="62.5" y2="594.6" stroke="#000" stroke-width="1"/>
<line x1="56.5" y1="585.6" x2="59.5" y2="585.6" stroke="#000" stroke-width="1"/>
<line x1="56.5" y1="576.6" x2="62.5" y2="576.6" stroke="#000" stroke-width="1"/>
<line x1="56.5" y1="567.7" x2="59.5" y2="567.7" stroke="#000" stroke-width="1"/>
<line x1="56.5" y1="558.7" x2="62.5" y2="558.7" stroke="#000" stroke-width="1"/>
<line x1="97.8" y1="684.2" x2="97.8" y2="679.2" stroke="#000" stroke-width="1"/>
<line x1="139.0" y1="684.2" x2="139.0" y2="679.2" stroke="#000" stroke-width="1"/>
<line x1="180.2" y1="684.2" x2="180.2" y2="679.2" stroke="#000" stroke-width="1"/>
<svg x="287.5" y="12.9" width="165" height="125.5" overflow="hidden"><g>
<rect width="165" height="125.5" fill="#87D2F0"/>
<path fill="#AADCF5" fill-rule="evenodd" d="M0 0.0 10.6 0.0 7 3.1 5.1 8.0 4.9 25.1 6.6 33.1 8.5 35.1 11.1 35.9 14.1 34.9 18.1 31.0 20.5 27.1 21 24.1 20.3 8.0 17.1 3.6 11.4 0.0 165 0.0 165 125.5 0 125.5Z"/>
<path fill="#C8E6F5" fill-rule="evenodd" d="M26.5 0.0 165 0.0 165 125.5 18.2 125.5 18.4 109.4 16.7 97.4 16.4 76.3 17.8 65.3 15.4 58.2 15 54.2 17.1 50.7 25.2 47.9 26.8 45.2 26.3 36.1 27.8 26.1 27.8 11.0Z"/>
<path fill="#FFFAB4" fill-rule="evenodd" d="M34.4 0.0 161.2 0.0 165 4.9 165 125.5 77.1 125.5 73.4 121.3 68.4 120.0 56.3 122.1 53.4 123.5 51.6 125.5 26.3 125.5 26.1 107.4 28.4 104.4 35.9 100.4 37.6 95.4 35.1 83.3 35.4 72.3 31 63.3 34.2 54.4 34.8 50.2Z"/>
<path fill="#FFF078" fill-rule="evenodd" d="M41.2 0.0 154.7 0.0 165 18.0 162.6 24.1 165 26.8 165 44.9 163.5 49.2 165 53.8 165 107.6 162 110.6 160.1 114.5 159 125.5 103.2 125.5 93.6 116.9 90.5 116.1 84.5 116.9 81.5 116.0 70.4 106.5 66.4 106.0 56.3 108.9 52.3 108.0 48.9 105.4 45.8 100.4 46.1 90.4 41.4 81.3 41.2 71.3 38 61.2 41.5 42.2Z"/>
<path fill="#FFDC32" fill-rule="evenodd" d="M51.6 0.0 139.4 0.0 140.9 6.4 147.8 11.0 149.1 13.1 149.7 27.1 155.8 39.2 154.5 45.2 149.2 54.2 151 63.3 141.1 70.3 139 74.3 138.1 78.3 139 83.3 145.1 91.4 143.9 115.5 148.9 121.7 150.3 125.5 128.6 125.5 128.1 114.5 126.5 110.4 123.8 107.6 117.7 106.3 109.7 109.0 106.6 109.1 96.6 103.9 83.5 102.1 79.8 99.4 72.4 89.8 69.4 88.7 63.4 89.7 60.4 89.2 57.3 87.0 50.4 79.3 44.6 63.3 43.6 57.2 46.5 46.2 46.8 35.1 49.1 25.1 48.3 9.0Z"/>
<path fill="#FFC828" fill-rule="evenodd" d="M61.9 0.0 113.4 0.0 111.7 5.0 112.7 8.3 114.7 9.4 124.8 9.2 128.8 11.8 133.7 17.1 134.1 19.1 132.5 23.1 132.5 25.1 142.8 33.1 145.2 38.2 145.6 42.2 144.9 44.2 139.3 50.2 139.6 62.2 135.2 69.3 127.8 84.4 120.7 92.5 116.7 94.2 112.7 94.5 108.4 93.4 100.6 88.7 91.6 89.8 88.5 89.3 84.5 86.8 75.5 77.6 57.3 69.9 53.1 66.3 51.2 60.2 51.3 39.2 53.9 25.1 54.1 11.0 56.3 5.5Z"/>
<path fill="#FFB414" fill-rule="evenodd" d="M61.4 9.5 63.4 8.1 66.4 7.6 74.5 9.9 81.6 14.1 88.5 21.2 100.6 25.2 108.7 30.8 124.8 31.6 130.3 33.1 133.5 35.1 134 38.2 129.1 45.2 129.2 56.2 123.2 64.3 124 70.3 123.3 72.3 120.7 73.3 110.7 71.5 84.5 72.1 67.4 65.8 61.3 62.2 58.9 57.2 56.3 46.2 55.9 40.2 59.5 14.1Z"/>
<path fill="#FFA00A" fill-rule="evenodd" d="M69.4 17.5 73.4 18.5 76.5 21.1 78.4 25.1 80.4 33.1 82.5 35.8 86.5 36.8 89.4 34.1 91.6 33.5 93.1 35.1 92.5 36.1 87.8 38.2 85.3 46.2 82.5 49.8 77.5 52.5 72.4 53.8 68.4 52.9 65.4 50.8 62.7 47.2 61.7 43.2 62.4 24.8 65.4 19.6Z"/>
</g></svg>
<polyline points="332.1,12.4 330.9,53.8 323.6,75.8 318.7,102.6 313.8,107.5 300.4,119.7 296.8,112.4 293.1,139.4" fill="none" stroke="#168216" stroke-width="1.3"/>
<polygon points="291.9,17.3 301.6,13.6 316.3,23.4 313.8,44.1 301.6,46.5 294.3,41.7 291.9,27.0" fill="none" stroke="#168216" stroke-width="1.3" stroke-dasharray="2.5,1.5"/>
<polyline points="349.2,35.6 355.3,30.7 367.4,29.5 382.1,26.5 396.7,30.7 413.8,35.6 428.4,44.1 440.6,47.7 447.9,45.3 451.6,51.4 447.9,58.7 435.7,64.8 423.5,75.8 417.4,92.8 417.4,112.4 408.9,118.4 396.7,117.2 382.1,109.9 377.2,106.3 367.4,92.8 360.1,85.5 347.9,77.0 344.3,61.2 345.5,44.1 349.2,35.6" fill="none" stroke="#168216" stroke-width="1.3"/>
<line x1="349.4" y1="12.9" x2="349.4" y2="138.4" stroke="#000" stroke-width="1" stroke-dasharray="3,2"/>
<rect x="287.5" y="12.9" width="165" height="125.5" fill="none" stroke="#000" stroke-width="1.4"/>
<line x1="287.5" y1="138.4" x2="293.5" y2="138.4" stroke="#000" stroke-width="1"/>
<line x1="287.5" y1="129.4" x2="290.5" y2="129.4" stroke="#000" stroke-width="1"/>
<line x1="287.5" y1="120.5" x2="293.5" y2="120.5" stroke="#000" stroke-width="1"/>
<line x1="287.5" y1="111.5" x2="290.5" y2="111.5" stroke="#000" stroke-width="1"/>
<line x1="287.5" y1="102.5" x2="293.5" y2="102.5" stroke="#000" stroke-width="1"/>
<line x1="287.5" y1="93.6" x2="290.5" y2="93.6" stroke="#000" stroke-width="1"/>
<line x1="287.5" y1="84.6" x2="293.5" y2="84.6" stroke="#000" stroke-width="1"/>
<line x1="287.5" y1="75.7" x2="290.5" y2="75.7" stroke="#000" stroke-width="1"/>
<line x1="287.5" y1="66.7" x2="293.5" y2="66.7" stroke="#000" stroke-width="1"/>
<line x1="287.5" y1="57.7" x2="290.5" y2="57.7" stroke="#000" stroke-width="1"/>
<line x1="287.5" y1="48.8" x2="293.5" y2="48.8" stroke="#000" stroke-width="1"/>
<line x1="287.5" y1="39.8" x2="290.5" y2="39.8" stroke="#000" stroke-width="1"/>
<line x1="287.5" y1="30.8" x2="293.5" y2="30.8" stroke="#000" stroke-width="1"/>
<line x1="287.5" y1="21.9" x2="290.5" y2="21.9" stroke="#000" stroke-width="1"/>
<line x1="287.5" y1="12.9" x2="293.5" y2="12.9" stroke="#000" stroke-width="1"/>
<line x1="328.8" y1="138.4" x2="328.8" y2="133.4" stroke="#000" stroke-width="1"/>
<line x1="370.0" y1="138.4" x2="370.0" y2="133.4" stroke="#000" stroke-width="1"/>
<line x1="411.2" y1="138.4" x2="411.2" y2="133.4" stroke="#000" stroke-width="1"/>
<svg x="287.5" y="195.2" width="165" height="125.5" overflow="hidden"><g>
<rect width="165" height="125.5" fill="#87D2F0"/>
<path fill="#AADCF5" fill-rule="evenodd" d="M0 0.0 165 0.0 165 125.5 0 125.5ZM11.1 8.9 8 10.0 6.4 12.0 4.6 21.1 6 32.1 8 35.0 10.1 35.8 13.1 34.9 18.3 30.1 21 26.1 22 22.1 20.7 18.1 14.1 10.1ZM21.1 53.7 16.5 56.2 14.7 61.2 16.1 65.8 20.1 67.8 24.6 66.3 26.5 62.2 25.2 56.0 23.1 54.1Z"/>
<path fill="#C8E6F5" fill-rule="evenodd" d="M26.8 0.0 165 0.0 165 125.5 16.4 125.5 15.9 117.5 16.9 109.4 14.4 99.4 14.9 93.4 22.1 76.9 29.5 69.3 30.9 63.3 31.2 20.1 30.2 15.4 26.6 8.0Z"/>
<path fill="#FFFAB4" fill-rule="evenodd" d="M34.6 0.0 130.5 0.0 133.8 2.7 138.8 4.1 154.9 6.3 165 6.0 165 125.5 82.5 125.5 79.5 124.8 77.3 125.5 24.6 125.5 26.6 115.5 21 100.4 20.7 97.4 21.9 94.4 25.7 89.4 27.6 80.3 32.7 73.3 34.1 68.3 35.9 34.1 35.4 19.1 33.7 8.0Z"/>
<path fill="#FFF078" fill-rule="evenodd" d="M41.2 0.0 123.8 0.0 126.1 3.0 129.8 5.4 144.6 9.0 158 13.5 165 17.9 165 125.5 88 125.5 84.1 121.5 76.5 120.1 70.5 121.5 66.6 125.5 30.9 125.5 33.7 115.5 29.8 102.4 30.5 99.4 35.5 91.4 36.6 87.3 36.3 81.3 37.5 70.3 38 47.2 39.6 34.1 38.6 10.0Z"/>
<path fill="#FFDC32" fill-rule="evenodd" d="M47.6 0.0 103.1 0.0 107 3.0 115.7 5.4 124.8 9.3 138.9 14.1 149.9 21.8 159.8 32.1 165 35.9 165 125.5 92.8 125.5 91.8 122.5 89.2 119.5 78.5 114.6 72 107.4 66.4 105.4 63.4 106.0 62 107.4 62.1 115.5 58.5 125.5 35.7 125.5 41.3 107.4 41.3 98.4 45.6 91.4 46.3 88.6 45.8 84.3 41.2 71.3 41.1 48.2 43.2 34.1 44 10.0Z"/>
<path fill="#FFC828" fill-rule="evenodd" d="M55.3 3.1 61.9 0.0 92.8 0.0 101.6 7.9 108.7 12.3 113.7 18.1 116.7 18.6 123.8 17.9 127.8 19.4 134.8 27.6 143.9 35.5 153.2 42.2 154.8 45.2 154.9 61.2 153.5 67.3 153.8 70.3 165 80.7 165 107.6 159.4 118.5 154.7 125.5 113.4 125.5 72.4 89.8 67.4 88.3 61.7 89.4 63.8 85.3 62.4 81.1 60.4 80.4 54.3 81.9 49.3 78.5 46.5 74.3 45.2 70.3 46.1 56.2 44.7 45.2 47.2 35.1 47.3 26.1 51.8 17.1 51.8 8.0ZM51.3 116.3 52.2 119.5 51.5 125.5 41.2 125.5 43.1 120.5 45.3 117.3 48.3 115.5Z"/>
<path fill="#FFB414" fill-rule="evenodd" d="M62.4 10.6 68.4 9.8 82 12.0 83.2 13.1 84.8 19.1 88.5 21.7 92.6 21.8 98.6 19.3 101.6 19.5 108.6 26.1 112.7 28.6 115.7 29.2 121.7 28.6 123.8 29.3 142.9 46.1 143.5 49.2 143 72.3 145.3 76.3 153 81.3 153.4 90.4 157 97.4 158 102.4 157.5 107.4 155.3 113.5 147.5 125.5 126.2 125.5 122.7 121.1 114.5 115.5 99.6 101.8 84.3 89.4 78.9 83.3 71.4 78.8 62.4 70.1 59.4 68.7 54.3 69.9 53.2 69.3 52.7 67.3 54 61.2 53.8 57.2 49.8 48.2 49.3 44.2 52.6 36.1 52.5 27.1 58.4 19.1 60.5 13.1Z"/>
<path fill="#FFA00A" fill-rule="evenodd" d="M68.4 20.6 71.4 19.9 73.4 21.1 85.5 37.2 97.9 39.2 100 45.2 101.6 47.2 105.6 48.1 116.9 47.2 118.5 48.2 119.7 53.2 121.7 56.0 124.8 57.1 129.8 57.1 131.4 58.2 132.2 69.3 131.2 80.3 133.6 83.3 140.9 87.6 142.8 91.4 140.9 100.4 142.2 111.4 140.9 115.0 136.8 115.3 131.8 113.2 115.7 98.2 107.7 92.3 105.5 88.4 107 82.3 106.6 80.2 104.6 78.2 98.6 75.8 93.6 69.0 90.5 68.0 86.5 68.1 76.5 71.5 73.4 70.8 71.4 69.1 63.8 52.2 65.1 45.2 63.2 36.1 63.2 29.1 65.4 24.1Z"/>
</g></svg>
<polyline points="330.4,194.7 329.7,209.3 332.1,224.0 331.6,267.8 323.6,280.0 316.3,287.3 306.5,321.7" fill="none" stroke="#168216" stroke-width="1.3"/>
<polygon points="299.2,200.8 316.3,208.1 317.5,233.7 306.5,238.6 298.0,236.1 298.0,214.2" fill="none" stroke="#168216" stroke-width="1.3" stroke-dasharray="2.5,1.5"/>
<polyline points="404.0,195.9 413.8,203.2 433.3,206.9 454.0,204.5" fill="none" stroke="#168216" stroke-width="1.3"/>
<polyline points="372.3,321.7 374.8,316.6 382.1,306.8 387.0,297.1 384.5,287.3 367.4,277.6 355.3,267.8 350.4,248.3 351.6,228.8 355.3,226.4 372.3,225.2 389.4,223.5 408.9,223.5 423.5,231.3 440.6,239.8 444.2,247.1 443.0,253.2 430.8,263.0 419.9,273.9 418.6,282.5 430.8,287.3 445.5,292.2 454.0,297.1" fill="none" stroke="#168216" stroke-width="1.3"/>
<line x1="349.4" y1="195.2" x2="349.4" y2="320.7" stroke="#000" stroke-width="1" stroke-dasharray="3,2"/>
<rect x="287.5" y="195.2" width="165" height="125.5" fill="none" stroke="#000" stroke-width="1.4"/>
<line x1="287.5" y1="320.7" x2="293.5" y2="320.7" stroke="#000" stroke-width="1"/>
<line x1="287.5" y1="311.7" x2="290.5" y2="311.7" stroke="#000" stroke-width="1"/>
<line x1="287.5" y1="302.8" x2="293.5" y2="302.8" stroke="#000" stroke-width="1"/>
<line x1="287.5" y1="293.8" x2="290.5" y2="293.8" stroke="#000" stroke-width="1"/>
<line x1="287.5" y1="284.8" x2="293.5" y2="284.8" stroke="#000" stroke-width="1"/>
<line x1="287.5" y1="275.9" x2="290.5" y2="275.9" stroke="#000" stroke-width="1"/>
<line x1="287.5" y1="266.9" x2="293.5" y2="266.9" stroke="#000" stroke-width="1"/>
<line x1="287.5" y1="257.9" x2="290.5" y2="257.9" stroke="#000" stroke-width="1"/>
<line x1="287.5" y1="249.0" x2="293.5" y2="249.0" stroke="#000" stroke-width="1"/>
<line x1="287.5" y1="240.0" x2="290.5" y2="240.0" stroke="#000" stroke-width="1"/>
<line x1="287.5" y1="231.1" x2="293.5" y2="231.1" stroke="#000" stroke-width="1"/>
<line x1="287.5" y1="222.1" x2="290.5" y2="222.1" stroke="#000" stroke-width="1"/>
<line x1="287.5" y1="213.1" x2="293.5" y2="213.1" stroke="#000" stroke-width="1"/>
<line x1="287.5" y1="204.2" x2="290.5" y2="204.2" stroke="#000" stroke-width="1"/>
<line x1="287.5" y1="195.2" x2="293.5" y2="195.2" stroke="#000" stroke-width="1"/>
<line x1="328.8" y1="320.7" x2="328.8" y2="315.7" stroke="#000" stroke-width="1"/>
<line x1="370.0" y1="320.7" x2="370.0" y2="315.7" stroke="#000" stroke-width="1"/>
<line x1="411.2" y1="320.7" x2="411.2" y2="315.7" stroke="#000" stroke-width="1"/>
<svg x="287.5" y="376.8" width="165" height="125.5" overflow="hidden"><g>
<rect width="165" height="125.5" fill="#AADCF5"/>
<path fill="#C8E6F5" fill-rule="evenodd" d="M11.9 0.0 165 0.0 165 125.5 5.7 125.5 5.2 29.1 6.3 25.1 12.2 17.1Z"/>
<path fill="#FFFAB4" fill-rule="evenodd" d="M17.3 0.0 165 0.0 165 118.9 161.2 121.5 159.3 125.5 12.2 125.5 12.7 39.2 11.5 30.1 12.3 27.1 16.1 21.9 17.3 18.1Z"/>
<path fill="#FFF078" fill-rule="evenodd" d="M30.9 0.0 154.7 0.0 159.1 5.0 165 9.0 165 114.2 161 115.2 158 117.4 155.9 120.9 154.7 125.5 34.7 125.5 34.2 115.5 30.3 104.4 31.1 95.4Z"/>
<path fill="#FFDC32" fill-rule="evenodd" d="M38 0.0 134.1 0.0 150.9 13.7 156.2 20.1 160.9 30.1 165 35.9 164.2 43.2 165 44.7 165 62.8 163.4 66.3 165 71.7 165 107.5 159 105.6 154.9 107.3 152.8 110.4 148.9 120.7 144.9 125.4 142.9 125.0 136.1 119.5 132.8 118.7 129.9 120.5 130 125.5 39.3 125.5 38.4 106.4 38.7 11.0Z"/>
<path fill="#FFC828" fill-rule="evenodd" d="M46.2 0.0 123.8 0.0 124.8 4.0 126.5 6.0 135.8 9.8 142.2 15.1 147.7 25.1 152.9 31.4 154.9 38.2 154.4 77.3 155.2 88.4 148.8 100.4 142 110.4 138.8 111.8 126.8 113.6 121.4 116.5 120.4 119.5 121.8 125.5 43.2 125.5 43.8 111.4 43.6 10.0 44.3 5.0Z"/>
<path fill="#FFB414" fill-rule="evenodd" d="M55.1 0.0 108.1 0.0 120.7 10.7 132.8 13.9 137.9 18.1 141.9 28.7 148.8 37.1 149.7 44.2 147.7 53.2 148.2 61.2 147.3 64.3 140.9 71.3 136.8 81.9 128.8 87.6 126.2 91.4 125.9 94.4 126.8 97.3 132.2 103.4 132.2 105.4 130.1 107.4 109.7 112.6 96.6 111.9 91.6 112.6 88.8 114.5 87.6 116.5 87.5 125.5 47.1 125.5 49.2 113.5 48.4 82.3 49 21.1 48.3 11.0 49.5 7.0Z"/>
<path fill="#FFA00A" fill-rule="evenodd" d="M61.9 0.0 92.8 0.0 100.3 7.0 107.7 11.9 112.7 17.6 125.4 18.1 130.4 20.1 132.8 23.5 136.8 33.4 143.4 40.2 144.3 45.2 140.3 54.2 140.7 60.2 139.8 63.3 132.8 73.2 123.8 77.6 119.4 81.3 118 84.3 116.7 91.4 114.7 94.5 111.7 94.7 107.9 91.4 107.1 88.4 108.6 82.3 107.3 80.3 104.6 78.9 99.6 78.2 83.5 78.6 79.5 79.8 72.4 83.8 67.4 84.8 65.4 84.3 57.1 76.3 55.3 69.3 56.1 56.2 54.6 44.2 54.2 13.1 54.9 10.0 60.1 4.0ZM61.4 89.2 61.8 90.4 60.4 91.5 60.2 89.4ZM59.4 98.9 61.4 98.5 64.4 99.4 66.4 100.7 68.4 103.7 70.2 112.4 70.2 125.5 51.6 125.5 54 116.5 55.3 104.9 57.3 100.7Z"/>
<path fill="#FF8C00" fill-rule="evenodd" d="M64.3 14.1 73.4 8.5 80.5 8.2 84 10.0 87.7 15.1 95.6 19.8 100.9 26.1 103.6 26.9 114.7 27.2 127.8 32.1 131.5 37.1 133.6 42.2 134 45.2 131.8 48.5 125.4 52.2 123.5 54.2 123 57.2 123.8 62.2 122.6 65.3 116.2 70.3 111.7 72.1 85.5 71.6 75.5 72.4 71.6 71.3 70.8 68.3 72.5 63.3 63.4 48.2 61.5 43.2 61.6 20.1 62.4 16.6ZM83.5 62.2 91.6 62.5 99.6 64.9 101.6 64.7 103 63.3 102.6 61.2 96.6 55.2 93.6 53.8 91.6 54.4 86.5 60.7ZM62.4 116.9 62.8 120.5 61.8 125.5 59.3 125.5 60.4 118.6 61.4 116.7Z"/>
<path fill="#FF7300" fill-rule="evenodd" d="M75.5 25.0 81 26.1 82.8 27.1 84.1 29.1 82.5 36.1 82.7 44.2 80.8 47.2 77.5 48.6 73.4 46.7 71.7 42.2 71.8 28.1 72.8 26.1ZM123.8 35.9 126.1 39.2 125.7 43.2 123.8 44.8 119.7 45.9 115.7 46.0 112.7 44.9 114.2 50.2 113.7 53.2 112.7 54.4 109.8 53.2 107.3 48.2 102.6 44.4 100.8 41.2 101.5 37.1 104.6 35.4 112.7 36.0 119.7 34.8Z"/>
</g></svg>
<polyline points="324.8,376.3 327.2,422.6 323.6,464.1 323.6,503.3" fill="none" stroke="#168216" stroke-width="1.3"/>
<polygon points="299.2,389.7 304.1,386.1 305.3,410.4 301.6,408.0" fill="none" stroke="#168216" stroke-width="1.3" stroke-dasharray="2.5,1.5"/>
<polyline points="335.8,503.3 343.1,490.9 349.2,478.7 347.9,466.5 345.5,456.7 341.9,437.2 343.1,412.9 345.5,394.6 360.1,390.9 379.6,392.1 391.8,394.6 408.9,398.2 423.5,408.0 433.3,416.5 440.6,422.6 433.3,432.4 423.5,444.6 416.2,459.2 418.6,473.8 423.5,486.0 423.5,503.3" fill="none" stroke="#168216" stroke-width="1.3"/>
<line x1="349.4" y1="376.8" x2="349.4" y2="502.3" stroke="#000" stroke-width="1" stroke-dasharray="3,2"/>
<rect x="287.5" y="376.8" width="165" height="125.5" fill="none" stroke="#000" stroke-width="1.4"/>
<line x1="287.5" y1="502.3" x2="293.5" y2="502.3" stroke="#000" stroke-width="1"/>
<line x1="287.5" y1="493.3" x2="290.5" y2="493.3" stroke="#000" stroke-width="1"/>
<line x1="287.5" y1="484.4" x2="293.5" y2="484.4" stroke="#000" stroke-width="1"/>
<line x1="287.5" y1="475.4" x2="290.5" y2="475.4" stroke="#000" stroke-width="1"/>
<line x1="287.5" y1="466.4" x2="293.5" y2="466.4" stroke="#000" stroke-width="1"/>
<line x1="287.5" y1="457.5" x2="290.5" y2="457.5" stroke="#000" stroke-width="1"/>
<line x1="287.5" y1="448.5" x2="293.5" y2="448.5" stroke="#000" stroke-width="1"/>
<line x1="287.5" y1="439.6" x2="290.5" y2="439.6" stroke="#000" stroke-width="1"/>
<line x1="287.5" y1="430.6" x2="293.5" y2="430.6" stroke="#000" stroke-width="1"/>
<line x1="287.5" y1="421.6" x2="290.5" y2="421.6" stroke="#000" stroke-width="1"/>
<line x1="287.5" y1="412.7" x2="293.5" y2="412.7" stroke="#000" stroke-width="1"/>
<line x1="287.5" y1="403.7" x2="290.5" y2="403.7" stroke="#000" stroke-width="1"/>
<line x1="287.5" y1="394.7" x2="293.5" y2="394.7" stroke="#000" stroke-width="1"/>
<line x1="287.5" y1="385.8" x2="290.5" y2="385.8" stroke="#000" stroke-width="1"/>
<line x1="287.5" y1="376.8" x2="293.5" y2="376.8" stroke="#000" stroke-width="1"/>
<line x1="328.8" y1="502.3" x2="328.8" y2="497.3" stroke="#000" stroke-width="1"/>
<line x1="370.0" y1="502.3" x2="370.0" y2="497.3" stroke="#000" stroke-width="1"/>
<line x1="411.2" y1="502.3" x2="411.2" y2="497.3" stroke="#000" stroke-width="1"/>
<svg x="287.5" y="558.7" width="165" height="125.5" overflow="hidden"><g>
<rect width="165" height="125.5" fill="#AADCF5"/>
<path fill="#C8E6F5" fill-rule="evenodd" d="M13.1 0.0 165 0.0 165 125.5 138.8 125.5 137.8 124.5 136.8 125.5 81.5 125.4 79.5 125.0 76.4 119.5 74.1 117.5 66.4 115.4 62 116.5 57.3 122.6 51.6 125.5 0 125.5 0 44.8 2 42.4 4.9 35.1 7 33.1 12.1 32.4 19.1 35.9 21.1 35.5 22 34.1 20.6 27.1 22.7 19.1 16.1 15.9 13.8 13.1 12.8 8.0Z"/>
<path fill="#FFFAB4" fill-rule="evenodd" d="M17.1 0.0 26 0.0 26.3 8.0 23.1 11.7 20.1 12.0 17.1 9.2 16.5 6.0ZM0 50.4 4.4 48.2 10.1 39.6 12.1 39.4 21.1 41.6 24.1 40.7 27 38.2 28 35.1 27.3 27.1 32.9 20.1 34.5 16.1 34.9 0.0 165 0.0 165 113.4 150.9 115.5 136.8 114.6 133.8 115.5 126.8 120.9 120.7 121.8 98.6 118.3 80.5 111.7 64.4 110.0 59.4 111.2 51.7 116.5 45.1 119.5 43 121.5 41.2 125.5 0 125.5Z"/>
<path fill="#FFF078" fill-rule="evenodd" d="M0 125.5 0 89.6 7 88.3 10.1 89.3 10.8 91.4 10.2 98.4 12.1 99.9 15.1 100.2 19.1 99.3 24.1 96.4 28.8 92.4 31.5 88.4 31.9 85.3 30.7 77.3 31.4 56.2 29.1 48.2 29.9 46.2 34.4 41.2 35.9 37.1 35.8 29.1 38.9 17.1 39 0.0 165 0.0 165 107.6 154.9 110.3 143.9 110.2 134.8 111.4 130.8 113.1 125.8 117.7 120.7 118.7 101.6 112.4 92.6 107.4 84.2 99.4 79.5 97.8 75.5 97.6 72.4 98.5 66.4 102.3 51.3 107.6 43.3 107.2 40.2 108.1 37.4 112.4 34.2 125.5Z"/>
<path fill="#FFDC32" fill-rule="evenodd" d="M45.1 0.0 149.7 0.0 152.9 6.5 158.5 14.1 159.6 19.1 158.9 30.1 159.6 79.3 158.6 83.3 154.4 90.4 154.7 99.4 153.9 101.6 151.9 102.8 144.9 103.9 134.8 107.4 122.7 107.6 117.7 108.6 111.7 106.6 102.7 98.4 80.5 88.9 74.5 88.7 61.4 94.4 56.5 93.4 52.3 90.3 48.7 86.3 46.9 82.3 47 71.3 44.4 57.2 43.9 10.0ZM14.9 125.5 17.1 122.5 22.1 121.0 26.2 122.5 27.6 125.5Z"/>
<path fill="#FFC828" fill-rule="evenodd" d="M55.3 0.0 134.1 0.0 142.9 6.5 144.6 10.0 144 17.1 148.5 22.1 150 26.1 150.3 51.2 148.7 58.2 142.6 65.3 144.7 73.3 144.8 86.3 143.9 91.4 141.9 94.6 137.8 97.2 132.8 98.9 122.7 98.3 99.6 87.9 96.2 85.3 90.5 78.4 85.5 76.5 73.4 75.5 69.4 76.5 61.4 80.8 58.4 79.6 55 69.3 50.3 60.0 48.9 53.2 49.1 27.1 51.7 17.1 51.5 9.0Z"/>
<path fill="#FFB414" fill-rule="evenodd" d="M61.9 0.0 103.1 0.0 105.4 5.0 109.7 7.9 113.7 9.0 120.7 8.2 123.8 9.0 124.4 11.0 123.3 15.1 123.8 18.1 134.3 27.1 135.6 30.1 133.4 40.2 135.6 51.2 130.5 58.2 129.1 64.3 129.1 80.3 130.2 83.3 134.1 88.4 133.4 90.4 130.8 91.3 127.8 91.1 109.7 84.0 105.4 79.3 102.6 70.3 100.7 67.3 97.6 65.0 90.5 61.8 85.5 61.0 78.1 66.3 72.4 67.6 66.4 67.0 63 64.3 55.6 54.2 54.1 47.2 54.1 28.1 58 18.1 58.3 8.0Z"/>
<path fill="#FFA00A" fill-rule="evenodd" d="M72.1 9.0 76.5 7.6 81.1 8.0 83.2 10.0 83.5 13.5 82.5 15.1 78.9 17.1 82.5 17.9 91.6 17.6 95 19.1 96.5 21.1 96.1 24.1 90 30.1 83 35.1 82.1 38.2 83.5 40.4 87.5 39.9 94.6 35.0 97.6 35.1 102.6 36.8 102.1 29.1 104.2 26.1 109.7 25.4 113.7 27.1 115 31.1 112.2 40.2 115.1 49.2 114.3 53.2 112.7 53.9 109.7 53.1 103.6 45.3 101.6 44.1 86.5 45.2 75.5 43.8 71.7 45.2 69.4 49.0 65.4 47.9 62.8 46.2 61.5 43.2 61.5 28.1 62.8 25.1 65.4 22.1 74.3 17.1 74.5 16.1 71.1 12.0 71.1 10.0ZM70.4 50.1 72.4 51.3 72.4 53.5 71.4 53.7 70.4 52.5Z"/>
</g></svg>
<polyline points="323.6,558.2 323.6,594.8 316.3,609.4 301.6,613.1 287.0,621.6" fill="none" stroke="#168216" stroke-width="1.3"/>
<polyline points="287.0,665.5 299.2,670.3 311.4,663.0 323.6,670.3 323.6,685.2" fill="none" stroke="#168216" stroke-width="1.3"/>
<polyline points="345.5,558.2 339.4,568.0 338.2,582.6 335.8,607.0 335.8,631.3 337.0,650.8 343.1,652.1 349.2,650.8 350.4,641.1 360.1,641.1 372.3,646.0 373.5,660.6 372.3,675.2 371.1,677.7 379.6,680.1 404.0,677.7 423.5,672.8 430.8,660.6 428.4,650.8 416.2,641.1 416.2,626.5 428.4,614.3 443.0,602.1 447.9,594.8 440.6,587.5 423.5,580.1 404.0,572.8 387.0,563.1 384.5,558.2" fill="none" stroke="#168216" stroke-width="1.3"/>
<line x1="349.4" y1="558.7" x2="349.4" y2="684.2" stroke="#000" stroke-width="1" stroke-dasharray="3,2"/>
<rect x="287.5" y="558.7" width="165" height="125.5" fill="none" stroke="#000" stroke-width="1.4"/>
<line x1="287.5" y1="684.2" x2="293.5" y2="684.2" stroke="#000" stroke-width="1"/>
<line x1="287.5" y1="675.2" x2="290.5" y2="675.2" stroke="#000" stroke-width="1"/>
<line x1="287.5" y1="666.3" x2="293.5" y2="666.3" stroke="#000" stroke-width="1"/>
<line x1="287.5" y1="657.3" x2="290.5" y2="657.3" stroke="#000" stroke-width="1"/>
<line x1="287.5" y1="648.3" x2="293.5" y2="648.3" stroke="#000" stroke-width="1"/>
<line x1="287.5" y1="639.4" x2="290.5" y2="639.4" stroke="#000" stroke-width="1"/>
<line x1="287.5" y1="630.4" x2="293.5" y2="630.4" stroke="#000" stroke-width="1"/>
<line x1="287.5" y1="621.5" x2="290.5" y2="621.5" stroke="#000" stroke-width="1"/>
<line x1="287.5" y1="612.5" x2="293.5" y2="612.5" stroke="#000" stroke-width="1"/>
<line x1="287.5" y1="603.5" x2="290.5" y2="603.5" stroke="#000" stroke-width="1"/>
<line x1="287.5" y1="594.6" x2="293.5" y2="594.6" stroke="#000" stroke-width="1"/>
<line x1="287.5" y1="585.6" x2="290.5" y2="585.6" stroke="#000" stroke-width="1"/>
<line x1="287.5" y1="576.6" x2="293.5" y2="576.6" stroke="#000" stroke-width="1"/>
<line x1="287.5" y1="567.7" x2="290.5" y2="567.7" stroke="#000" stroke-width="1"/>
<line x1="287.5" y1="558.7" x2="293.5" y2="558.7" stroke="#000" stroke-width="1"/>
<line x1="328.8" y1="684.2" x2="328.8" y2="679.2" stroke="#000" stroke-width="1"/>
<line x1="370.0" y1="684.2" x2="370.0" y2="679.2" stroke="#000" stroke-width="1"/>
<line x1="411.2" y1="684.2" x2="411.2" y2="679.2" stroke="#000" stroke-width="1"/>
<line x1="519.2" y1="108.1" x2="684.7" y2="108.1" stroke="#000" stroke-width="1.5" stroke-dasharray="4,2.5"/>
<polyline points="519.2,107.5 531.0,103.5 542.8,100.5 554.7,98.0 566.5,93.8 578.3,90.1 590.1,87.3 602.0,84.3 613.8,82.4 625.6,81.2 637.4,81.2 649.2,84.3 661.1,87.9 672.9,89.8 684.7,91.9" fill="none" stroke="#8CCB8C" stroke-width="1.3"/>
<polyline points="519.2,111.0 531.0,107.0 542.8,104.0 554.7,101.5 566.5,97.3 578.3,93.6 590.1,90.8 602.0,87.8 613.8,85.9 625.6,84.7 637.4,84.7 649.2,87.8 661.1,91.4 672.9,93.3 684.7,95.4" fill="none" stroke="#1A7A1A" stroke-width="2.4"/>
<polyline points="519.2,115.8 531.0,109.3 542.8,100.5 554.7,90.7 566.5,84.8 578.3,74.4 590.1,67.4 602.0,52.7 613.8,48.4 625.6,42.3 637.4,44.5 649.2,59.1 661.1,71.7 672.9,69.2 684.7,73.8" fill="none" stroke="#000" stroke-width="2"/>
<circle cx="531.0" cy="109.3" r="2" fill="#000"/>
<circle cx="542.8" cy="100.5" r="2" fill="#000"/>
<circle cx="554.7" cy="90.7" r="2" fill="#000"/>
<circle cx="566.5" cy="84.8" r="2" fill="#000"/>
<circle cx="578.3" cy="74.4" r="2" fill="#000"/>
<circle cx="590.1" cy="67.4" r="2" fill="#000"/>
<circle cx="602.0" cy="52.7" r="2" fill="#000"/>
<circle cx="613.8" cy="48.4" r="2" fill="#000"/>
<circle cx="625.6" cy="42.3" r="2" fill="#000"/>
<circle cx="637.4" cy="44.5" r="2" fill="#000"/>
<circle cx="649.2" cy="59.1" r="2" fill="#000"/>
<circle cx="661.1" cy="71.7" r="2" fill="#000"/>
<circle cx="672.9" cy="69.2" r="2" fill="#000"/>
<polyline points="519.2,109.3 531.0,105.3 542.8,102.3 554.7,99.8 566.5,95.6 578.3,91.9 590.1,89.1 602.0,86.1 613.8,84.2 625.6,83.0 637.4,83.0 649.2,86.1 661.1,89.7 672.9,91.6 684.7,93.7" fill="none" stroke="#0000FF" stroke-width="2.1"/>
<circle cx="531.0" cy="105.3" r="2.4" fill="#0A0AFF"/>
<circle cx="542.8" cy="102.3" r="2.4" fill="#0A0AFF"/>
<circle cx="554.7" cy="99.8" r="2.4" fill="#0A0AFF"/>
<circle cx="566.5" cy="95.6" r="2.4" fill="#0A0AFF"/>
<circle cx="578.3" cy="91.9" r="2.4" fill="#0A0AFF"/>
<circle cx="590.1" cy="89.1" r="2.4" fill="#0A0AFF"/>
<circle cx="602.0" cy="86.1" r="2.4" fill="#0A0AFF"/>
<circle cx="613.8" cy="84.2" r="2.4" fill="#0A0AFF"/>
<circle cx="625.6" cy="83.0" r="2.4" fill="#0A0AFF"/>
<circle cx="637.4" cy="83.0" r="2.4" fill="#0A0AFF"/>
<circle cx="649.2" cy="86.1" r="2.4" fill="#0A0AFF"/>
<circle cx="661.1" cy="89.7" r="2.4" fill="#0A0AFF"/>
<circle cx="672.9" cy="91.6" r="2.4" fill="#0A0AFF"/>
<rect x="519.2" y="13.200000000000001" width="165.5" height="125.5" fill="none" stroke="#000" stroke-width="1.4"/>
<line x1="519.2" y1="16.3" x2="525.2" y2="16.3" stroke="#000" stroke-width="1"/>
<line x1="519.2" y1="31.6" x2="525.2" y2="31.6" stroke="#000" stroke-width="1"/>
<line x1="519.2" y1="46.9" x2="525.2" y2="46.9" stroke="#000" stroke-width="1"/>
<line x1="519.2" y1="62.2" x2="525.2" y2="62.2" stroke="#000" stroke-width="1"/>
<line x1="519.2" y1="77.5" x2="525.2" y2="77.5" stroke="#000" stroke-width="1"/>
<line x1="519.2" y1="92.8" x2="525.2" y2="92.8" stroke="#000" stroke-width="1"/>
<line x1="519.2" y1="108.1" x2="525.2" y2="108.1" stroke="#000" stroke-width="1"/>
<line x1="519.2" y1="123.4" x2="525.2" y2="123.4" stroke="#000" stroke-width="1"/>
<line x1="531.0" y1="138.7" x2="531.0" y2="135.7" stroke="#000" stroke-width="1"/>
<line x1="542.8" y1="138.7" x2="542.8" y2="135.7" stroke="#000" stroke-width="1"/>
<line x1="554.7" y1="138.7" x2="554.7" y2="133.2" stroke="#000" stroke-width="1"/>
<line x1="566.5" y1="138.7" x2="566.5" y2="135.7" stroke="#000" stroke-width="1"/>
<line x1="578.3" y1="138.7" x2="578.3" y2="135.7" stroke="#000" stroke-width="1"/>
<line x1="590.1" y1="138.7" x2="590.1" y2="133.2" stroke="#000" stroke-width="1"/>
<line x1="602.0" y1="138.7" x2="602.0" y2="135.7" stroke="#000" stroke-width="1"/>
<line x1="613.8" y1="138.7" x2="613.8" y2="135.7" stroke="#000" stroke-width="1"/>
<line x1="625.6" y1="138.7" x2="625.6" y2="133.2" stroke="#000" stroke-width="1"/>
<line x1="637.4" y1="138.7" x2="637.4" y2="135.7" stroke="#000" stroke-width="1"/>
<line x1="649.2" y1="138.7" x2="649.2" y2="135.7" stroke="#000" stroke-width="1"/>
<line x1="661.1" y1="138.7" x2="661.1" y2="133.2" stroke="#000" stroke-width="1"/>
<line x1="672.9" y1="138.7" x2="672.9" y2="135.7" stroke="#000" stroke-width="1"/>
<line x1="684.7" y1="138.7" x2="684.7" y2="135.7" stroke="#000" stroke-width="1"/>
<line x1="527" y1="113.3" x2="544" y2="113.3" stroke="#96D296" stroke-width="1.5"/>
<line x1="598.8" y1="113.7" x2="617.2" y2="113.7" stroke="#0000FF" stroke-width="1.8"/><circle cx="608" cy="113.7" r="2" fill="#0A0AFF"/>
<line x1="526" y1="125.9" x2="544.5" y2="125.9" stroke="#000" stroke-width="1.8"/><circle cx="535.3" cy="125.9" r="1.9" fill="#000"/>
<line x1="519.2" y1="290.4" x2="684.7" y2="290.4" stroke="#000" stroke-width="1.5" stroke-dasharray="4,2.5"/>
<polyline points="519.2,297.3 531.0,291.5 542.8,286.9 554.7,282.6 566.5,278.0 578.3,275.3 590.1,272.5 602.0,269.5 613.8,267.9 625.6,267.9 637.4,270.1 649.2,274.0 661.1,276.8 672.9,279.9 684.7,282.6" fill="none" stroke="#1A7A1A" stroke-width="2.4"/>
<polyline points="519.2,294.7 531.0,282.1 542.8,269.3 554.7,254.6 566.5,239.0 578.3,230.1 590.1,222.2 602.0,211.8 613.8,209.6 625.6,208.1 637.4,209.6 649.2,224.3 661.1,243.0 672.9,265.6 684.7,274.8" fill="none" stroke="#000" stroke-width="2"/>
<circle cx="531.0" cy="282.1" r="2" fill="#000"/>
<circle cx="542.8" cy="269.3" r="2" fill="#000"/>
<circle cx="554.7" cy="254.6" r="2" fill="#000"/>
<circle cx="566.5" cy="239.0" r="2" fill="#000"/>
<circle cx="578.3" cy="230.1" r="2" fill="#000"/>
<circle cx="590.1" cy="222.2" r="2" fill="#000"/>
<circle cx="602.0" cy="211.8" r="2" fill="#000"/>
<circle cx="613.8" cy="209.6" r="2" fill="#000"/>
<circle cx="625.6" cy="208.1" r="2" fill="#000"/>
<circle cx="637.4" cy="209.6" r="2" fill="#000"/>
<circle cx="649.2" cy="224.3" r="2" fill="#000"/>
<circle cx="661.1" cy="243.0" r="2" fill="#000"/>
<circle cx="672.9" cy="265.6" r="2" fill="#000"/>
<polyline points="519.2,295.6 531.0,289.8 542.8,285.2 554.7,280.9 566.5,276.3 578.3,273.6 590.1,270.8 602.0,267.8 613.8,266.2 625.6,266.2 637.4,268.4 649.2,272.3 661.1,275.1 672.9,278.2 684.7,280.9" fill="none" stroke="#0000FF" stroke-width="2.1"/>
<circle cx="531.0" cy="289.8" r="2.4" fill="#0A0AFF"/>
<circle cx="542.8" cy="285.2" r="2.4" fill="#0A0AFF"/>
<circle cx="554.7" cy="280.9" r="2.4" fill="#0A0AFF"/>
<circle cx="566.5" cy="276.3" r="2.4" fill="#0A0AFF"/>
<circle cx="578.3" cy="273.6" r="2.4" fill="#0A0AFF"/>
<circle cx="590.1" cy="270.8" r="2.4" fill="#0A0AFF"/>
<circle cx="602.0" cy="267.8" r="2.4" fill="#0A0AFF"/>
<circle cx="613.8" cy="266.2" r="2.4" fill="#0A0AFF"/>
<circle cx="625.6" cy="266.2" r="2.4" fill="#0A0AFF"/>
<circle cx="637.4" cy="268.4" r="2.4" fill="#0A0AFF"/>
<circle cx="649.2" cy="272.3" r="2.4" fill="#0A0AFF"/>
<circle cx="661.1" cy="275.1" r="2.4" fill="#0A0AFF"/>
<circle cx="672.9" cy="278.2" r="2.4" fill="#0A0AFF"/>
<rect x="519.2" y="195.5" width="165.5" height="125.5" fill="none" stroke="#000" stroke-width="1.4"/>
<line x1="519.2" y1="198.6" x2="525.2" y2="198.6" stroke="#000" stroke-width="1"/>
<line x1="519.2" y1="213.9" x2="525.2" y2="213.9" stroke="#000" stroke-width="1"/>
<line x1="519.2" y1="229.2" x2="525.2" y2="229.2" stroke="#000" stroke-width="1"/>
<line x1="519.2" y1="244.5" x2="525.2" y2="244.5" stroke="#000" stroke-width="1"/>
<line x1="519.2" y1="259.8" x2="525.2" y2="259.8" stroke="#000" stroke-width="1"/>
<line x1="519.2" y1="275.1" x2="525.2" y2="275.1" stroke="#000" stroke-width="1"/>
<line x1="519.2" y1="290.4" x2="525.2" y2="290.4" stroke="#000" stroke-width="1"/>
<line x1="519.2" y1="305.7" x2="525.2" y2="305.7" stroke="#000" stroke-width="1"/>
<line x1="531.0" y1="321.0" x2="531.0" y2="318.0" stroke="#000" stroke-width="1"/>
<line x1="542.8" y1="321.0" x2="542.8" y2="318.0" stroke="#000" stroke-width="1"/>
<line x1="554.7" y1="321.0" x2="554.7" y2="315.5" stroke="#000" stroke-width="1"/>
<line x1="566.5" y1="321.0" x2="566.5" y2="318.0" stroke="#000" stroke-width="1"/>
<line x1="578.3" y1="321.0" x2="578.3" y2="318.0" stroke="#000" stroke-width="1"/>
<line x1="590.1" y1="321.0" x2="590.1" y2="315.5" stroke="#000" stroke-width="1"/>
<line x1="602.0" y1="321.0" x2="602.0" y2="318.0" stroke="#000" stroke-width="1"/>
<line x1="613.8" y1="321.0" x2="613.8" y2="318.0" stroke="#000" stroke-width="1"/>
<line x1="625.6" y1="321.0" x2="625.6" y2="315.5" stroke="#000" stroke-width="1"/>
<line x1="637.4" y1="321.0" x2="637.4" y2="318.0" stroke="#000" stroke-width="1"/>
<line x1="649.2" y1="321.0" x2="649.2" y2="318.0" stroke="#000" stroke-width="1"/>
<line x1="661.1" y1="321.0" x2="661.1" y2="315.5" stroke="#000" stroke-width="1"/>
<line x1="672.9" y1="321.0" x2="672.9" y2="318.0" stroke="#000" stroke-width="1"/>
<line x1="684.7" y1="321.0" x2="684.7" y2="318.0" stroke="#000" stroke-width="1"/>
<line x1="519.2" y1="472.0" x2="684.7" y2="472.0" stroke="#000" stroke-width="1.5" stroke-dasharray="4,2.5"/>
<polyline points="519.2,455.3 531.0,453.2 542.8,451.7 554.7,450.1 566.5,448.0 578.3,446.2 590.1,444.3 602.0,441.6 613.8,440.0 625.6,439.7 637.4,440.7 649.2,443.7 661.1,446.8 672.9,448.9 684.7,450.4" fill="none" stroke="#1A7A1A" stroke-width="2.4"/>
<polyline points="519.2,453.0 531.0,446.6 542.8,439.3 554.7,432.2 566.5,424.3 578.3,411.7 590.1,404.4 602.0,397.9 613.8,385.7 625.6,385.7 637.4,391.5 649.2,401.0 661.1,421.5 672.9,440.5 684.7,461.0" fill="none" stroke="#000" stroke-width="2"/>
<circle cx="531.0" cy="446.6" r="2" fill="#000"/>
<circle cx="542.8" cy="439.3" r="2" fill="#000"/>
<circle cx="554.7" cy="432.2" r="2" fill="#000"/>
<circle cx="566.5" cy="424.3" r="2" fill="#000"/>
<circle cx="578.3" cy="411.7" r="2" fill="#000"/>
<circle cx="590.1" cy="404.4" r="2" fill="#000"/>
<circle cx="602.0" cy="397.9" r="2" fill="#000"/>
<circle cx="613.8" cy="385.7" r="2" fill="#000"/>
<circle cx="625.6" cy="385.7" r="2" fill="#000"/>
<circle cx="637.4" cy="391.5" r="2" fill="#000"/>
<circle cx="649.2" cy="401.0" r="2" fill="#000"/>
<circle cx="661.1" cy="421.5" r="2" fill="#000"/>
<circle cx="672.9" cy="440.5" r="2" fill="#000"/>
<polyline points="519.2,453.6 531.0,451.5 542.8,450.0 554.7,448.4 566.5,446.3 578.3,444.5 590.1,442.6 602.0,439.9 613.8,438.3 625.6,438.0 637.4,439.0 649.2,442.0 661.1,445.1 672.9,447.2 684.7,448.7" fill="none" stroke="#0000FF" stroke-width="2.1"/>
<circle cx="531.0" cy="451.5" r="2.4" fill="#0A0AFF"/>
<circle cx="542.8" cy="450.0" r="2.4" fill="#0A0AFF"/>
<circle cx="554.7" cy="448.4" r="2.4" fill="#0A0AFF"/>
<circle cx="566.5" cy="446.3" r="2.4" fill="#0A0AFF"/>
<circle cx="578.3" cy="444.5" r="2.4" fill="#0A0AFF"/>
<circle cx="590.1" cy="442.6" r="2.4" fill="#0A0AFF"/>
<circle cx="602.0" cy="439.9" r="2.4" fill="#0A0AFF"/>
<circle cx="613.8" cy="438.3" r="2.4" fill="#0A0AFF"/>
<circle cx="625.6" cy="438.0" r="2.4" fill="#0A0AFF"/>
<circle cx="637.4" cy="439.0" r="2.4" fill="#0A0AFF"/>
<circle cx="649.2" cy="442.0" r="2.4" fill="#0A0AFF"/>
<circle cx="661.1" cy="445.1" r="2.4" fill="#0A0AFF"/>
<circle cx="672.9" cy="447.2" r="2.4" fill="#0A0AFF"/>
<rect x="519.2" y="377.1" width="165.5" height="125.5" fill="none" stroke="#000" stroke-width="1.4"/>
<line x1="519.2" y1="380.2" x2="525.2" y2="380.2" stroke="#000" stroke-width="1"/>
<line x1="519.2" y1="395.5" x2="525.2" y2="395.5" stroke="#000" stroke-width="1"/>
<line x1="519.2" y1="410.8" x2="525.2" y2="410.8" stroke="#000" stroke-width="1"/>
<line x1="519.2" y1="426.1" x2="525.2" y2="426.1" stroke="#000" stroke-width="1"/>
<line x1="519.2" y1="441.4" x2="525.2" y2="441.4" stroke="#000" stroke-width="1"/>
<line x1="519.2" y1="456.7" x2="525.2" y2="456.7" stroke="#000" stroke-width="1"/>
<line x1="519.2" y1="472.0" x2="525.2" y2="472.0" stroke="#000" stroke-width="1"/>
<line x1="519.2" y1="487.3" x2="525.2" y2="487.3" stroke="#000" stroke-width="1"/>
<line x1="531.0" y1="502.6" x2="531.0" y2="499.6" stroke="#000" stroke-width="1"/>
<line x1="542.8" y1="502.6" x2="542.8" y2="499.6" stroke="#000" stroke-width="1"/>
<line x1="554.7" y1="502.6" x2="554.7" y2="497.1" stroke="#000" stroke-width="1"/>
<line x1="566.5" y1="502.6" x2="566.5" y2="499.6" stroke="#000" stroke-width="1"/>
<line x1="578.3" y1="502.6" x2="578.3" y2="499.6" stroke="#000" stroke-width="1"/>
<line x1="590.1" y1="502.6" x2="590.1" y2="497.1" stroke="#000" stroke-width="1"/>
<line x1="602.0" y1="502.6" x2="602.0" y2="499.6" stroke="#000" stroke-width="1"/>
<line x1="613.8" y1="502.6" x2="613.8" y2="499.6" stroke="#000" stroke-width="1"/>
<line x1="625.6" y1="502.6" x2="625.6" y2="497.1" stroke="#000" stroke-width="1"/>
<line x1="637.4" y1="502.6" x2="637.4" y2="499.6" stroke="#000" stroke-width="1"/>
<line x1="649.2" y1="502.6" x2="649.2" y2="499.6" stroke="#000" stroke-width="1"/>
<line x1="661.1" y1="502.6" x2="661.1" y2="497.1" stroke="#000" stroke-width="1"/>
<line x1="672.9" y1="502.6" x2="672.9" y2="499.6" stroke="#000" stroke-width="1"/>
<line x1="684.7" y1="502.6" x2="684.7" y2="499.6" stroke="#000" stroke-width="1"/>
<line x1="519.2" y1="653.9" x2="684.7" y2="653.9" stroke="#000" stroke-width="1.5" stroke-dasharray="4,2.5"/>
<polyline points="519.2,664.5 531.0,658.7 542.8,653.5 554.7,648.9 566.5,644.0 578.3,640.3 590.1,637.2 602.0,635.1 613.8,633.0 625.6,632.0 637.4,631.4 649.2,633.0 661.1,634.5 672.9,635.1 684.7,635.1" fill="none" stroke="#1A7A1A" stroke-width="2.4"/>
<polyline points="519.2,654.5 531.0,648.1 542.8,638.6 554.7,627.6 566.5,622.7 578.3,611.4 590.1,605.6 602.0,601.9 613.8,594.8 625.6,591.8 637.4,599.7 649.2,607.7 661.1,618.1 672.9,632.8 684.7,647.5" fill="none" stroke="#000" stroke-width="2"/>
<circle cx="531.0" cy="648.1" r="2" fill="#000"/>
<circle cx="542.8" cy="638.6" r="2" fill="#000"/>
<circle cx="554.7" cy="627.6" r="2" fill="#000"/>
<circle cx="566.5" cy="622.7" r="2" fill="#000"/>
<circle cx="578.3" cy="611.4" r="2" fill="#000"/>
<circle cx="590.1" cy="605.6" r="2" fill="#000"/>
<circle cx="602.0" cy="601.9" r="2" fill="#000"/>
<circle cx="613.8" cy="594.8" r="2" fill="#000"/>
<circle cx="625.6" cy="591.8" r="2" fill="#000"/>
<circle cx="637.4" cy="599.7" r="2" fill="#000"/>
<circle cx="649.2" cy="607.7" r="2" fill="#000"/>
<circle cx="661.1" cy="618.1" r="2" fill="#000"/>
<circle cx="672.9" cy="632.8" r="2" fill="#000"/>
<polyline points="519.2,662.8 531.0,657.0 542.8,651.8 554.7,647.2 566.5,642.3 578.3,638.6 590.1,635.5 602.0,633.4 613.8,631.3 625.6,630.3 637.4,629.7 649.2,631.3 661.1,632.8 672.9,633.4 684.7,633.4" fill="none" stroke="#0000FF" stroke-width="2.1"/>
<circle cx="531.0" cy="657.0" r="2.4" fill="#0A0AFF"/>
<circle cx="542.8" cy="651.8" r="2.4" fill="#0A0AFF"/>
<circle cx="554.7" cy="647.2" r="2.4" fill="#0A0AFF"/>
<circle cx="566.5" cy="642.3" r="2.4" fill="#0A0AFF"/>
<circle cx="578.3" cy="638.6" r="2.4" fill="#0A0AFF"/>
<circle cx="590.1" cy="635.5" r="2.4" fill="#0A0AFF"/>
<circle cx="602.0" cy="633.4" r="2.4" fill="#0A0AFF"/>
<circle cx="613.8" cy="631.3" r="2.4" fill="#0A0AFF"/>
<circle cx="625.6" cy="630.3" r="2.4" fill="#0A0AFF"/>
<circle cx="637.4" cy="629.7" r="2.4" fill="#0A0AFF"/>
<circle cx="649.2" cy="631.3" r="2.4" fill="#0A0AFF"/>
<circle cx="661.1" cy="632.8" r="2.4" fill="#0A0AFF"/>
<circle cx="672.9" cy="633.4" r="2.4" fill="#0A0AFF"/>
<rect x="519.2" y="559.0" width="165.5" height="125.5" fill="none" stroke="#000" stroke-width="1.4"/>
<line x1="519.2" y1="562.1" x2="525.2" y2="562.1" stroke="#000" stroke-width="1"/>
<line x1="519.2" y1="577.4" x2="525.2" y2="577.4" stroke="#000" stroke-width="1"/>
<line x1="519.2" y1="592.7" x2="525.2" y2="592.7" stroke="#000" stroke-width="1"/>
<line x1="519.2" y1="608.0" x2="525.2" y2="608.0" stroke="#000" stroke-width="1"/>
<line x1="519.2" y1="623.3" x2="525.2" y2="623.3" stroke="#000" stroke-width="1"/>
<line x1="519.2" y1="638.6" x2="525.2" y2="638.6" stroke="#000" stroke-width="1"/>
<line x1="519.2" y1="653.9" x2="525.2" y2="653.9" stroke="#000" stroke-width="1"/>
<line x1="519.2" y1="669.2" x2="525.2" y2="669.2" stroke="#000" stroke-width="1"/>
<line x1="531.0" y1="684.5" x2="531.0" y2="681.5" stroke="#000" stroke-width="1"/>
<line x1="542.8" y1="684.5" x2="542.8" y2="681.5" stroke="#000" stroke-width="1"/>
<line x1="554.7" y1="684.5" x2="554.7" y2="679.0" stroke="#000" stroke-width="1"/>
<line x1="566.5" y1="684.5" x2="566.5" y2="681.5" stroke="#000" stroke-width="1"/>
<line x1="578.3" y1="684.5" x2="578.3" y2="681.5" stroke="#000" stroke-width="1"/>
<line x1="590.1" y1="684.5" x2="590.1" y2="679.0" stroke="#000" stroke-width="1"/>
<line x1="602.0" y1="684.5" x2="602.0" y2="681.5" stroke="#000" stroke-width="1"/>
<line x1="613.8" y1="684.5" x2="613.8" y2="681.5" stroke="#000" stroke-width="1"/>
<line x1="625.6" y1="684.5" x2="625.6" y2="679.0" stroke="#000" stroke-width="1"/>
<line x1="637.4" y1="684.5" x2="637.4" y2="681.5" stroke="#000" stroke-width="1"/>
<line x1="649.2" y1="684.5" x2="649.2" y2="681.5" stroke="#000" stroke-width="1"/>
<line x1="661.1" y1="684.5" x2="661.1" y2="679.0" stroke="#000" stroke-width="1"/>
<line x1="672.9" y1="684.5" x2="672.9" y2="681.5" stroke="#000" stroke-width="1"/>
<line x1="684.7" y1="684.5" x2="684.7" y2="681.5" stroke="#000" stroke-width="1"/>
<polygon points="116.6,733.0 128.0,728.5 128.0,737.5" fill="#7B1FE0"/>
<rect x="128.00" y="728.5" width="7.67" height="9" fill="#7B1FE0"/>
<rect x="135.37" y="728.5" width="7.67" height="9" fill="#5A14F0"/>
<rect x="142.73" y="728.5" width="7.67" height="9" fill="#0000FF"/>
<rect x="150.10" y="728.5" width="7.67" height="9" fill="#1E3CF5"/>
<rect x="157.47" y="728.5" width="7.67" height="9" fill="#3C5AE6"/>
<rect x="164.83" y="728.5" width="7.67" height="9" fill="#3C6EF0"/>
<rect x="172.20" y="728.5" width="7.67" height="9" fill="#2882F0"/>
<rect x="179.57" y="728.5" width="7.67" height="9" fill="#1E8CFF"/>
<rect x="186.93" y="728.5" width="7.67" height="9" fill="#0A9BFF"/>
<rect x="194.30" y="728.5" width="7.67" height="9" fill="#00AAF5"/>
<rect x="201.67" y="728.5" width="7.67" height="9" fill="#1EB9F0"/>
<rect x="209.03" y="728.5" width="7.67" height="9" fill="#5AC3F0"/>
<rect x="216.40" y="728.5" width="7.67" height="9" fill="#87D2F0"/>
<rect x="223.77" y="728.5" width="7.67" height="9" fill="#AADCF5"/>
<rect x="231.13" y="728.5" width="7.67" height="9" fill="#C8E6F5"/>
<rect x="238.50" y="728.5" width="7.67" height="9" fill="#FFFAB4"/>
<rect x="245.87" y="728.5" width="7.67" height="9" fill="#FFF078"/>
<rect x="253.23" y="728.5" width="7.67" height="9" fill="#FFDC32"/>
<rect x="260.60" y="728.5" width="7.67" height="9" fill="#FFC828"/>
<rect x="267.97" y="728.5" width="7.67" height="9" fill="#FFB414"/>
<rect x="275.33" y="728.5" width="7.67" height="9" fill="#FFA00A"/>
<rect x="282.70" y="728.5" width="7.67" height="9" fill="#FF8C00"/>
<rect x="290.07" y="728.5" width="7.67" height="9" fill="#FF7300"/>
<rect x="297.43" y="728.5" width="7.67" height="9" fill="#FF4B00"/>
<rect x="304.80" y="728.5" width="7.67" height="9" fill="#FF1E00"/>
<rect x="312.17" y="728.5" width="7.67" height="9" fill="#F00000"/>
<rect x="319.53" y="728.5" width="7.67" height="9" fill="#DC0000"/>
<rect x="326.90" y="728.5" width="7.67" height="9" fill="#C80000"/>
<rect x="334.27" y="728.5" width="7.67" height="9" fill="#DC4650"/>
<rect x="341.63" y="728.5" width="7.67" height="9" fill="#F08C8C"/>
<polygon points="349.0,728.5 361.4,733.0 349.0,737.5" fill="#FFAAB2"/>
<polygon points="116.6,733.0 128.0,728.5 349,728.5 361.4,733.0 349,737.5 128.0,737.5" fill="none" stroke="#000" stroke-width="1.2"/>
<line x1="150.1" y1="737.5" x2="150.1" y2="731.5" stroke="#000" stroke-width="1"/>
<line x1="179.6" y1="737.5" x2="179.6" y2="731.5" stroke="#000" stroke-width="1"/>
<line x1="209.0" y1="737.5" x2="209.0" y2="731.5" stroke="#000" stroke-width="1"/>
<line x1="238.5" y1="737.5" x2="238.5" y2="731.5" stroke="#000" stroke-width="1"/>
<line x1="268.0" y1="737.5" x2="268.0" y2="731.5" stroke="#000" stroke-width="1"/>
<line x1="297.4" y1="737.5" x2="297.4" y2="731.5" stroke="#000" stroke-width="1"/>
<line x1="326.9" y1="737.5" x2="326.9" y2="731.5" stroke="#000" stroke-width="1"/>
<text x="50.5" y="142.6" font-size="10.4" text-anchor="end">Mar(0)</text>
<text x="50.5" y="124.7" font-size="10.4" text-anchor="end">May(0)</text>
<text x="50.5" y="106.7" font-size="10.4" text-anchor="end">Jul(0)</text>
<text x="50.5" y="88.8" font-size="10.4" text-anchor="end">Sep(0)</text>
<text x="50.5" y="70.9" font-size="10.4" text-anchor="end">Nov(0)</text>
<text x="50.5" y="53.0" font-size="10.4" text-anchor="end">Jan(1)</text>
<text x="50.5" y="35.0" font-size="10.4" text-anchor="end">Mar(1)</text>
<text x="50.5" y="17.1" font-size="10.4" text-anchor="end">May(1)</text>
<text x="56.5" y="152.4" font-size="10" text-anchor="middle">120°E</text>
<text x="97.8" y="152.4" font-size="10" text-anchor="middle">160°E</text>
<text x="139.0" y="152.4" font-size="10" text-anchor="middle">160°W</text>
<text x="180.2" y="152.4" font-size="10" text-anchor="middle">120°W</text>
<text x="221.5" y="152.4" font-size="10" text-anchor="middle">80°W</text>
<text x="139.0" y="170.0" font-size="12" text-anchor="middle">Longitude</text>
<text transform="translate(8.5,76.5) rotate(-90)" font-size="11.9" text-anchor="middle">Month</text>
<text x="56.5" y="9.1" font-size="11">(a) 1982-83 OBS</text>
<text x="50.5" y="324.9" font-size="10.4" text-anchor="end">Mar(0)</text>
<text x="50.5" y="307.0" font-size="10.4" text-anchor="end">May(0)</text>
<text x="50.5" y="289.0" font-size="10.4" text-anchor="end">Jul(0)</text>
<text x="50.5" y="271.1" font-size="10.4" text-anchor="end">Sep(0)</text>
<text x="50.5" y="253.2" font-size="10.4" text-anchor="end">Nov(0)</text>
<text x="50.5" y="235.3" font-size="10.4" text-anchor="end">Jan(1)</text>
<text x="50.5" y="217.3" font-size="10.4" text-anchor="end">Mar(1)</text>
<text x="50.5" y="199.4" font-size="10.4" text-anchor="end">May(1)</text>
<text x="56.5" y="334.7" font-size="10" text-anchor="middle">120°E</text>
<text x="97.8" y="334.7" font-size="10" text-anchor="middle">160°E</text>
<text x="139.0" y="334.7" font-size="10" text-anchor="middle">160°W</text>
<text x="180.2" y="334.7" font-size="10" text-anchor="middle">120°W</text>
<text x="221.5" y="334.7" font-size="10" text-anchor="middle">80°W</text>
<text x="139.0" y="352.3" font-size="12" text-anchor="middle">Longitude</text>
<text transform="translate(8.5,258.8) rotate(-90)" font-size="11.9" text-anchor="middle">Month</text>
<text x="56.5" y="191.4" font-size="11">(b) 1997-98 OBS</text>
<text x="50.5" y="506.5" font-size="10.4" text-anchor="end">Mar(0)</text>
<text x="50.5" y="488.6" font-size="10.4" text-anchor="end">May(0)</text>
<text x="50.5" y="470.6" font-size="10.4" text-anchor="end">Jul(0)</text>
<text x="50.5" y="452.7" font-size="10.4" text-anchor="end">Sep(0)</text>
<text x="50.5" y="434.8" font-size="10.4" text-anchor="end">Nov(0)</text>
<text x="50.5" y="416.9" font-size="10.4" text-anchor="end">Jan(1)</text>
<text x="50.5" y="398.9" font-size="10.4" text-anchor="end">Mar(1)</text>
<text x="50.5" y="381.0" font-size="10.4" text-anchor="end">May(1)</text>
<text x="56.5" y="516.3" font-size="10" text-anchor="middle">120°E</text>
<text x="97.8" y="516.3" font-size="10" text-anchor="middle">160°E</text>
<text x="139.0" y="516.3" font-size="10" text-anchor="middle">160°W</text>
<text x="180.2" y="516.3" font-size="10" text-anchor="middle">120°W</text>
<text x="221.5" y="516.3" font-size="10" text-anchor="middle">80°W</text>
<text x="139.0" y="533.9" font-size="12" text-anchor="middle">Longitude</text>
<text transform="translate(8.5,440.4) rotate(-90)" font-size="11.9" text-anchor="middle">Month</text>
<text x="56.5" y="373.0" font-size="11">(c) 2015-16 OBS</text>
<text x="50.5" y="688.4" font-size="10.4" text-anchor="end">Mar(0)</text>
<text x="50.5" y="670.5" font-size="10.4" text-anchor="end">May(0)</text>
<text x="50.5" y="652.5" font-size="10.4" text-anchor="end">Jul(0)</text>
<text x="50.5" y="634.6" font-size="10.4" text-anchor="end">Sep(0)</text>
<text x="50.5" y="616.7" font-size="10.4" text-anchor="end">Nov(0)</text>
<text x="50.5" y="598.8" font-size="10.4" text-anchor="end">Jan(1)</text>
<text x="50.5" y="580.8" font-size="10.4" text-anchor="end">Mar(1)</text>
<text x="50.5" y="562.9" font-size="10.4" text-anchor="end">May(1)</text>
<text x="56.5" y="698.2" font-size="10" text-anchor="middle">120°E</text>
<text x="97.8" y="698.2" font-size="10" text-anchor="middle">160°E</text>
<text x="139.0" y="698.2" font-size="10" text-anchor="middle">160°W</text>
<text x="180.2" y="698.2" font-size="10" text-anchor="middle">120°W</text>
<text x="221.5" y="698.2" font-size="10" text-anchor="middle">80°W</text>
<text x="139.0" y="715.8" font-size="12" text-anchor="middle">Longitude</text>
<text transform="translate(8.5,622.2) rotate(-90)" font-size="11.9" text-anchor="middle">Month</text>
<text x="56.5" y="554.9" font-size="11">(d) 2023-24 OBS</text>
<text x="281.5" y="142.6" font-size="10.4" text-anchor="end">Mar(0)</text>
<text x="281.5" y="124.7" font-size="10.4" text-anchor="end">May(0)</text>
<text x="281.5" y="106.7" font-size="10.4" text-anchor="end">Jul(0)</text>
<text x="281.5" y="88.8" font-size="10.4" text-anchor="end">Sep(0)</text>
<text x="281.5" y="70.9" font-size="10.4" text-anchor="end">Nov(0)</text>
<text x="281.5" y="53.0" font-size="10.4" text-anchor="end">Jan(1)</text>
<text x="281.5" y="35.0" font-size="10.4" text-anchor="end">Mar(1)</text>
<text x="281.5" y="17.1" font-size="10.4" text-anchor="end">May(1)</text>
<text x="287.5" y="152.4" font-size="10" text-anchor="middle">120°E</text>
<text x="328.8" y="152.4" font-size="10" text-anchor="middle">160°E</text>
<text x="370.0" y="152.4" font-size="10" text-anchor="middle">160°W</text>
<text x="411.2" y="152.4" font-size="10" text-anchor="middle">120°W</text>
<text x="452.5" y="152.4" font-size="10" text-anchor="middle">80°W</text>
<text x="370.0" y="170.0" font-size="12" text-anchor="middle">Longitude</text>
<text transform="translate(239.5,76.5) rotate(-90)" font-size="11.9" text-anchor="middle">Month</text>
<text x="287.5" y="9.1" font-size="11">(e) 1982-83 <tspan font-style="italic">E</tspan><tspan font-size="8" dy="2">CTL</tspan></text>
<text x="281.5" y="324.9" font-size="10.4" text-anchor="end">Mar(0)</text>
<text x="281.5" y="307.0" font-size="10.4" text-anchor="end">May(0)</text>
<text x="281.5" y="289.0" font-size="10.4" text-anchor="end">Jul(0)</text>
<text x="281.5" y="271.1" font-size="10.4" text-anchor="end">Sep(0)</text>
<text x="281.5" y="253.2" font-size="10.4" text-anchor="end">Nov(0)</text>
<text x="281.5" y="235.3" font-size="10.4" text-anchor="end">Jan(1)</text>
<text x="281.5" y="217.3" font-size="10.4" text-anchor="end">Mar(1)</text>
<text x="281.5" y="199.4" font-size="10.4" text-anchor="end">May(1)</text>
<text x="287.5" y="334.7" font-size="10" text-anchor="middle">120°E</text>
<text x="328.8" y="334.7" font-size="10" text-anchor="middle">160°E</text>
<text x="370.0" y="334.7" font-size="10" text-anchor="middle">160°W</text>
<text x="411.2" y="334.7" font-size="10" text-anchor="middle">120°W</text>
<text x="452.5" y="334.7" font-size="10" text-anchor="middle">80°W</text>
<text x="370.0" y="352.3" font-size="12" text-anchor="middle">Longitude</text>
<text transform="translate(239.5,258.8) rotate(-90)" font-size="11.9" text-anchor="middle">Month</text>
<text x="287.5" y="191.4" font-size="11">(f) 1997-98 <tspan font-style="italic">E</tspan><tspan font-size="8" dy="2">CTL</tspan></text>
<text x="281.5" y="506.5" font-size="10.4" text-anchor="end">Mar(0)</text>
<text x="281.5" y="488.6" font-size="10.4" text-anchor="end">May(0)</text>
<text x="281.5" y="470.6" font-size="10.4" text-anchor="end">Jul(0)</text>
<text x="281.5" y="452.7" font-size="10.4" text-anchor="end">Sep(0)</text>
<text x="281.5" y="434.8" font-size="10.4" text-anchor="end">Nov(0)</text>
<text x="281.5" y="416.9" font-size="10.4" text-anchor="end">Jan(1)</text>
<text x="281.5" y="398.9" font-size="10.4" text-anchor="end">Mar(1)</text>
<text x="281.5" y="381.0" font-size="10.4" text-anchor="end">May(1)</text>
<text x="287.5" y="516.3" font-size="10" text-anchor="middle">120°E</text>
<text x="328.8" y="516.3" font-size="10" text-anchor="middle">160°E</text>
<text x="370.0" y="516.3" font-size="10" text-anchor="middle">160°W</text>
<text x="411.2" y="516.3" font-size="10" text-anchor="middle">120°W</text>
<text x="452.5" y="516.3" font-size="10" text-anchor="middle">80°W</text>
<text x="370.0" y="533.9" font-size="12" text-anchor="middle">Longitude</text>
<text transform="translate(239.5,440.4) rotate(-90)" font-size="11.9" text-anchor="middle">Month</text>
<text x="287.5" y="373.0" font-size="11">(g) 2015-16 <tspan font-style="italic">E</tspan><tspan font-size="8" dy="2">CTL</tspan></text>
<text x="281.5" y="688.4" font-size="10.4" text-anchor="end">Mar(0)</text>
<text x="281.5" y="670.5" font-size="10.4" text-anchor="end">May(0)</text>
<text x="281.5" y="652.5" font-size="10.4" text-anchor="end">Jul(0)</text>
<text x="281.5" y="634.6" font-size="10.4" text-anchor="end">Sep(0)</text>
<text x="281.5" y="616.7" font-size="10.4" text-anchor="end">Nov(0)</text>
<text x="281.5" y="598.8" font-size="10.4" text-anchor="end">Jan(1)</text>
<text x="281.5" y="580.8" font-size="10.4" text-anchor="end">Mar(1)</text>
<text x="281.5" y="562.9" font-size="10.4" text-anchor="end">May(1)</text>
<text x="287.5" y="698.2" font-size="10" text-anchor="middle">120°E</text>
<text x="328.8" y="698.2" font-size="10" text-anchor="middle">160°E</text>
<text x="370.0" y="698.2" font-size="10" text-anchor="middle">160°W</text>
<text x="411.2" y="698.2" font-size="10" text-anchor="middle">120°W</text>
<text x="452.5" y="698.2" font-size="10" text-anchor="middle">80°W</text>
<text x="370.0" y="715.8" font-size="12" text-anchor="middle">Longitude</text>
<text transform="translate(239.5,622.2) rotate(-90)" font-size="11.9" text-anchor="middle">Month</text>
<text x="287.5" y="554.9" font-size="11">(h) 2023-24 <tspan font-style="italic">E</tspan><tspan font-size="8" dy="2">CTL</tspan></text>
<text x="513.2" y="20.5" font-size="10.4" text-anchor="end">3</text>
<text x="513.2" y="35.8" font-size="10.4" text-anchor="end">2.5</text>
<text x="513.2" y="51.1" font-size="10.4" text-anchor="end">2</text>
<text x="513.2" y="66.4" font-size="10.4" text-anchor="end">1.5</text>
<text x="513.2" y="81.7" font-size="10.4" text-anchor="end">1</text>
<text x="513.2" y="97.0" font-size="10.4" text-anchor="end">0.5</text>
<text x="513.2" y="112.3" font-size="10.4" text-anchor="end">0</text>
<text x="513.2" y="127.6" font-size="10.4" text-anchor="end">-0.5</text>
<text x="513.2" y="142.9" font-size="10.4" text-anchor="end">-1</text>
<text x="519.2" y="153.0" font-size="11" text-anchor="middle">Mar(0)</text>
<text x="554.7" y="153.0" font-size="11" text-anchor="middle">Jun(0)</text>
<text x="590.1" y="153.0" font-size="11" text-anchor="middle">Sep(0)</text>
<text x="625.6" y="153.0" font-size="11" text-anchor="middle">Dec(0)</text>
<text x="661.1" y="153.0" font-size="11" text-anchor="middle">Mar(1)</text>
<text x="602" y="169.7" font-size="11" text-anchor="middle">Month</text>
<text transform="translate(484.3,76.7) rotate(-90)" font-size="12" text-anchor="middle">Niño3.4</text>
<text x="519.2" y="9.7" font-size="10">(i)</text>
<text x="551.4" y="116.8" font-size="8.6"><tspan font-style="italic">E</tspan><tspan font-size="6.4" dy="1.8">Random</tspan></text>
<text x="623.3" y="116.8" font-size="8.6"><tspan font-style="italic">E</tspan><tspan font-size="6.4" dy="1.8">CTL</tspan></text>
<text x="551.5" y="128.9" font-size="8.6">OBS</text>
<text x="513.2" y="202.8" font-size="10.4" text-anchor="end">3</text>
<text x="513.2" y="218.1" font-size="10.4" text-anchor="end">2.5</text>
<text x="513.2" y="233.4" font-size="10.4" text-anchor="end">2</text>
<text x="513.2" y="248.7" font-size="10.4" text-anchor="end">1.5</text>
<text x="513.2" y="264.0" font-size="10.4" text-anchor="end">1</text>
<text x="513.2" y="279.3" font-size="10.4" text-anchor="end">0.5</text>
<text x="513.2" y="294.6" font-size="10.4" text-anchor="end">0</text>
<text x="513.2" y="309.9" font-size="10.4" text-anchor="end">-0.5</text>
<text x="513.2" y="325.2" font-size="10.4" text-anchor="end">-1</text>
<text x="519.2" y="335.3" font-size="11" text-anchor="middle">Mar(0)</text>
<text x="554.7" y="335.3" font-size="11" text-anchor="middle">Jun(0)</text>
<text x="590.1" y="335.3" font-size="11" text-anchor="middle">Sep(0)</text>
<text x="625.6" y="335.3" font-size="11" text-anchor="middle">Dec(0)</text>
<text x="661.1" y="335.3" font-size="11" text-anchor="middle">Mar(1)</text>
<text x="602" y="352.0" font-size="11" text-anchor="middle">Month</text>
<text transform="translate(484.3,259.0) rotate(-90)" font-size="12" text-anchor="middle">Niño3.4</text>
<text x="519.2" y="192.0" font-size="10">(j)</text>
<text x="513.2" y="384.4" font-size="10.4" text-anchor="end">3</text>
<text x="513.2" y="399.7" font-size="10.4" text-anchor="end">2.5</text>
<text x="513.2" y="415.0" font-size="10.4" text-anchor="end">2</text>
<text x="513.2" y="430.3" font-size="10.4" text-anchor="end">1.5</text>
<text x="513.2" y="445.6" font-size="10.4" text-anchor="end">1</text>
<text x="513.2" y="460.9" font-size="10.4" text-anchor="end">0.5</text>
<text x="513.2" y="476.2" font-size="10.4" text-anchor="end">0</text>
<text x="513.2" y="491.5" font-size="10.4" text-anchor="end">-0.5</text>
<text x="513.2" y="506.8" font-size="10.4" text-anchor="end">-1</text>
<text x="519.2" y="516.9" font-size="11" text-anchor="middle">Mar(0)</text>
<text x="554.7" y="516.9" font-size="11" text-anchor="middle">Jun(0)</text>
<text x="590.1" y="516.9" font-size="11" text-anchor="middle">Sep(0)</text>
<text x="625.6" y="516.9" font-size="11" text-anchor="middle">Dec(0)</text>
<text x="661.1" y="516.9" font-size="11" text-anchor="middle">Mar(1)</text>
<text x="602" y="533.6" font-size="11" text-anchor="middle">Month</text>
<text transform="translate(484.3,440.6) rotate(-90)" font-size="12" text-anchor="middle">Niño3.4</text>
<text x="519.2" y="373.6" font-size="10">(k)</text>
<text x="513.2" y="566.3" font-size="10.4" text-anchor="end">3</text>
<text x="513.2" y="581.6" font-size="10.4" text-anchor="end">2.5</text>
<text x="513.2" y="596.9" font-size="10.4" text-anchor="end">2</text>
<text x="513.2" y="612.2" font-size="10.4" text-anchor="end">1.5</text>
<text x="513.2" y="627.5" font-size="10.4" text-anchor="end">1</text>
<text x="513.2" y="642.8" font-size="10.4" text-anchor="end">0.5</text>
<text x="513.2" y="658.1" font-size="10.4" text-anchor="end">0</text>
<text x="513.2" y="673.4" font-size="10.4" text-anchor="end">-0.5</text>
<text x="513.2" y="688.7" font-size="10.4" text-anchor="end">-1</text>
<text x="519.2" y="698.8" font-size="11" text-anchor="middle">Mar(0)</text>
<text x="554.7" y="698.8" font-size="11" text-anchor="middle">Jun(0)</text>
<text x="590.1" y="698.8" font-size="11" text-anchor="middle">Sep(0)</text>
<text x="625.6" y="698.8" font-size="11" text-anchor="middle">Dec(0)</text>
<text x="661.1" y="698.8" font-size="11" text-anchor="middle">Mar(1)</text>
<text x="602" y="715.5" font-size="11" text-anchor="middle">Month</text>
<text transform="translate(484.3,622.5) rotate(-90)" font-size="12" text-anchor="middle">Niño3.4</text>
<text x="519.2" y="555.5" font-size="10">(l)</text>
<text x="150.1" y="751" font-size="10" text-anchor="middle">−2.4</text>
<text x="179.6" y="751" font-size="10" text-anchor="middle">−1.6</text>
<text x="209.0" y="751" font-size="10" text-anchor="middle">−0.8</text>
<text x="238.5" y="751" font-size="10" text-anchor="middle">0.0</text>
<text x="268.0" y="751" font-size="10" text-anchor="middle">0.8</text>
<text x="297.4" y="751" font-size="10" text-anchor="middle">1.6</text>
<text x="326.9" y="751" font-size="10" text-anchor="middle">2.4</text>
<text x="232.5" y="763.5" font-size="8">°</text><text x="237.3" y="767" font-size="11">C</text>
</svg></body></html>
